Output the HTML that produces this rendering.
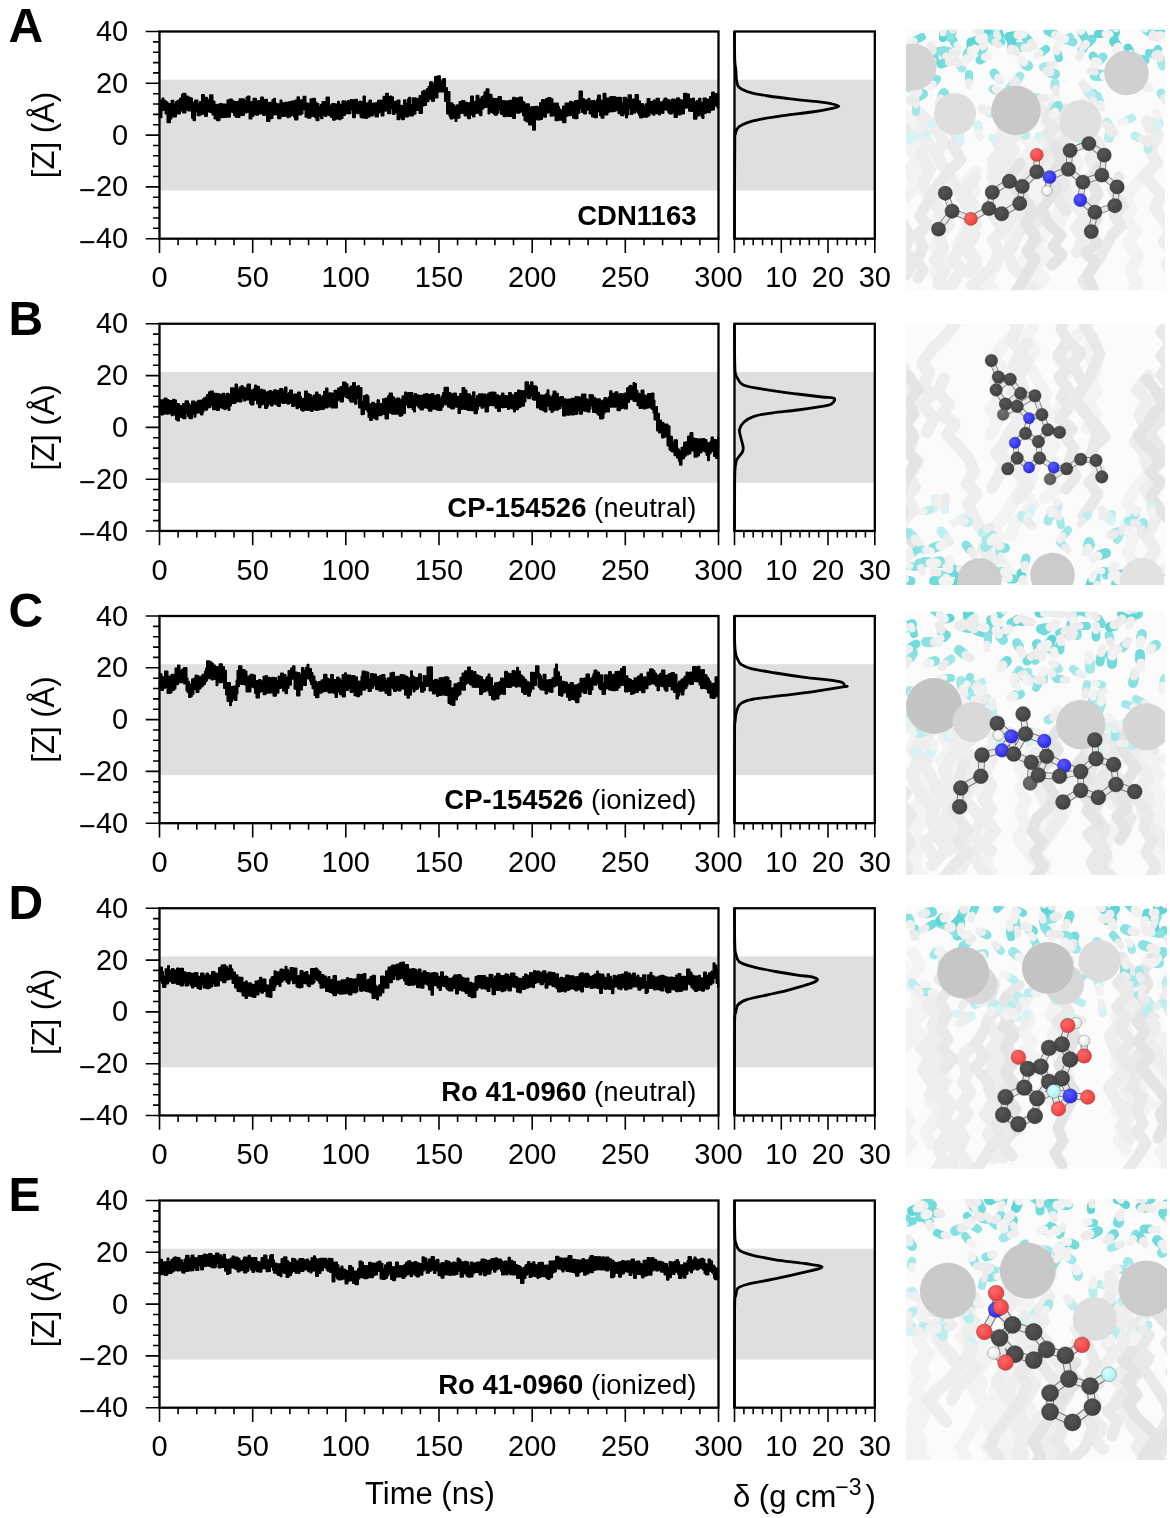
<!DOCTYPE html>
<html><head><meta charset="utf-8"><style>
html,body{margin:0;padding:0;background:#fff;}
body{width:1170px;height:1518px;position:relative;overflow:hidden;font-family:"Liberation Sans", sans-serif;}
</style></head><body>
<svg width="1170" height="1518" viewBox="0 0 1170 1518" style="position:absolute;left:0;top:0;will-change:transform"><rect width="1170" height="1518" fill="#fff"/><rect x="159.5" y="79.7" width="559.0" height="110.9" fill="#dfdfdf"/><rect x="734.5" y="79.7" width="140.3" height="110.9" fill="#dfdfdf"/><path d="M159.8,100.5 L161.5,100.5 L161.5,100.5 L162.5,100.5 L162.5,98.5 L163.5,98.5 L163.5,100.8 L165.5,100.8 L165.5,102.2 L167.5,102.2 L167.5,104.1 L170.0,104.1 L170.0,108.0 L171.5,108.0 L171.5,100.8 L173.5,100.8 L173.5,104.6 L176.0,104.6 L176.0,101.9 L177.5,101.9 L177.5,100.8 L180.0,100.8 L180.0,98.6 L182.0,98.6 L182.0,94.8 L183.0,94.8 L183.0,93.8 L185.5,93.8 L185.5,96.5 L188.0,96.5 L188.0,99.3 L189.5,99.3 L189.5,97.7 L190.5,97.7 L190.5,98.6 L192.0,98.6 L192.0,102.6 L193.5,102.6 L193.5,104.6 L195.0,104.6 L195.0,100.5 L197.5,100.5 L197.5,103.9 L200.0,103.9 L200.0,102.0 L202.0,102.0 L202.0,95.1 L204.0,95.1 L204.0,103.4 L205.0,103.4 L205.0,97.7 L207.0,97.7 L207.0,101.5 L209.0,101.5 L209.0,99.6 L210.0,99.6 L210.0,95.2 L212.5,95.2 L212.5,101.6 L214.5,101.6 L214.5,104.7 L217.0,104.7 L217.0,105.2 L219.5,105.2 L219.5,104.0 L222.0,104.0 L222.0,106.2 L223.5,106.2 L223.5,104.6 L226.0,104.6 L226.0,105.0 L227.5,105.0 L227.5,100.2 L230.0,100.2 L230.0,99.4 L232.0,99.4 L232.0,101.2 L234.0,101.2 L234.0,102.0 L235.5,102.0 L235.5,101.9 L237.0,101.9 L237.0,101.9 L239.5,101.9 L239.5,99.3 L241.5,99.3 L241.5,99.2 L244.0,99.2 L244.0,101.1 L246.5,101.1 L246.5,97.6 L248.0,97.6 L248.0,96.4 L249.5,96.4 L249.5,103.5 L251.5,103.5 L251.5,101.9 L253.5,101.9 L253.5,98.8 L256.0,98.8 L256.0,101.8 L258.0,101.8 L258.0,101.0 L259.5,101.0 L259.5,101.5 L261.0,101.5 L261.0,97.5 L263.0,97.5 L263.0,101.1 L265.0,101.1 L265.0,99.8 L267.0,99.8 L267.0,103.1 L269.5,103.1 L269.5,102.8 L271.5,102.8 L271.5,105.5 L272.5,105.5 L272.5,99.9 L274.0,99.9 L274.0,98.8 L275.0,98.8 L275.0,103.6 L276.5,103.6 L276.5,106.4 L278.0,106.4 L278.0,104.3 L280.5,104.3 L280.5,100.4 L281.5,100.4 L281.5,103.5 L282.5,103.5 L282.5,103.3 L285.0,103.3 L285.0,102.8 L287.5,102.8 L287.5,104.3 L288.5,104.3 L288.5,102.3 L290.5,102.3 L290.5,104.7 L291.5,104.7 L291.5,101.6 L294.0,101.6 L294.0,104.8 L295.0,104.8 L295.0,100.6 L297.5,100.6 L297.5,97.3 L299.0,97.3 L299.0,100.8 L301.0,100.8 L301.0,100.2 L302.5,100.2 L302.5,99.9 L303.5,99.9 L303.5,96.7 L305.5,96.7 L305.5,103.2 L307.0,103.2 L307.0,105.2 L308.0,105.2 L308.0,103.7 L310.5,103.7 L310.5,99.2 L313.0,99.2 L313.0,98.8 L315.0,98.8 L315.0,102.4 L316.5,102.4 L316.5,104.1 L318.5,104.1 L318.5,107.0 L321.0,107.0 L321.0,104.7 L322.5,104.7 L322.5,102.1 L325.0,102.1 L325.0,102.2 L326.5,102.2 L326.5,97.4 L329.0,97.4 L329.0,105.5 L331.0,105.5 L331.0,106.0 L332.0,106.0 L332.0,103.9 L333.0,103.9 L333.0,104.1 L335.0,104.1 L335.0,106.4 L337.0,106.4 L337.0,104.3 L338.0,104.3 L338.0,101.7 L339.0,101.7 L339.0,107.2 L340.5,107.2 L340.5,104.6 L342.5,104.6 L342.5,101.2 L345.0,101.2 L345.0,102.6 L346.0,102.6 L346.0,103.2 L347.5,103.2 L347.5,100.9 L348.5,100.9 L348.5,104.4 L350.5,104.4 L350.5,100.1 L351.5,100.1 L351.5,100.1 L353.0,100.1 L353.0,104.8 L355.0,104.8 L355.0,99.8 L357.0,99.8 L357.0,102.8 L359.5,102.8 L359.5,101.6 L360.5,101.6 L360.5,107.7 L361.5,107.7 L361.5,101.9 L363.5,101.9 L363.5,96.6 L365.0,96.6 L365.0,103.6 L367.0,103.6 L367.0,107.3 L368.5,107.3 L368.5,102.3 L369.5,102.3 L369.5,100.5 L371.0,100.5 L371.0,103.7 L373.0,103.7 L373.0,103.4 L375.5,103.4 L375.5,103.2 L378.0,103.2 L378.0,100.7 L379.5,100.7 L379.5,100.6 L381.5,100.6 L381.5,102.1 L383.5,102.1 L383.5,96.7 L386.0,96.7 L386.0,93.8 L388.0,93.8 L388.0,97.2 L390.5,97.2 L390.5,96.5 L391.5,96.5 L391.5,97.3 L393.0,97.3 L393.0,102.8 L394.5,102.8 L394.5,101.7 L396.5,101.7 L396.5,102.2 L397.5,102.2 L397.5,100.5 L399.5,100.5 L399.5,105.8 L402.0,105.8 L402.0,108.0 L404.0,108.0 L404.0,100.2 L405.5,100.2 L405.5,104.0 L408.0,104.0 L408.0,99.3 L409.0,99.3 L409.0,97.8 L410.5,97.8 L410.5,105.1 L413.0,105.1 L413.0,98.3 L415.5,98.3 L415.5,98.8 L417.5,98.8 L417.5,99.8 L419.5,99.8 L419.5,95.9 L422.0,95.9 L422.0,92.0 L423.5,92.0 L423.5,90.8 L426.0,90.8 L426.0,90.7 L427.0,90.7 L427.0,88.9 L428.5,88.9 L428.5,86.8 L430.0,86.8 L430.0,82.3 L432.0,82.3 L432.0,83.5 L434.0,83.5 L434.0,88.8 L435.0,88.8 L435.0,77.1 L437.5,77.1 L437.5,76.3 L440.0,76.3 L440.0,81.4 L442.5,81.4 L442.5,79.4 L443.5,79.4 L443.5,79.0 L445.0,79.0 L445.0,88.1 L447.0,88.1 L447.0,92.0 L449.5,92.0 L449.5,106.2 L450.5,106.2 L450.5,103.2 L452.5,103.2 L452.5,105.1 L454.0,105.1 L454.0,107.0 L455.5,107.0 L455.5,110.3 L456.5,110.3 L456.5,105.2 L457.5,105.2 L457.5,106.4 L459.5,106.4 L459.5,101.9 L462.0,101.9 L462.0,101.0 L464.5,101.0 L464.5,102.8 L467.0,102.8 L467.0,103.1 L468.0,103.1 L468.0,103.3 L470.0,103.3 L470.0,103.4 L471.0,103.4 L471.0,96.6 L473.0,96.6 L473.0,106.6 L474.5,106.6 L474.5,101.9 L475.5,101.9 L475.5,101.6 L476.5,101.6 L476.5,95.8 L478.5,95.8 L478.5,103.5 L480.0,103.5 L480.0,99.3 L481.5,99.3 L481.5,97.1 L483.5,97.1 L483.5,95.7 L484.5,95.7 L484.5,92.2 L486.5,92.2 L486.5,89.3 L488.5,89.3 L488.5,99.5 L489.5,99.5 L489.5,94.8 L491.5,94.8 L491.5,98.4 L493.0,98.4 L493.0,99.7 L494.5,99.7 L494.5,99.0 L497.0,99.0 L497.0,101.4 L498.5,101.4 L498.5,97.0 L501.0,97.0 L501.0,101.1 L503.5,101.1 L503.5,101.3 L506.0,101.3 L506.0,102.0 L508.0,102.0 L508.0,101.3 L509.5,101.3 L509.5,100.8 L512.0,100.8 L512.0,102.9 L513.0,102.9 L513.0,97.8 L515.0,97.8 L515.0,99.4 L517.0,99.4 L517.0,98.2 L519.5,98.2 L519.5,97.6 L522.0,97.6 L522.0,101.6 L523.0,101.6 L523.0,102.5 L524.5,102.5 L524.5,105.1 L526.5,105.1 L526.5,104.2 L529.0,104.2 L529.0,107.9 L531.5,107.9 L531.5,107.0 L533.0,107.0 L533.0,110.5 L535.0,110.5 L535.0,106.8 L537.5,106.8 L537.5,107.2 L540.0,107.2 L540.0,102.9 L542.0,102.9 L542.0,100.1 L544.0,100.1 L544.0,102.8 L546.0,102.8 L546.0,99.1 L548.0,99.1 L548.0,98.0 L550.5,98.0 L550.5,99.3 L552.5,99.3 L552.5,103.7 L554.5,103.7 L554.5,104.5 L555.5,104.5 L555.5,103.5 L558.0,103.5 L558.0,106.7 L559.0,106.7 L559.0,109.5 L560.5,109.5 L560.5,111.4 L562.0,111.4 L562.0,110.3 L563.0,110.3 L563.0,106.5 L565.5,106.5 L565.5,103.4 L567.5,103.4 L567.5,103.4 L570.0,103.4 L570.0,101.8 L571.0,101.8 L571.0,105.9 L572.0,105.9 L572.0,102.3 L573.0,102.3 L573.0,105.8 L575.0,105.8 L575.0,100.9 L577.5,100.9 L577.5,100.7 L579.5,100.7 L579.5,91.5 L582.0,91.5 L582.0,99.1 L584.0,99.1 L584.0,101.6 L586.0,101.6 L586.0,100.2 L587.0,100.2 L587.0,100.1 L588.5,100.1 L588.5,98.8 L589.5,98.8 L589.5,101.2 L592.0,101.2 L592.0,101.0 L594.5,101.0 L594.5,101.7 L597.0,101.7 L597.0,99.5 L598.0,99.5 L598.0,95.6 L600.0,95.6 L600.0,100.6 L601.5,100.6 L601.5,103.5 L603.5,103.5 L603.5,93.7 L605.5,93.7 L605.5,98.4 L607.5,98.4 L607.5,99.3 L609.5,99.3 L609.5,97.5 L611.0,97.5 L611.0,97.1 L613.5,97.1 L613.5,96.9 L615.0,96.9 L615.0,97.7 L616.5,97.7 L616.5,98.1 L618.5,98.1 L618.5,97.7 L621.0,97.7 L621.0,103.6 L623.5,103.6 L623.5,97.7 L626.0,97.7 L626.0,100.6 L627.0,100.6 L627.0,99.7 L628.5,99.7 L628.5,95.2 L631.0,95.2 L631.0,103.2 L632.5,103.2 L632.5,99.6 L634.0,99.6 L634.0,101.6 L635.5,101.6 L635.5,95.0 L638.0,95.0 L638.0,102.8 L639.0,102.8 L639.0,101.3 L640.0,101.3 L640.0,105.3 L642.0,105.3 L642.0,104.0 L643.0,104.0 L643.0,106.6 L645.5,106.6 L645.5,104.2 L647.5,104.2 L647.5,99.1 L649.5,99.1 L649.5,101.9 L650.5,101.9 L650.5,102.1 L652.5,102.1 L652.5,103.6 L653.5,103.6 L653.5,100.4 L654.5,100.4 L654.5,101.5 L655.5,101.5 L655.5,100.8 L656.5,100.8 L656.5,98.8 L659.0,98.8 L659.0,104.0 L660.0,104.0 L660.0,102.2 L662.0,102.2 L662.0,102.6 L663.5,102.6 L663.5,100.6 L664.5,100.6 L664.5,98.4 L666.5,98.4 L666.5,100.3 L667.5,100.3 L667.5,102.0 L668.5,102.0 L668.5,100.1 L669.5,100.1 L669.5,101.2 L672.0,101.2 L672.0,99.4 L674.5,99.4 L674.5,100.2 L677.0,100.2 L677.0,98.3 L679.0,98.3 L679.0,100.4 L680.5,100.4 L680.5,99.9 L681.5,99.9 L681.5,101.1 L684.0,101.1 L684.0,93.7 L686.5,93.7 L686.5,94.4 L689.0,94.4 L689.0,98.9 L690.0,98.9 L690.0,99.0 L691.0,99.0 L691.0,99.9 L693.0,99.9 L693.0,98.6 L694.0,98.6 L694.0,102.4 L696.5,102.4 L696.5,100.9 L699.0,100.9 L699.0,98.7 L700.5,98.7 L700.5,102.6 L701.5,102.6 L701.5,106.6 L702.5,106.6 L702.5,103.9 L703.5,103.9 L703.5,98.4 L706.0,98.4 L706.0,100.4 L708.0,100.4 L708.0,99.5 L710.0,99.5 L710.0,97.0 L712.0,97.0 L712.0,92.6 L714.0,92.6 L714.0,96.8 L715.0,96.8 L715.0,96.0 L716.0,96.0 L716.0,93.9 L717.5,93.9 L717.5,94.6 L718.2,94.6 L718.2,107.7 L717.5,107.7 L717.5,105.7 L716.0,105.7 L716.0,104.1 L715.0,104.1 L715.0,105.3 L714.0,105.3 L714.0,109.5 L712.0,109.5 L712.0,110.0 L710.0,110.0 L710.0,112.2 L708.0,112.2 L708.0,110.9 L706.0,110.9 L706.0,113.0 L703.5,113.0 L703.5,118.1 L702.5,118.1 L702.5,116.6 L701.5,116.6 L701.5,114.0 L700.5,114.0 L700.5,113.0 L699.0,113.0 L699.0,115.6 L696.5,115.6 L696.5,118.7 L694.0,118.7 L694.0,106.9 L693.0,106.9 L693.0,110.9 L691.0,110.9 L691.0,110.9 L690.0,110.9 L690.0,110.7 L689.0,110.7 L689.0,107.5 L686.5,107.5 L686.5,107.7 L684.0,107.7 L684.0,113.5 L681.5,113.5 L681.5,110.4 L680.5,110.4 L680.5,114.6 L679.0,114.6 L679.0,112.2 L677.0,112.2 L677.0,117.1 L674.5,117.1 L674.5,111.9 L672.0,111.9 L672.0,113.6 L669.5,113.6 L669.5,112.4 L668.5,112.4 L668.5,110.5 L667.5,110.5 L667.5,109.2 L666.5,109.2 L666.5,109.6 L664.5,109.6 L664.5,109.0 L663.5,109.0 L663.5,112.9 L662.0,112.9 L662.0,112.3 L660.0,112.3 L660.0,114.4 L659.0,114.4 L659.0,113.3 L656.5,113.3 L656.5,111.5 L655.5,111.5 L655.5,110.3 L654.5,110.3 L654.5,114.8 L653.5,114.8 L653.5,114.3 L652.5,114.3 L652.5,112.8 L650.5,112.8 L650.5,113.0 L649.5,113.0 L649.5,115.5 L647.5,115.5 L647.5,116.8 L645.5,116.8 L645.5,116.7 L643.0,116.7 L643.0,114.5 L642.0,114.5 L642.0,117.4 L640.0,117.4 L640.0,115.1 L639.0,115.1 L639.0,113.1 L638.0,113.1 L638.0,110.6 L635.5,110.6 L635.5,112.6 L634.0,112.6 L634.0,110.0 L632.5,110.0 L632.5,114.0 L631.0,114.0 L631.0,108.6 L628.5,108.6 L628.5,114.6 L627.0,114.6 L627.0,117.5 L626.0,117.5 L626.0,113.2 L623.5,113.2 L623.5,115.3 L621.0,115.3 L621.0,113.3 L618.5,113.3 L618.5,110.2 L616.5,110.2 L616.5,109.0 L615.0,109.0 L615.0,110.9 L613.5,110.9 L613.5,111.2 L611.0,111.2 L611.0,110.2 L609.5,110.2 L609.5,111.7 L607.5,111.7 L607.5,114.5 L605.5,114.5 L605.5,110.1 L603.5,110.1 L603.5,117.7 L601.5,117.7 L601.5,115.2 L600.0,115.2 L600.0,109.3 L598.0,109.3 L598.0,111.7 L597.0,111.7 L597.0,117.3 L594.5,117.3 L594.5,116.6 L592.0,116.6 L592.0,113.5 L589.5,113.5 L589.5,108.2 L588.5,108.2 L588.5,109.6 L587.0,109.6 L587.0,109.9 L586.0,109.9 L586.0,113.6 L584.0,113.6 L584.0,112.1 L582.0,112.1 L582.0,108.5 L579.5,108.5 L579.5,112.8 L577.5,112.8 L577.5,118.2 L575.0,118.2 L575.0,117.7 L573.0,117.7 L573.0,112.4 L572.0,112.4 L572.0,115.0 L571.0,115.0 L571.0,112.6 L570.0,112.6 L570.0,115.2 L567.5,115.2 L567.5,115.8 L565.5,115.8 L565.5,122.3 L563.0,122.3 L563.0,119.1 L562.0,119.1 L562.0,119.7 L560.5,119.7 L560.5,119.7 L559.0,119.7 L559.0,119.3 L558.0,119.3 L558.0,120.3 L555.5,120.3 L555.5,115.3 L554.5,115.3 L554.5,115.3 L552.5,115.3 L552.5,115.8 L550.5,115.8 L550.5,112.0 L548.0,112.0 L548.0,112.8 L546.0,112.8 L546.0,116.8 L544.0,116.8 L544.0,113.4 L542.0,113.4 L542.0,118.9 L540.0,118.9 L540.0,119.5 L537.5,119.5 L537.5,119.2 L535.0,119.2 L535.0,129.8 L533.0,129.8 L533.0,123.3 L531.5,123.3 L531.5,124.5 L529.0,124.5 L529.0,121.5 L526.5,121.5 L526.5,120.3 L524.5,120.3 L524.5,115.2 L523.0,115.2 L523.0,108.8 L522.0,108.8 L522.0,111.8 L519.5,111.8 L519.5,112.7 L517.0,112.7 L517.0,108.4 L515.0,108.4 L515.0,118.0 L513.0,118.0 L513.0,114.5 L512.0,114.5 L512.0,115.9 L509.5,115.9 L509.5,116.1 L508.0,116.1 L508.0,112.2 L506.0,112.2 L506.0,116.3 L503.5,116.3 L503.5,113.9 L501.0,113.9 L501.0,109.4 L498.5,109.4 L498.5,112.8 L497.0,112.8 L497.0,114.7 L494.5,114.7 L494.5,112.9 L493.0,112.9 L493.0,111.9 L491.5,111.9 L491.5,109.9 L489.5,109.9 L489.5,113.6 L488.5,113.6 L488.5,105.3 L486.5,105.3 L486.5,107.0 L484.5,107.0 L484.5,106.1 L483.5,106.1 L483.5,108.4 L481.5,108.4 L481.5,115.3 L480.0,115.3 L480.0,113.2 L478.5,113.2 L478.5,111.6 L476.5,111.6 L476.5,113.1 L475.5,113.1 L475.5,112.8 L474.5,112.8 L474.5,116.5 L473.0,116.5 L473.0,114.5 L471.0,114.5 L471.0,112.8 L470.0,112.8 L470.0,118.3 L468.0,118.3 L468.0,112.8 L467.0,112.8 L467.0,115.6 L464.5,115.6 L464.5,112.8 L462.0,112.8 L462.0,113.0 L459.5,113.0 L459.5,117.8 L457.5,117.8 L457.5,115.8 L456.5,115.8 L456.5,121.1 L455.5,121.1 L455.5,115.7 L454.0,115.7 L454.0,117.6 L452.5,117.6 L452.5,118.4 L450.5,118.4 L450.5,115.9 L449.5,115.9 L449.5,113.5 L447.0,113.5 L447.0,101.0 L445.0,101.0 L445.0,91.8 L443.5,91.8 L443.5,88.6 L442.5,88.6 L442.5,91.5 L440.0,91.5 L440.0,91.4 L437.5,91.4 L437.5,97.6 L435.0,97.6 L435.0,97.7 L434.0,97.7 L434.0,101.1 L432.0,101.1 L432.0,98.8 L430.0,98.8 L430.0,95.4 L428.5,95.4 L428.5,101.3 L427.0,101.3 L427.0,99.4 L426.0,99.4 L426.0,105.0 L423.5,105.0 L423.5,105.5 L422.0,105.5 L422.0,112.9 L419.5,112.9 L419.5,109.9 L417.5,109.9 L417.5,109.5 L415.5,109.5 L415.5,113.8 L413.0,113.8 L413.0,115.5 L410.5,115.5 L410.5,115.5 L409.0,115.5 L409.0,113.0 L408.0,113.0 L408.0,116.4 L405.5,116.4 L405.5,116.6 L404.0,116.6 L404.0,119.3 L402.0,119.3 L402.0,116.9 L399.5,116.9 L399.5,119.3 L397.5,119.3 L397.5,111.8 L396.5,111.8 L396.5,112.4 L394.5,112.4 L394.5,113.9 L393.0,113.9 L393.0,108.2 L391.5,108.2 L391.5,105.8 L390.5,105.8 L390.5,113.2 L388.0,113.2 L388.0,103.9 L386.0,103.9 L386.0,110.7 L383.5,110.7 L383.5,115.5 L381.5,115.5 L381.5,111.5 L379.5,111.5 L379.5,112.4 L378.0,112.4 L378.0,116.4 L375.5,116.4 L375.5,113.8 L373.0,113.8 L373.0,115.6 L371.0,115.6 L371.0,111.0 L369.5,111.0 L369.5,116.7 L368.5,116.7 L368.5,116.4 L367.0,116.4 L367.0,118.1 L365.0,118.1 L365.0,111.5 L363.5,111.5 L363.5,117.5 L361.5,117.5 L361.5,116.7 L360.5,116.7 L360.5,113.4 L359.5,113.4 L359.5,113.3 L357.0,113.3 L357.0,110.8 L355.0,110.8 L355.0,117.2 L353.0,117.2 L353.0,109.6 L351.5,109.6 L351.5,107.8 L350.5,107.8 L350.5,113.2 L348.5,113.2 L348.5,109.1 L347.5,109.1 L347.5,113.2 L346.0,113.2 L346.0,110.3 L345.0,110.3 L345.0,115.0 L342.5,115.0 L342.5,118.1 L340.5,118.1 L340.5,119.2 L339.0,119.2 L339.0,113.7 L338.0,113.7 L338.0,114.7 L337.0,114.7 L337.0,118.8 L335.0,118.8 L335.0,119.8 L333.0,119.8 L333.0,113.8 L332.0,113.8 L332.0,116.9 L331.0,116.9 L331.0,115.2 L329.0,115.2 L329.0,113.9 L326.5,113.9 L326.5,116.1 L325.0,116.1 L325.0,114.8 L322.5,114.8 L322.5,118.2 L321.0,118.2 L321.0,115.4 L318.5,115.4 L318.5,120.2 L316.5,120.2 L316.5,117.2 L315.0,117.2 L315.0,115.9 L313.0,115.9 L313.0,115.7 L310.5,115.7 L310.5,117.8 L308.0,117.8 L308.0,115.4 L307.0,115.4 L307.0,116.7 L305.5,116.7 L305.5,109.3 L303.5,109.3 L303.5,108.9 L302.5,108.9 L302.5,113.6 L301.0,113.6 L301.0,114.6 L299.0,114.6 L299.0,112.0 L297.5,112.0 L297.5,119.6 L295.0,119.6 L295.0,116.8 L294.0,116.8 L294.0,114.9 L291.5,114.9 L291.5,112.9 L290.5,112.9 L290.5,116.5 L288.5,116.5 L288.5,117.2 L287.5,117.2 L287.5,115.4 L285.0,115.4 L285.0,116.0 L282.5,116.0 L282.5,115.8 L281.5,115.8 L281.5,110.2 L280.5,110.2 L280.5,118.2 L278.0,118.2 L278.0,114.3 L276.5,114.3 L276.5,113.1 L275.0,113.1 L275.0,114.5 L274.0,114.5 L274.0,111.4 L272.5,111.4 L272.5,118.0 L271.5,118.0 L271.5,118.2 L269.5,118.2 L269.5,121.0 L267.0,121.0 L267.0,114.3 L265.0,114.3 L265.0,115.1 L263.0,115.1 L263.0,108.7 L261.0,108.7 L261.0,113.4 L259.5,113.4 L259.5,112.4 L258.0,112.4 L258.0,114.7 L256.0,114.7 L256.0,114.0 L253.5,114.0 L253.5,116.1 L251.5,116.1 L251.5,118.4 L249.5,118.4 L249.5,111.8 L248.0,111.8 L248.0,111.4 L246.5,111.4 L246.5,112.4 L244.0,112.4 L244.0,115.0 L241.5,115.0 L241.5,111.8 L239.5,111.8 L239.5,116.9 L237.0,116.9 L237.0,116.8 L235.5,116.8 L235.5,115.0 L234.0,115.0 L234.0,111.9 L232.0,111.9 L232.0,109.9 L230.0,109.9 L230.0,116.7 L227.5,116.7 L227.5,115.7 L226.0,115.7 L226.0,116.9 L223.5,116.9 L223.5,114.8 L222.0,114.8 L222.0,117.3 L219.5,117.3 L219.5,120.2 L217.0,120.2 L217.0,118.6 L214.5,118.6 L214.5,114.4 L212.5,114.4 L212.5,112.0 L210.0,112.0 L210.0,111.3 L209.0,111.3 L209.0,111.6 L207.0,111.6 L207.0,116.0 L205.0,116.0 L205.0,114.0 L204.0,114.0 L204.0,110.8 L202.0,110.8 L202.0,114.3 L200.0,114.3 L200.0,115.2 L197.5,115.2 L197.5,111.5 L195.0,111.5 L195.0,120.3 L193.5,120.3 L193.5,118.0 L192.0,118.0 L192.0,110.2 L190.5,110.2 L190.5,110.6 L189.5,110.6 L189.5,110.6 L188.0,110.6 L188.0,109.0 L185.5,109.0 L185.5,112.5 L183.0,112.5 L183.0,110.7 L182.0,110.7 L182.0,110.0 L180.0,110.0 L180.0,113.5 L177.5,113.5 L177.5,112.1 L176.0,112.1 L176.0,116.4 L173.5,116.4 L173.5,113.5 L171.5,113.5 L171.5,118.4 L170.0,118.4 L170.0,122.3 L167.5,122.3 L167.5,113.6 L165.5,113.6 L165.5,109.6 L163.5,109.6 L163.5,109.9 L162.5,109.9 L162.5,107.0 L161.5,107.0 L161.5,117.3 L159.8,117.3Z" fill="#000" stroke="#000" stroke-width="2.0" stroke-linejoin="round"/><path d="M734.5,31.5 C734.5,36.2 734.6,53.6 734.8,60.0 C735.0,66.4 735.6,66.7 735.9,70.0 C736.2,73.3 736.1,77.3 736.5,80.0 C736.9,82.7 737.0,84.3 738.0,85.9 C739.0,87.5 740.0,88.3 742.4,89.5 C744.8,90.7 748.1,92.0 752.5,93.1 C756.9,94.2 762.2,95.0 768.5,96.0 C774.8,97.0 781.8,97.9 790.2,98.9 C798.7,99.9 812.2,101.0 819.2,101.8 C826.2,102.6 828.9,103.3 832.2,104.0 C835.5,104.7 838.8,105.5 838.8,106.2 C838.8,106.9 836.7,107.3 832.2,108.3 C827.7,109.3 820.2,110.8 812.0,112.0 C803.8,113.2 791.5,114.4 783.0,115.6 C774.5,116.8 767.2,118.0 761.2,119.2 C755.2,120.4 750.3,121.6 746.7,122.8 C743.1,124.0 741.2,125.2 739.5,126.4 C737.8,127.6 737.2,128.7 736.5,130.0 C735.8,131.3 735.8,132.3 735.5,134.0 C735.2,135.7 735.0,122.5 734.8,140.0 C734.6,157.4 734.5,222.2 734.5,238.7" fill="none" stroke="#000" stroke-width="2.8" stroke-linejoin="round"/><rect x="159.5" y="31.5" width="559.0" height="207.2" fill="none" stroke="#000" stroke-width="2.3"/><rect x="734.5" y="31.5" width="140.3" height="207.2" fill="none" stroke="#000" stroke-width="2.3"/><path d="M145.7,238.7H159.5 M153.0,228.3H159.5 M153.0,218.0H159.5 M153.0,207.6H159.5 M153.0,197.3H159.5 M145.7,186.9H159.5 M153.0,176.5H159.5 M153.0,166.2H159.5 M153.0,155.8H159.5 M153.0,145.5H159.5 M145.7,135.1H159.5 M153.0,124.7H159.5 M153.0,114.4H159.5 M153.0,104.0H159.5 M153.0,93.7H159.5 M145.7,83.3H159.5 M153.0,72.9H159.5 M153.0,62.6H159.5 M153.0,52.2H159.5 M153.0,41.9H159.5 M145.7,31.5H159.5 M159.5,238.7V252.9 M178.1,238.7V245.2 M196.8,238.7V245.2 M215.4,238.7V245.2 M234.0,238.7V245.2 M252.7,238.7V252.9 M271.3,238.7V245.2 M289.9,238.7V245.2 M308.6,238.7V245.2 M327.2,238.7V245.2 M345.8,238.7V252.9 M364.5,238.7V245.2 M383.1,238.7V245.2 M401.7,238.7V245.2 M420.4,238.7V245.2 M439.0,238.7V252.9 M457.6,238.7V245.2 M476.3,238.7V245.2 M494.9,238.7V245.2 M513.5,238.7V245.2 M532.2,238.7V252.9 M550.8,238.7V245.2 M569.4,238.7V245.2 M588.1,238.7V245.2 M606.7,238.7V245.2 M625.3,238.7V252.9 M644.0,238.7V245.2 M662.6,238.7V245.2 M681.2,238.7V245.2 M699.9,238.7V245.2 M718.5,238.7V252.9 M734.5,238.7V252.9 M743.9,238.7V245.2 M753.2,238.7V245.2 M762.6,238.7V245.2 M771.9,238.7V245.2 M781.3,238.7V252.9 M790.6,238.7V245.2 M800.0,238.7V245.2 M809.3,238.7V245.2 M818.7,238.7V245.2 M828.0,238.7V252.9 M837.4,238.7V245.2 M846.7,238.7V245.2 M856.1,238.7V245.2 M865.4,238.7V245.2 M874.8,238.7V252.9" stroke="#000" stroke-width="1.6" fill="none"/><text x="128.2" y="41.0" text-anchor="end" font-family='"Liberation Sans", sans-serif' font-size="29">40</text><text x="128.2" y="92.8" text-anchor="end" font-family='"Liberation Sans", sans-serif' font-size="29">20</text><text x="128.2" y="144.6" text-anchor="end" font-family='"Liberation Sans", sans-serif' font-size="29">0</text><text x="128.2" y="196.4" text-anchor="end" font-family='"Liberation Sans", sans-serif' font-size="29"><tspan dy="3.5">−</tspan><tspan dy="-3.5">20</tspan></text><text x="128.2" y="248.2" text-anchor="end" font-family='"Liberation Sans", sans-serif' font-size="29"><tspan dy="3.5">−</tspan><tspan dy="-3.5">40</tspan></text><text x="159.5" y="287.3" text-anchor="middle" font-family='"Liberation Sans", sans-serif' font-size="29">0</text><text x="252.7" y="287.3" text-anchor="middle" font-family='"Liberation Sans", sans-serif' font-size="29">50</text><text x="345.8" y="287.3" text-anchor="middle" font-family='"Liberation Sans", sans-serif' font-size="29">100</text><text x="439.0" y="287.3" text-anchor="middle" font-family='"Liberation Sans", sans-serif' font-size="29">150</text><text x="532.2" y="287.3" text-anchor="middle" font-family='"Liberation Sans", sans-serif' font-size="29">200</text><text x="625.3" y="287.3" text-anchor="middle" font-family='"Liberation Sans", sans-serif' font-size="29">250</text><text x="718.5" y="287.3" text-anchor="middle" font-family='"Liberation Sans", sans-serif' font-size="29">300</text><text x="781.3" y="287.3" text-anchor="middle" font-family='"Liberation Sans", sans-serif' font-size="29">10</text><text x="828.0" y="287.3" text-anchor="middle" font-family='"Liberation Sans", sans-serif' font-size="29">20</text><text x="874.8" y="287.3" text-anchor="middle" font-family='"Liberation Sans", sans-serif' font-size="29">30</text><text transform="translate(54.2,135.1) rotate(-90)" text-anchor="middle" font-family='"Liberation Sans", sans-serif' font-size="31">[Z] (Å)</text><text x="8.6" y="42.4" font-family='"Liberation Sans", sans-serif' font-weight="bold" font-size="48">A</text><text x="696.5" y="224.5" text-anchor="end" font-family='"Liberation Sans", sans-serif' font-size="27.5"><tspan font-weight="bold">CDN1163</tspan></text><rect x="159.5" y="371.9" width="559.0" height="110.9" fill="#dfdfdf"/><rect x="734.5" y="371.9" width="140.3" height="110.9" fill="#dfdfdf"/><path d="M159.8,401.5 L161.0,401.5 L161.0,400.2 L163.0,400.2 L163.0,404.7 L164.5,404.7 L164.5,398.6 L166.5,398.6 L166.5,399.9 L168.5,399.9 L168.5,401.2 L170.0,401.2 L170.0,400.9 L171.5,400.9 L171.5,401.1 L173.0,401.1 L173.0,399.7 L174.5,399.7 L174.5,400.4 L176.0,400.4 L176.0,408.5 L177.5,408.5 L177.5,403.9 L179.0,403.9 L179.0,406.1 L181.0,406.1 L181.0,406.0 L183.0,406.0 L183.0,404.1 L185.5,404.1 L185.5,401.3 L188.0,401.3 L188.0,403.9 L189.5,403.9 L189.5,406.1 L192.0,406.1 L192.0,401.6 L194.5,401.6 L194.5,407.7 L195.5,407.7 L195.5,402.4 L196.5,402.4 L196.5,402.9 L198.0,402.9 L198.0,400.7 L200.0,400.7 L200.0,401.2 L201.0,401.2 L201.0,400.4 L202.5,400.4 L202.5,401.1 L203.5,401.1 L203.5,398.5 L205.5,398.5 L205.5,397.4 L207.0,397.4 L207.0,395.1 L209.0,395.1 L209.0,392.3 L210.5,392.3 L210.5,391.6 L213.0,391.6 L213.0,399.5 L214.5,399.5 L214.5,393.7 L216.5,393.7 L216.5,394.0 L219.0,394.0 L219.0,396.1 L220.5,396.1 L220.5,394.7 L222.5,394.7 L222.5,393.7 L224.5,393.7 L224.5,398.0 L225.5,398.0 L225.5,396.3 L227.0,396.3 L227.0,393.8 L228.5,393.8 L228.5,398.0 L229.5,398.0 L229.5,394.8 L231.0,394.8 L231.0,388.3 L233.5,388.3 L233.5,389.5 L235.5,389.5 L235.5,384.5 L237.0,384.5 L237.0,389.7 L239.5,389.7 L239.5,387.6 L241.5,387.6 L241.5,386.1 L242.5,386.1 L242.5,387.6 L244.0,387.6 L244.0,390.4 L245.5,390.4 L245.5,388.7 L246.5,388.7 L246.5,387.4 L247.5,387.4 L247.5,384.4 L250.0,384.4 L250.0,392.4 L251.0,392.4 L251.0,390.4 L253.5,390.4 L253.5,389.3 L255.0,389.3 L255.0,385.4 L256.0,385.4 L256.0,387.0 L257.0,387.0 L257.0,386.7 L259.0,386.7 L259.0,391.2 L260.5,391.2 L260.5,389.8 L262.5,389.8 L262.5,391.1 L264.0,391.1 L264.0,390.5 L265.0,390.5 L265.0,392.6 L267.0,392.6 L267.0,395.5 L268.0,395.5 L268.0,392.0 L269.5,392.0 L269.5,391.0 L271.0,391.0 L271.0,394.0 L272.5,394.0 L272.5,392.1 L274.0,392.1 L274.0,390.3 L276.0,390.3 L276.0,393.7 L278.0,393.7 L278.0,390.7 L280.0,390.7 L280.0,389.0 L282.5,389.0 L282.5,391.2 L285.0,391.2 L285.0,387.6 L286.5,387.6 L286.5,393.7 L287.5,393.7 L287.5,394.0 L289.0,394.0 L289.0,392.7 L290.0,392.7 L290.0,390.6 L292.0,390.6 L292.0,395.0 L294.0,395.0 L294.0,394.4 L296.5,394.4 L296.5,395.7 L298.0,395.7 L298.0,392.5 L300.0,392.5 L300.0,396.7 L301.0,396.7 L301.0,399.0 L302.5,399.0 L302.5,399.4 L303.5,399.4 L303.5,398.8 L305.0,398.8 L305.0,391.4 L307.0,391.4 L307.0,394.0 L309.0,394.0 L309.0,394.9 L311.0,394.9 L311.0,402.1 L312.5,402.1 L312.5,397.6 L313.5,397.6 L313.5,395.4 L316.0,395.4 L316.0,392.6 L317.5,392.6 L317.5,395.1 L320.0,395.1 L320.0,397.2 L322.5,397.2 L322.5,396.0 L324.0,396.0 L324.0,391.8 L325.0,391.8 L325.0,398.0 L326.0,398.0 L326.0,388.6 L327.5,388.6 L327.5,393.6 L329.5,393.6 L329.5,393.3 L331.5,393.3 L331.5,393.8 L333.5,393.8 L333.5,395.2 L334.5,395.2 L334.5,390.8 L337.0,390.8 L337.0,392.4 L338.0,392.4 L338.0,388.5 L339.5,388.5 L339.5,390.3 L340.5,390.3 L340.5,387.0 L343.0,387.0 L343.0,382.5 L345.5,382.5 L345.5,384.6 L346.5,384.6 L346.5,384.3 L347.5,384.3 L347.5,388.2 L349.5,388.2 L349.5,390.0 L350.5,390.0 L350.5,386.6 L353.0,386.6 L353.0,382.9 L355.0,382.9 L355.0,386.9 L356.5,386.9 L356.5,388.1 L358.0,388.1 L358.0,386.1 L359.0,386.1 L359.0,388.1 L361.5,388.1 L361.5,401.7 L363.0,401.7 L363.0,403.9 L364.0,403.9 L364.0,395.9 L366.0,395.9 L366.0,395.2 L367.5,395.2 L367.5,396.5 L368.5,396.5 L368.5,404.2 L370.0,404.2 L370.0,406.8 L372.0,406.8 L372.0,402.8 L374.0,402.8 L374.0,405.8 L375.0,405.8 L375.0,408.2 L376.0,408.2 L376.0,404.0 L377.5,404.0 L377.5,400.2 L379.0,400.2 L379.0,404.1 L381.5,404.1 L381.5,404.2 L383.0,404.2 L383.0,399.3 L385.5,399.3 L385.5,398.4 L388.0,398.4 L388.0,396.3 L389.5,396.3 L389.5,393.5 L392.0,393.5 L392.0,397.2 L394.0,397.2 L394.0,399.0 L395.0,399.0 L395.0,399.8 L397.0,399.8 L397.0,398.6 L399.5,398.6 L399.5,400.2 L401.5,400.2 L401.5,401.2 L402.5,401.2 L402.5,396.2 L405.0,396.2 L405.0,392.6 L406.0,392.6 L406.0,393.6 L408.0,393.6 L408.0,392.9 L410.0,392.9 L410.0,395.2 L411.0,395.2 L411.0,393.0 L412.5,393.0 L412.5,395.9 L414.0,395.9 L414.0,400.3 L415.0,400.3 L415.0,394.0 L416.0,394.0 L416.0,396.7 L417.0,396.7 L417.0,395.2 L418.5,395.2 L418.5,396.2 L419.5,396.2 L419.5,397.1 L420.5,397.1 L420.5,395.8 L423.0,395.8 L423.0,399.1 L424.0,399.1 L424.0,394.5 L426.5,394.5 L426.5,394.1 L427.5,394.1 L427.5,395.3 L429.0,395.3 L429.0,395.1 L431.5,395.1 L431.5,393.9 L433.5,393.9 L433.5,396.0 L436.0,396.0 L436.0,397.1 L437.0,397.1 L437.0,395.1 L439.0,395.1 L439.0,398.8 L441.5,398.8 L441.5,396.3 L443.0,396.3 L443.0,393.0 L444.5,393.0 L444.5,387.8 L446.0,387.8 L446.0,387.8 L448.0,387.8 L448.0,393.1 L450.5,393.1 L450.5,395.3 L451.5,395.3 L451.5,394.2 L454.0,394.2 L454.0,393.4 L456.0,393.4 L456.0,396.7 L458.5,396.7 L458.5,397.7 L460.0,397.7 L460.0,394.1 L462.5,394.1 L462.5,387.9 L464.5,387.9 L464.5,390.4 L466.5,390.4 L466.5,395.7 L467.5,395.7 L467.5,394.2 L470.0,394.2 L470.0,398.7 L471.0,398.7 L471.0,396.2 L473.0,396.2 L473.0,392.3 L474.5,392.3 L474.5,399.3 L477.0,399.3 L477.0,396.0 L478.0,396.0 L478.0,395.8 L479.0,395.8 L479.0,394.3 L481.5,394.3 L481.5,394.3 L483.0,394.3 L483.0,394.6 L485.5,394.6 L485.5,395.4 L488.0,395.4 L488.0,393.8 L489.5,393.8 L489.5,392.8 L492.0,392.8 L492.0,392.5 L494.0,392.5 L494.0,392.8 L495.5,392.8 L495.5,395.3 L498.0,395.3 L498.0,398.1 L500.0,398.1 L500.0,396.0 L502.0,396.0 L502.0,393.6 L503.5,393.6 L503.5,398.9 L504.5,398.9 L504.5,395.9 L506.5,395.9 L506.5,396.3 L508.0,396.3 L508.0,399.8 L509.0,399.8 L509.0,393.1 L511.0,393.1 L511.0,395.0 L512.5,395.0 L512.5,395.4 L514.0,395.4 L514.0,397.1 L515.0,397.1 L515.0,393.0 L516.5,393.0 L516.5,396.0 L518.0,396.0 L518.0,390.5 L519.5,390.5 L519.5,393.3 L520.5,393.3 L520.5,391.1 L522.0,391.1 L522.0,392.0 L524.0,392.0 L524.0,390.9 L525.5,390.9 L525.5,382.3 L528.0,382.3 L528.0,387.3 L530.0,387.3 L530.0,385.2 L531.0,385.2 L531.0,382.3 L532.5,382.3 L532.5,387.8 L533.5,387.8 L533.5,386.3 L536.0,386.3 L536.0,387.3 L537.0,387.3 L537.0,392.7 L539.0,392.7 L539.0,395.0 L540.0,395.0 L540.0,395.4 L542.5,395.4 L542.5,395.7 L544.5,395.7 L544.5,395.2 L546.5,395.2 L546.5,393.4 L547.5,393.4 L547.5,390.3 L548.5,390.3 L548.5,395.6 L549.5,395.6 L549.5,397.5 L551.5,397.5 L551.5,399.6 L552.5,399.6 L552.5,395.3 L553.5,395.3 L553.5,391.5 L555.5,391.5 L555.5,393.8 L558.0,393.8 L558.0,398.7 L559.0,398.7 L559.0,397.7 L560.5,397.7 L560.5,397.1 L563.0,397.1 L563.0,399.2 L565.5,399.2 L565.5,400.6 L566.5,400.6 L566.5,403.2 L567.5,403.2 L567.5,399.6 L569.5,399.6 L569.5,400.5 L570.5,400.5 L570.5,399.5 L571.5,399.5 L571.5,398.8 L574.0,398.8 L574.0,400.0 L575.5,400.0 L575.5,396.9 L577.0,396.9 L577.0,397.3 L579.5,397.3 L579.5,397.5 L582.0,397.5 L582.0,394.4 L583.0,394.4 L583.0,394.4 L584.0,394.4 L584.0,394.6 L585.5,394.6 L585.5,399.2 L587.0,399.2 L587.0,400.4 L588.5,400.4 L588.5,400.3 L589.5,400.3 L589.5,395.0 L590.5,395.0 L590.5,395.2 L593.0,395.2 L593.0,397.8 L595.0,397.8 L595.0,400.1 L596.5,400.1 L596.5,399.2 L598.0,399.2 L598.0,399.3 L600.0,399.3 L600.0,401.2 L602.5,401.2 L602.5,403.9 L603.5,403.9 L603.5,400.0 L604.5,400.0 L604.5,398.0 L606.5,398.0 L606.5,398.9 L609.0,398.9 L609.0,397.3 L610.0,397.3 L610.0,391.3 L611.5,391.3 L611.5,395.9 L613.0,395.9 L613.0,393.7 L615.5,393.7 L615.5,392.3 L617.5,392.3 L617.5,395.0 L620.0,395.0 L620.0,393.9 L622.0,393.9 L622.0,394.5 L624.5,394.5 L624.5,393.4 L627.0,393.4 L627.0,388.3 L629.0,388.3 L629.0,386.8 L630.0,386.8 L630.0,385.8 L631.0,385.8 L631.0,386.6 L633.5,386.6 L633.5,382.9 L634.5,382.9 L634.5,383.9 L636.0,383.9 L636.0,390.7 L637.5,390.7 L637.5,393.8 L639.5,393.8 L639.5,395.2 L641.5,395.2 L641.5,390.5 L643.5,390.5 L643.5,395.6 L645.5,395.6 L645.5,396.2 L648.0,396.2 L648.0,393.9 L650.5,393.9 L650.5,394.9 L652.0,394.9 L652.0,393.6 L653.5,393.6 L653.5,400.4 L654.5,400.4 L654.5,407.0 L657.0,407.0 L657.0,413.8 L659.0,413.8 L659.0,420.6 L661.0,420.6 L661.0,423.2 L662.0,423.2 L662.0,422.7 L663.5,422.7 L663.5,427.6 L665.0,427.6 L665.0,424.5 L667.5,424.5 L667.5,426.3 L669.5,426.3 L669.5,441.3 L670.5,441.3 L670.5,436.8 L672.0,436.8 L672.0,442.5 L674.5,442.5 L674.5,440.3 L677.0,440.3 L677.0,448.5 L678.0,448.5 L678.0,449.6 L679.0,449.6 L679.0,452.2 L680.0,452.2 L680.0,451.3 L681.5,451.3 L681.5,447.8 L683.0,447.8 L683.0,450.2 L684.0,450.2 L684.0,442.8 L685.5,442.8 L685.5,442.2 L686.5,442.2 L686.5,442.4 L688.0,442.4 L688.0,436.5 L690.5,436.5 L690.5,433.1 L692.5,433.1 L692.5,438.2 L693.5,438.2 L693.5,438.5 L694.5,438.5 L694.5,438.9 L697.0,438.9 L697.0,443.6 L699.0,443.6 L699.0,439.3 L701.5,439.3 L701.5,439.5 L703.0,439.5 L703.0,439.0 L704.5,439.0 L704.5,440.0 L706.5,440.0 L706.5,443.1 L708.0,443.1 L708.0,443.8 L709.0,443.8 L709.0,443.2 L710.5,443.2 L710.5,441.4 L711.5,441.4 L711.5,437.6 L713.0,437.6 L713.0,440.8 L714.0,440.8 L714.0,440.1 L716.0,440.1 L716.0,441.1 L718.0,441.1 L718.0,437.3 L718.2,437.3 L718.2,447.8 L718.0,447.8 L718.0,458.1 L716.0,458.1 L716.0,456.0 L714.0,456.0 L714.0,448.9 L713.0,448.9 L713.0,451.0 L711.5,451.0 L711.5,451.8 L710.5,451.8 L710.5,453.4 L709.0,453.4 L709.0,460.2 L708.0,460.2 L708.0,455.0 L706.5,455.0 L706.5,451.6 L704.5,451.6 L704.5,447.8 L703.0,447.8 L703.0,450.6 L701.5,450.6 L701.5,452.6 L699.0,452.6 L699.0,455.4 L697.0,455.4 L697.0,456.7 L694.5,456.7 L694.5,449.0 L693.5,449.0 L693.5,450.5 L692.5,450.5 L692.5,448.1 L690.5,448.1 L690.5,453.5 L688.0,453.5 L688.0,454.5 L686.5,454.5 L686.5,453.4 L685.5,453.4 L685.5,456.2 L684.0,456.2 L684.0,458.6 L683.0,458.6 L683.0,456.6 L681.5,456.6 L681.5,464.7 L680.0,464.7 L680.0,461.1 L679.0,461.1 L679.0,457.2 L678.0,457.2 L678.0,457.7 L677.0,457.7 L677.0,455.3 L674.5,455.3 L674.5,451.6 L672.0,451.6 L672.0,450.4 L670.5,450.4 L670.5,449.5 L669.5,449.5 L669.5,445.6 L667.5,445.6 L667.5,436.3 L665.0,436.3 L665.0,437.1 L663.5,437.1 L663.5,437.6 L662.0,437.6 L662.0,431.8 L661.0,431.8 L661.0,432.6 L659.0,432.6 L659.0,430.6 L657.0,430.6 L657.0,419.6 L654.5,419.6 L654.5,412.7 L653.5,412.7 L653.5,408.9 L652.0,408.9 L652.0,407.8 L650.5,407.8 L650.5,407.1 L648.0,407.1 L648.0,407.7 L645.5,407.7 L645.5,408.5 L643.5,408.5 L643.5,403.3 L641.5,403.3 L641.5,408.1 L639.5,408.1 L639.5,405.3 L637.5,405.3 L637.5,400.7 L636.0,400.7 L636.0,401.0 L634.5,401.0 L634.5,400.9 L633.5,400.9 L633.5,399.3 L631.0,399.3 L631.0,395.8 L630.0,395.8 L630.0,395.3 L629.0,395.3 L629.0,401.9 L627.0,401.9 L627.0,408.4 L624.5,408.4 L624.5,407.6 L622.0,407.6 L622.0,408.3 L620.0,408.3 L620.0,410.3 L617.5,410.3 L617.5,404.4 L615.5,404.4 L615.5,406.7 L613.0,406.7 L613.0,403.8 L611.5,403.8 L611.5,406.8 L610.0,406.8 L610.0,406.0 L609.0,406.0 L609.0,411.5 L606.5,411.5 L606.5,408.3 L604.5,408.3 L604.5,413.3 L603.5,413.3 L603.5,417.8 L602.5,417.8 L602.5,418.6 L600.0,418.6 L600.0,414.7 L598.0,414.7 L598.0,413.1 L596.5,413.1 L596.5,409.6 L595.0,409.6 L595.0,412.0 L593.0,412.0 L593.0,405.6 L590.5,405.6 L590.5,408.8 L589.5,408.8 L589.5,411.7 L588.5,411.7 L588.5,411.3 L587.0,411.3 L587.0,409.2 L585.5,409.2 L585.5,410.7 L584.0,410.7 L584.0,405.6 L583.0,405.6 L583.0,406.9 L582.0,406.9 L582.0,413.8 L579.5,413.8 L579.5,410.3 L577.0,410.3 L577.0,414.0 L575.5,414.0 L575.5,408.9 L574.0,408.9 L574.0,414.5 L571.5,414.5 L571.5,411.0 L570.5,411.0 L570.5,414.3 L569.5,414.3 L569.5,414.7 L567.5,414.7 L567.5,412.9 L566.5,412.9 L566.5,412.6 L565.5,412.6 L565.5,415.4 L563.0,415.4 L563.0,405.7 L560.5,405.7 L560.5,408.3 L559.0,408.3 L559.0,408.8 L558.0,408.8 L558.0,409.8 L555.5,409.8 L555.5,408.0 L553.5,408.0 L553.5,410.9 L552.5,410.9 L552.5,412.1 L551.5,412.1 L551.5,409.6 L549.5,409.6 L549.5,404.2 L548.5,404.2 L548.5,402.3 L547.5,402.3 L547.5,405.9 L546.5,405.9 L546.5,411.5 L544.5,411.5 L544.5,410.0 L542.5,410.0 L542.5,409.3 L540.0,409.3 L540.0,406.4 L539.0,406.4 L539.0,407.4 L537.0,407.4 L537.0,397.7 L536.0,397.7 L536.0,399.7 L533.5,399.7 L533.5,399.1 L532.5,399.1 L532.5,395.4 L531.0,395.4 L531.0,393.1 L530.0,393.1 L530.0,398.2 L528.0,398.2 L528.0,396.2 L525.5,396.2 L525.5,401.6 L524.0,401.6 L524.0,405.7 L522.0,405.7 L522.0,404.0 L520.5,404.0 L520.5,407.0 L519.5,407.0 L519.5,407.2 L518.0,407.2 L518.0,409.3 L516.5,409.3 L516.5,404.2 L515.0,404.2 L515.0,411.6 L514.0,411.6 L514.0,408.5 L512.5,408.5 L512.5,408.2 L511.0,408.2 L511.0,406.0 L509.0,406.0 L509.0,409.0 L508.0,409.0 L508.0,406.6 L506.5,406.6 L506.5,407.1 L504.5,407.1 L504.5,405.6 L503.5,405.6 L503.5,407.2 L502.0,407.2 L502.0,406.4 L500.0,406.4 L500.0,411.1 L498.0,411.1 L498.0,407.8 L495.5,407.8 L495.5,403.6 L494.0,403.6 L494.0,405.2 L492.0,405.2 L492.0,404.7 L489.5,404.7 L489.5,405.5 L488.0,405.5 L488.0,411.4 L485.5,411.4 L485.5,406.5 L483.0,406.5 L483.0,407.8 L481.5,407.8 L481.5,405.7 L479.0,405.7 L479.0,404.3 L478.0,404.3 L478.0,409.1 L477.0,409.1 L477.0,413.3 L474.5,413.3 L474.5,410.1 L473.0,410.1 L473.0,410.3 L471.0,410.3 L471.0,404.4 L470.0,404.4 L470.0,410.0 L467.5,410.0 L467.5,408.9 L466.5,408.9 L466.5,409.0 L464.5,409.0 L464.5,403.9 L462.5,403.9 L462.5,409.0 L460.0,409.0 L460.0,413.0 L458.5,413.0 L458.5,406.8 L456.0,406.8 L456.0,406.2 L454.0,406.2 L454.0,408.5 L451.5,408.5 L451.5,407.8 L450.5,407.8 L450.5,406.7 L448.0,406.7 L448.0,404.4 L446.0,404.4 L446.0,399.9 L444.5,399.9 L444.5,404.2 L443.0,404.2 L443.0,406.8 L441.5,406.8 L441.5,410.1 L439.0,410.1 L439.0,409.8 L437.0,409.8 L437.0,408.9 L436.0,408.9 L436.0,408.8 L433.5,408.8 L433.5,406.1 L431.5,406.1 L431.5,410.8 L429.0,410.8 L429.0,408.6 L427.5,408.6 L427.5,403.3 L426.5,403.3 L426.5,407.6 L424.0,407.6 L424.0,407.7 L423.0,407.7 L423.0,409.4 L420.5,409.4 L420.5,406.2 L419.5,406.2 L419.5,407.4 L418.5,407.4 L418.5,405.6 L417.0,405.6 L417.0,405.1 L416.0,405.1 L416.0,404.1 L415.0,404.1 L415.0,411.4 L414.0,411.4 L414.0,409.2 L412.5,409.2 L412.5,406.1 L411.0,406.1 L411.0,406.9 L410.0,406.9 L410.0,407.3 L408.0,407.3 L408.0,404.2 L406.0,404.2 L406.0,405.0 L405.0,405.0 L405.0,412.9 L402.5,412.9 L402.5,415.0 L401.5,415.0 L401.5,415.8 L399.5,415.8 L399.5,413.7 L397.0,413.7 L397.0,413.8 L395.0,413.8 L395.0,408.2 L394.0,408.2 L394.0,413.7 L392.0,413.7 L392.0,412.7 L389.5,412.7 L389.5,406.5 L388.0,406.5 L388.0,418.5 L385.5,418.5 L385.5,414.0 L383.0,414.0 L383.0,413.8 L381.5,413.8 L381.5,415.3 L379.0,415.3 L379.0,412.1 L377.5,412.1 L377.5,419.3 L376.0,419.3 L376.0,418.6 L375.0,418.6 L375.0,418.0 L374.0,418.0 L374.0,415.6 L372.0,415.6 L372.0,419.9 L370.0,419.9 L370.0,417.1 L368.5,417.1 L368.5,411.5 L367.5,411.5 L367.5,409.6 L366.0,409.6 L366.0,409.2 L364.0,409.2 L364.0,414.0 L363.0,414.0 L363.0,414.2 L361.5,414.2 L361.5,407.6 L359.0,407.6 L359.0,396.5 L358.0,396.5 L358.0,398.2 L356.5,398.2 L356.5,403.8 L355.0,403.8 L355.0,396.2 L353.0,396.2 L353.0,401.7 L350.5,401.7 L350.5,400.0 L349.5,400.0 L349.5,398.1 L347.5,398.1 L347.5,393.0 L346.5,393.0 L346.5,397.1 L345.5,397.1 L345.5,395.2 L343.0,395.2 L343.0,401.4 L340.5,401.4 L340.5,399.5 L339.5,399.5 L339.5,399.1 L338.0,399.1 L338.0,400.4 L337.0,400.4 L337.0,407.6 L334.5,407.6 L334.5,402.4 L333.5,402.4 L333.5,407.5 L331.5,407.5 L331.5,404.6 L329.5,404.6 L329.5,406.5 L327.5,406.5 L327.5,407.4 L326.0,407.4 L326.0,407.6 L325.0,407.6 L325.0,403.2 L324.0,403.2 L324.0,409.0 L322.5,409.0 L322.5,408.9 L320.0,408.9 L320.0,409.5 L317.5,409.5 L317.5,410.0 L316.0,410.0 L316.0,409.6 L313.5,409.6 L313.5,409.4 L312.5,409.4 L312.5,411.1 L311.0,411.1 L311.0,406.6 L309.0,406.6 L309.0,409.9 L307.0,409.9 L307.0,408.9 L305.0,408.9 L305.0,410.0 L303.5,410.0 L303.5,410.8 L302.5,410.8 L302.5,409.8 L301.0,409.8 L301.0,407.2 L300.0,407.2 L300.0,404.7 L298.0,404.7 L298.0,408.2 L296.5,408.2 L296.5,405.2 L294.0,405.2 L294.0,406.1 L292.0,406.1 L292.0,402.7 L290.0,402.7 L290.0,402.9 L289.0,402.9 L289.0,403.7 L287.5,403.7 L287.5,402.4 L286.5,402.4 L286.5,400.8 L285.0,400.8 L285.0,403.1 L282.5,403.1 L282.5,401.9 L280.0,401.9 L280.0,405.9 L278.0,405.9 L278.0,404.6 L276.0,404.6 L276.0,400.2 L274.0,400.2 L274.0,403.8 L272.5,403.8 L272.5,405.4 L271.0,405.4 L271.0,401.6 L269.5,401.6 L269.5,404.0 L268.0,404.0 L268.0,406.3 L267.0,406.3 L267.0,407.9 L265.0,407.9 L265.0,403.4 L264.0,403.4 L264.0,401.5 L262.5,401.5 L262.5,404.4 L260.5,404.4 L260.5,407.2 L259.0,407.2 L259.0,403.6 L257.0,403.6 L257.0,394.8 L256.0,394.8 L256.0,397.6 L255.0,397.6 L255.0,400.1 L253.5,400.1 L253.5,404.6 L251.0,404.6 L251.0,403.2 L250.0,403.2 L250.0,399.6 L247.5,399.6 L247.5,395.6 L246.5,395.6 L246.5,399.6 L245.5,399.6 L245.5,400.5 L244.0,400.5 L244.0,398.0 L242.5,398.0 L242.5,396.8 L241.5,396.8 L241.5,401.4 L239.5,401.4 L239.5,401.3 L237.0,401.3 L237.0,400.8 L235.5,400.8 L235.5,403.0 L233.5,403.0 L233.5,403.1 L231.0,403.1 L231.0,405.4 L229.5,405.4 L229.5,409.9 L228.5,409.9 L228.5,408.0 L227.0,408.0 L227.0,407.6 L225.5,407.6 L225.5,409.3 L224.5,409.3 L224.5,408.2 L222.5,408.2 L222.5,404.0 L220.5,404.0 L220.5,407.4 L219.0,407.4 L219.0,409.9 L216.5,409.9 L216.5,407.4 L214.5,407.4 L214.5,409.2 L213.0,409.2 L213.0,405.1 L210.5,405.1 L210.5,407.0 L209.0,407.0 L209.0,407.4 L207.0,407.4 L207.0,409.7 L205.5,409.7 L205.5,408.8 L203.5,408.8 L203.5,411.6 L202.5,411.6 L202.5,414.5 L201.0,414.5 L201.0,412.7 L200.0,412.7 L200.0,412.5 L198.0,412.5 L198.0,411.3 L196.5,411.3 L196.5,413.2 L195.5,413.2 L195.5,416.7 L194.5,416.7 L194.5,413.8 L192.0,413.8 L192.0,418.3 L189.5,418.3 L189.5,416.2 L188.0,416.2 L188.0,413.6 L185.5,413.6 L185.5,418.2 L183.0,418.2 L183.0,417.0 L181.0,417.0 L181.0,416.2 L179.0,416.2 L179.0,420.5 L177.5,420.5 L177.5,419.3 L176.0,419.3 L176.0,412.1 L174.5,412.1 L174.5,414.4 L173.0,414.4 L173.0,415.2 L171.5,415.2 L171.5,412.9 L170.0,412.9 L170.0,410.9 L168.5,410.9 L168.5,413.7 L166.5,413.7 L166.5,413.2 L164.5,413.2 L164.5,413.7 L163.0,413.7 L163.0,414.5 L161.0,414.5 L161.0,413.8 L159.8,413.8Z" fill="#000" stroke="#000" stroke-width="2.0" stroke-linejoin="round"/><path d="M734.5,323.8 C734.5,330.6 734.6,356.6 734.8,365.0 C735.0,373.4 735.1,371.8 735.5,374.0 C735.9,376.2 735.9,376.1 737.3,378.0 C738.7,379.9 739.1,383.4 743.8,385.3 C748.5,387.2 756.6,388.2 765.6,389.6 C774.6,391.1 788.1,392.8 797.5,394.0 C806.9,395.2 815.9,396.3 822.0,397.0 C828.1,397.7 832.2,397.3 834.0,398.3 C835.8,399.3 833.8,401.8 832.5,403.0 C831.2,404.2 832.2,404.4 826.4,405.6 C820.6,406.8 806.4,408.8 797.5,410.0 C788.6,411.2 780.0,411.7 772.8,412.8 C765.5,413.9 758.8,414.8 754.0,416.4 C749.2,418.0 746.2,420.0 743.8,422.2 C741.4,424.4 740.0,426.8 739.5,429.5 C739.0,432.2 740.4,435.3 741.0,438.2 C741.6,441.1 742.9,444.6 743.1,446.9 C743.3,449.2 743.5,449.8 742.4,452.0 C741.3,454.2 737.8,457.2 736.6,460.0 C735.4,462.8 735.4,465.3 735.1,468.6 C734.8,471.9 734.8,469.6 734.7,480.0 C734.6,490.4 734.5,522.5 734.5,531.0" fill="none" stroke="#000" stroke-width="2.8" stroke-linejoin="round"/><rect x="159.5" y="323.75" width="559.0" height="207.2" fill="none" stroke="#000" stroke-width="2.3"/><rect x="734.5" y="323.75" width="140.3" height="207.2" fill="none" stroke="#000" stroke-width="2.3"/><path d="M145.7,531.0H159.5 M153.0,520.6H159.5 M153.0,510.2H159.5 M153.0,499.9H159.5 M153.0,489.5H159.5 M145.7,479.2H159.5 M153.0,468.8H159.5 M153.0,458.4H159.5 M153.0,448.1H159.5 M153.0,437.7H159.5 M145.7,427.4H159.5 M153.0,417.0H159.5 M153.0,406.6H159.5 M153.0,396.3H159.5 M153.0,385.9H159.5 M145.7,375.6H159.5 M153.0,365.2H159.5 M153.0,354.8H159.5 M153.0,344.5H159.5 M153.0,334.1H159.5 M145.7,323.8H159.5 M159.5,531.0V545.2 M178.1,531.0V537.5 M196.8,531.0V537.5 M215.4,531.0V537.5 M234.0,531.0V537.5 M252.7,531.0V545.2 M271.3,531.0V537.5 M289.9,531.0V537.5 M308.6,531.0V537.5 M327.2,531.0V537.5 M345.8,531.0V545.2 M364.5,531.0V537.5 M383.1,531.0V537.5 M401.7,531.0V537.5 M420.4,531.0V537.5 M439.0,531.0V545.2 M457.6,531.0V537.5 M476.3,531.0V537.5 M494.9,531.0V537.5 M513.5,531.0V537.5 M532.2,531.0V545.2 M550.8,531.0V537.5 M569.4,531.0V537.5 M588.1,531.0V537.5 M606.7,531.0V537.5 M625.3,531.0V545.2 M644.0,531.0V537.5 M662.6,531.0V537.5 M681.2,531.0V537.5 M699.9,531.0V537.5 M718.5,531.0V545.2 M734.5,531.0V545.2 M743.9,531.0V537.5 M753.2,531.0V537.5 M762.6,531.0V537.5 M771.9,531.0V537.5 M781.3,531.0V545.2 M790.6,531.0V537.5 M800.0,531.0V537.5 M809.3,531.0V537.5 M818.7,531.0V537.5 M828.0,531.0V545.2 M837.4,531.0V537.5 M846.7,531.0V537.5 M856.1,531.0V537.5 M865.4,531.0V537.5 M874.8,531.0V545.2" stroke="#000" stroke-width="1.6" fill="none"/><text x="128.2" y="333.2" text-anchor="end" font-family='"Liberation Sans", sans-serif' font-size="29">40</text><text x="128.2" y="385.1" text-anchor="end" font-family='"Liberation Sans", sans-serif' font-size="29">20</text><text x="128.2" y="436.9" text-anchor="end" font-family='"Liberation Sans", sans-serif' font-size="29">0</text><text x="128.2" y="488.7" text-anchor="end" font-family='"Liberation Sans", sans-serif' font-size="29"><tspan dy="3.5">−</tspan><tspan dy="-3.5">20</tspan></text><text x="128.2" y="540.5" text-anchor="end" font-family='"Liberation Sans", sans-serif' font-size="29"><tspan dy="3.5">−</tspan><tspan dy="-3.5">40</tspan></text><text x="159.5" y="579.5" text-anchor="middle" font-family='"Liberation Sans", sans-serif' font-size="29">0</text><text x="252.7" y="579.5" text-anchor="middle" font-family='"Liberation Sans", sans-serif' font-size="29">50</text><text x="345.8" y="579.5" text-anchor="middle" font-family='"Liberation Sans", sans-serif' font-size="29">100</text><text x="439.0" y="579.5" text-anchor="middle" font-family='"Liberation Sans", sans-serif' font-size="29">150</text><text x="532.2" y="579.5" text-anchor="middle" font-family='"Liberation Sans", sans-serif' font-size="29">200</text><text x="625.3" y="579.5" text-anchor="middle" font-family='"Liberation Sans", sans-serif' font-size="29">250</text><text x="718.5" y="579.5" text-anchor="middle" font-family='"Liberation Sans", sans-serif' font-size="29">300</text><text x="781.3" y="579.5" text-anchor="middle" font-family='"Liberation Sans", sans-serif' font-size="29">10</text><text x="828.0" y="579.5" text-anchor="middle" font-family='"Liberation Sans", sans-serif' font-size="29">20</text><text x="874.8" y="579.5" text-anchor="middle" font-family='"Liberation Sans", sans-serif' font-size="29">30</text><text transform="translate(54.2,427.4) rotate(-90)" text-anchor="middle" font-family='"Liberation Sans", sans-serif' font-size="31">[Z] (Å)</text><text x="8.6" y="334.6" font-family='"Liberation Sans", sans-serif' font-weight="bold" font-size="48">B</text><text x="696.5" y="516.8" text-anchor="end" font-family='"Liberation Sans", sans-serif' font-size="27.5"><tspan font-weight="bold">CP-154526</tspan> (neutral)</text><rect x="159.5" y="664.2" width="559.0" height="110.9" fill="#dfdfdf"/><rect x="734.5" y="664.2" width="140.3" height="110.9" fill="#dfdfdf"/><path d="M159.8,674.3 L161.5,674.3 L161.5,677.1 L163.0,677.1 L163.0,677.4 L165.0,677.4 L165.0,671.6 L167.5,671.6 L167.5,676.6 L170.0,676.6 L170.0,680.3 L171.5,680.3 L171.5,674.7 L174.0,674.7 L174.0,675.9 L175.5,675.9 L175.5,668.4 L178.0,668.4 L178.0,665.5 L179.5,665.5 L179.5,672.3 L181.5,672.3 L181.5,669.9 L182.5,669.9 L182.5,669.5 L184.0,669.5 L184.0,668.0 L186.5,668.0 L186.5,678.3 L187.5,678.3 L187.5,681.8 L189.0,681.8 L189.0,684.3 L190.5,684.3 L190.5,687.5 L192.0,687.5 L192.0,679.5 L193.5,679.5 L193.5,678.7 L194.5,678.7 L194.5,678.7 L195.5,678.7 L195.5,675.6 L196.5,675.6 L196.5,675.9 L198.5,675.9 L198.5,678.0 L200.5,678.0 L200.5,676.8 L202.5,676.8 L202.5,674.7 L203.5,674.7 L203.5,674.4 L205.0,674.4 L205.0,671.5 L206.0,671.5 L206.0,668.6 L207.0,668.6 L207.0,661.2 L209.5,661.2 L209.5,662.2 L211.5,662.2 L211.5,663.8 L213.0,663.8 L213.0,665.8 L214.0,665.8 L214.0,665.6 L215.0,665.6 L215.0,668.1 L216.5,668.1 L216.5,667.1 L217.5,667.1 L217.5,669.8 L219.5,669.8 L219.5,664.2 L222.0,664.2 L222.0,667.0 L224.0,667.0 L224.0,670.7 L226.0,670.7 L226.0,682.9 L227.5,682.9 L227.5,683.1 L230.0,683.1 L230.0,692.8 L231.0,692.8 L231.0,692.3 L232.0,692.3 L232.0,686.8 L234.5,686.8 L234.5,686.4 L236.5,686.4 L236.5,680.6 L237.5,680.6 L237.5,670.8 L239.0,670.8 L239.0,666.2 L241.5,666.2 L241.5,671.4 L243.5,671.4 L243.5,670.1 L244.5,670.1 L244.5,671.5 L246.5,671.5 L246.5,676.6 L249.0,676.6 L249.0,676.7 L250.5,676.7 L250.5,674.7 L253.0,674.7 L253.0,675.4 L254.0,675.4 L254.0,675.5 L255.0,675.5 L255.0,681.9 L256.5,681.9 L256.5,681.0 L259.0,681.0 L259.0,680.1 L260.5,680.1 L260.5,681.2 L262.0,681.2 L262.0,681.7 L263.5,681.7 L263.5,676.8 L265.5,676.8 L265.5,676.0 L267.0,676.0 L267.0,677.7 L269.5,677.7 L269.5,678.2 L270.5,678.2 L270.5,682.6 L272.0,682.6 L272.0,677.7 L273.5,677.7 L273.5,678.1 L276.0,678.1 L276.0,681.8 L277.0,681.8 L277.0,680.7 L278.5,680.7 L278.5,676.4 L281.0,676.4 L281.0,673.6 L283.0,673.6 L283.0,674.9 L285.5,674.9 L285.5,680.2 L287.0,680.2 L287.0,677.6 L288.5,677.6 L288.5,670.9 L291.0,670.9 L291.0,668.6 L293.0,668.6 L293.0,666.2 L294.5,666.2 L294.5,672.6 L297.0,672.6 L297.0,673.1 L299.5,673.1 L299.5,674.7 L302.0,674.7 L302.0,667.9 L303.5,667.9 L303.5,671.1 L306.0,671.1 L306.0,667.8 L307.5,667.8 L307.5,664.7 L308.5,664.7 L308.5,668.8 L310.0,668.8 L310.0,668.9 L311.0,668.9 L311.0,673.0 L312.5,673.0 L312.5,676.5 L314.5,676.5 L314.5,681.4 L316.0,681.4 L316.0,683.5 L318.5,683.5 L318.5,681.9 L320.0,681.9 L320.0,684.2 L321.5,684.2 L321.5,680.2 L324.0,680.2 L324.0,674.8 L326.5,674.8 L326.5,678.8 L328.5,678.8 L328.5,679.9 L331.0,679.9 L331.0,675.0 L333.0,675.0 L333.0,680.1 L335.5,680.1 L335.5,684.7 L337.0,684.7 L337.0,677.6 L338.5,677.6 L338.5,678.9 L340.0,678.9 L340.0,680.9 L342.5,680.9 L342.5,674.9 L345.0,674.9 L345.0,673.3 L346.0,673.3 L346.0,675.4 L348.0,675.4 L348.0,675.6 L350.5,675.6 L350.5,678.9 L352.5,678.9 L352.5,675.9 L354.5,675.9 L354.5,677.2 L357.0,677.2 L357.0,682.8 L359.0,682.8 L359.0,681.4 L361.5,681.4 L361.5,676.6 L362.5,676.6 L362.5,671.5 L365.0,671.5 L365.0,672.3 L367.5,672.3 L367.5,672.8 L368.5,672.8 L368.5,679.2 L371.0,679.2 L371.0,674.1 L373.0,674.1 L373.0,674.6 L374.5,674.6 L374.5,674.6 L376.0,674.6 L376.0,677.0 L378.0,677.0 L378.0,677.6 L379.5,677.6 L379.5,675.9 L382.0,675.9 L382.0,675.1 L384.5,675.1 L384.5,678.6 L385.5,678.6 L385.5,680.8 L387.0,680.8 L387.0,684.4 L388.0,684.4 L388.0,678.2 L390.5,678.2 L390.5,673.2 L393.0,673.2 L393.0,672.7 L394.0,672.7 L394.0,679.3 L396.0,679.3 L396.0,676.7 L398.5,676.7 L398.5,677.2 L400.5,677.2 L400.5,675.0 L403.0,675.0 L403.0,675.5 L405.0,675.5 L405.0,676.7 L407.5,676.7 L407.5,681.4 L409.0,681.4 L409.0,678.3 L411.0,678.3 L411.0,671.2 L412.0,671.2 L412.0,676.4 L413.5,676.4 L413.5,677.2 L414.5,677.2 L414.5,678.5 L416.0,678.5 L416.0,678.0 L418.0,678.0 L418.0,677.7 L419.0,677.7 L419.0,674.3 L421.0,674.3 L421.0,683.0 L423.5,683.0 L423.5,676.0 L425.0,676.0 L425.0,676.3 L427.5,676.3 L427.5,667.5 L429.5,667.5 L429.5,667.3 L432.0,667.3 L432.0,680.4 L433.0,680.4 L433.0,680.9 L435.0,680.9 L435.0,679.8 L437.0,679.8 L437.0,681.0 L438.0,681.0 L438.0,681.4 L439.5,681.4 L439.5,678.2 L441.5,678.2 L441.5,678.1 L443.0,678.1 L443.0,679.9 L445.0,679.9 L445.0,677.2 L447.5,677.2 L447.5,677.8 L448.5,677.8 L448.5,681.0 L450.5,681.0 L450.5,693.2 L452.5,693.2 L452.5,688.2 L454.5,688.2 L454.5,684.2 L457.0,684.2 L457.0,685.8 L458.0,685.8 L458.0,682.9 L459.5,682.9 L459.5,684.4 L460.5,684.4 L460.5,677.8 L462.5,677.8 L462.5,673.5 L465.0,673.5 L465.0,671.2 L466.5,671.2 L466.5,672.2 L468.0,672.2 L468.0,667.5 L470.0,667.5 L470.0,670.9 L472.5,670.9 L472.5,673.2 L474.5,673.2 L474.5,672.0 L475.5,672.0 L475.5,675.6 L477.0,675.6 L477.0,675.3 L478.0,675.3 L478.0,676.2 L480.0,676.2 L480.0,677.0 L482.0,677.0 L482.0,680.1 L483.5,680.1 L483.5,681.0 L485.5,681.0 L485.5,680.1 L486.5,680.1 L486.5,677.2 L488.5,677.2 L488.5,674.5 L489.5,674.5 L489.5,677.9 L492.0,677.9 L492.0,686.1 L493.0,686.1 L493.0,686.5 L495.0,686.5 L495.0,683.2 L496.5,683.2 L496.5,683.0 L498.5,683.0 L498.5,685.0 L499.5,685.0 L499.5,682.1 L501.0,682.1 L501.0,678.4 L503.0,678.4 L503.0,682.6 L505.0,682.6 L505.0,671.8 L507.0,671.8 L507.0,673.5 L509.0,673.5 L509.0,676.9 L511.0,676.9 L511.0,674.1 L512.5,674.1 L512.5,671.0 L514.5,671.0 L514.5,673.8 L516.0,673.8 L516.0,672.1 L517.0,672.1 L517.0,667.7 L518.0,667.7 L518.0,671.5 L520.0,671.5 L520.0,675.6 L522.0,675.6 L522.0,677.3 L524.0,677.3 L524.0,679.7 L526.0,679.7 L526.0,681.7 L528.0,681.7 L528.0,683.2 L530.0,683.2 L530.0,682.7 L531.0,682.7 L531.0,672.7 L533.5,672.7 L533.5,675.1 L535.0,675.1 L535.0,672.8 L536.0,672.8 L536.0,666.3 L538.5,666.3 L538.5,674.2 L540.0,674.2 L540.0,676.1 L541.0,676.1 L541.0,679.8 L543.5,679.8 L543.5,674.7 L545.5,674.7 L545.5,680.2 L547.0,680.2 L547.0,681.3 L549.0,681.3 L549.0,679.9 L551.0,679.9 L551.0,682.1 L552.5,682.1 L552.5,678.1 L554.5,678.1 L554.5,668.9 L556.0,668.9 L556.0,664.4 L557.0,664.4 L557.0,672.2 L559.0,672.2 L559.0,676.8 L561.0,676.8 L561.0,682.3 L562.5,682.3 L562.5,681.7 L564.0,681.7 L564.0,682.2 L565.0,682.2 L565.0,682.4 L567.0,682.4 L567.0,684.8 L569.0,684.8 L569.0,688.3 L570.5,688.3 L570.5,683.1 L573.0,683.1 L573.0,685.6 L574.5,685.6 L574.5,688.5 L576.0,688.5 L576.0,685.3 L578.5,685.3 L578.5,684.1 L579.5,684.1 L579.5,684.7 L580.5,684.7 L580.5,678.7 L582.0,678.7 L582.0,679.5 L584.0,679.5 L584.0,678.6 L586.5,678.6 L586.5,674.6 L589.0,674.6 L589.0,682.2 L591.0,682.2 L591.0,678.6 L592.5,678.6 L592.5,676.6 L593.5,676.6 L593.5,673.8 L594.5,673.8 L594.5,670.5 L596.5,670.5 L596.5,672.6 L599.0,672.6 L599.0,677.7 L600.0,677.7 L600.0,675.3 L602.5,675.3 L602.5,683.2 L605.0,683.2 L605.0,675.3 L607.0,675.3 L607.0,675.7 L609.0,675.7 L609.0,671.9 L611.0,671.9 L611.0,677.5 L613.0,677.5 L613.0,674.8 L615.5,674.8 L615.5,672.0 L617.5,672.0 L617.5,671.8 L619.5,671.8 L619.5,674.0 L621.0,674.0 L621.0,669.0 L623.0,669.0 L623.0,667.0 L625.0,667.0 L625.0,676.2 L627.5,676.2 L627.5,679.1 L629.5,679.1 L629.5,679.7 L631.0,679.7 L631.0,682.1 L632.0,682.1 L632.0,680.9 L633.5,680.9 L633.5,680.8 L634.5,680.8 L634.5,678.2 L636.5,678.2 L636.5,679.2 L638.0,679.2 L638.0,676.4 L640.5,676.4 L640.5,674.3 L642.0,674.3 L642.0,677.6 L644.5,677.6 L644.5,677.2 L645.5,677.2 L645.5,677.9 L647.5,677.9 L647.5,672.6 L648.5,672.6 L648.5,673.2 L650.0,673.2 L650.0,669.3 L651.5,669.3 L651.5,669.4 L653.0,669.4 L653.0,670.9 L654.5,670.9 L654.5,673.4 L656.0,673.4 L656.0,676.0 L657.5,676.0 L657.5,675.6 L659.0,675.6 L659.0,676.5 L660.0,676.5 L660.0,673.7 L662.0,673.7 L662.0,670.4 L664.5,670.4 L664.5,677.6 L665.5,677.6 L665.5,675.7 L667.5,675.7 L667.5,678.5 L668.5,678.5 L668.5,674.6 L669.5,674.6 L669.5,674.1 L671.5,674.1 L671.5,673.1 L674.0,673.1 L674.0,674.7 L676.5,674.7 L676.5,683.8 L678.0,683.8 L678.0,686.2 L679.0,686.2 L679.0,681.4 L680.5,681.4 L680.5,682.5 L681.5,682.5 L681.5,679.6 L683.5,679.6 L683.5,678.7 L684.5,678.7 L684.5,676.7 L686.5,676.7 L686.5,672.5 L687.5,672.5 L687.5,672.9 L690.0,672.9 L690.0,672.5 L691.0,672.5 L691.0,673.0 L692.0,673.0 L692.0,672.8 L693.0,672.8 L693.0,667.0 L695.5,667.0 L695.5,671.2 L697.5,671.2 L697.5,666.8 L699.5,666.8 L699.5,670.2 L701.0,670.2 L701.0,672.0 L702.5,672.0 L702.5,670.0 L704.0,670.0 L704.0,675.1 L706.5,675.1 L706.5,677.4 L708.0,677.4 L708.0,678.9 L709.0,678.9 L709.0,681.5 L710.5,681.5 L710.5,686.7 L711.5,686.7 L711.5,684.6 L712.5,684.6 L712.5,683.7 L714.5,683.7 L714.5,686.1 L715.5,686.1 L715.5,677.2 L717.5,677.2 L717.5,680.3 L718.2,680.3 L718.2,691.3 L717.5,691.3 L717.5,695.7 L715.5,695.7 L715.5,696.9 L714.5,696.9 L714.5,698.0 L712.5,698.0 L712.5,696.4 L711.5,696.4 L711.5,697.6 L710.5,697.6 L710.5,692.7 L709.0,692.7 L709.0,692.4 L708.0,692.4 L708.0,689.1 L706.5,689.1 L706.5,688.0 L704.0,688.0 L704.0,682.5 L702.5,682.5 L702.5,688.2 L701.0,688.2 L701.0,684.4 L699.5,684.4 L699.5,681.4 L697.5,681.4 L697.5,681.3 L695.5,681.3 L695.5,681.1 L693.0,681.1 L693.0,684.1 L692.0,684.1 L692.0,681.1 L691.0,681.1 L691.0,683.9 L690.0,683.9 L690.0,682.7 L687.5,682.7 L687.5,685.7 L686.5,685.7 L686.5,688.1 L684.5,688.1 L684.5,689.4 L683.5,689.4 L683.5,694.4 L681.5,694.4 L681.5,690.7 L680.5,690.7 L680.5,691.6 L679.0,691.6 L679.0,695.7 L678.0,695.7 L678.0,698.6 L676.5,698.6 L676.5,691.9 L674.0,691.9 L674.0,689.5 L671.5,689.5 L671.5,686.0 L669.5,686.0 L669.5,683.1 L668.5,683.1 L668.5,686.1 L667.5,686.1 L667.5,690.7 L665.5,690.7 L665.5,688.9 L664.5,688.9 L664.5,686.2 L662.0,686.2 L662.0,684.8 L660.0,684.8 L660.0,686.1 L659.0,686.1 L659.0,690.3 L657.5,690.3 L657.5,685.8 L656.0,685.8 L656.0,684.2 L654.5,684.2 L654.5,683.3 L653.0,683.3 L653.0,677.4 L651.5,677.4 L651.5,683.8 L650.0,683.8 L650.0,684.4 L648.5,684.4 L648.5,682.2 L647.5,682.2 L647.5,688.2 L645.5,688.2 L645.5,687.7 L644.5,687.7 L644.5,692.2 L642.0,692.2 L642.0,686.5 L640.5,686.5 L640.5,690.0 L638.0,690.0 L638.0,692.0 L636.5,692.0 L636.5,688.9 L634.5,688.9 L634.5,693.2 L633.5,693.2 L633.5,692.6 L632.0,692.6 L632.0,694.1 L631.0,694.1 L631.0,691.1 L629.5,691.1 L629.5,691.0 L627.5,691.0 L627.5,691.4 L625.0,691.4 L625.0,681.1 L623.0,681.1 L623.0,685.0 L621.0,685.0 L621.0,685.2 L619.5,685.2 L619.5,687.4 L617.5,687.4 L617.5,690.0 L615.5,690.0 L615.5,690.3 L613.0,690.3 L613.0,690.0 L611.0,690.0 L611.0,689.4 L609.0,689.4 L609.0,687.3 L607.0,687.3 L607.0,688.4 L605.0,688.4 L605.0,694.1 L602.5,694.1 L602.5,689.3 L600.0,689.3 L600.0,687.8 L599.0,687.8 L599.0,682.8 L596.5,682.8 L596.5,684.7 L594.5,684.7 L594.5,684.3 L593.5,684.3 L593.5,683.1 L592.5,683.1 L592.5,689.5 L591.0,689.5 L591.0,693.9 L589.0,693.9 L589.0,689.1 L586.5,689.1 L586.5,693.1 L584.0,693.1 L584.0,691.6 L582.0,691.6 L582.0,691.7 L580.5,691.7 L580.5,696.4 L579.5,696.4 L579.5,694.4 L578.5,694.4 L578.5,702.3 L576.0,702.3 L576.0,699.8 L574.5,699.8 L574.5,698.4 L573.0,698.4 L573.0,699.0 L570.5,699.0 L570.5,699.9 L569.0,699.9 L569.0,696.7 L567.0,696.7 L567.0,692.5 L565.0,692.5 L565.0,691.4 L564.0,691.4 L564.0,692.4 L562.5,692.4 L562.5,695.7 L561.0,695.7 L561.0,694.9 L559.0,694.9 L559.0,685.2 L557.0,685.2 L557.0,679.6 L556.0,679.6 L556.0,685.7 L554.5,685.7 L554.5,686.4 L552.5,686.4 L552.5,692.0 L551.0,692.0 L551.0,691.5 L549.0,691.5 L549.0,690.6 L547.0,690.6 L547.0,693.5 L545.5,693.5 L545.5,689.8 L543.5,689.8 L543.5,689.6 L541.0,689.6 L541.0,688.7 L540.0,688.7 L540.0,686.8 L538.5,686.8 L538.5,677.6 L536.0,677.6 L536.0,685.1 L535.0,685.1 L535.0,684.2 L533.5,684.2 L533.5,688.7 L531.0,688.7 L531.0,691.7 L530.0,691.7 L530.0,695.7 L528.0,695.7 L528.0,693.0 L526.0,693.0 L526.0,694.1 L524.0,694.1 L524.0,692.0 L522.0,692.0 L522.0,686.4 L520.0,686.4 L520.0,685.8 L518.0,685.8 L518.0,680.3 L517.0,680.3 L517.0,686.7 L516.0,686.7 L516.0,685.8 L514.5,685.8 L514.5,684.2 L512.5,684.2 L512.5,685.7 L511.0,685.7 L511.0,686.9 L509.0,686.9 L509.0,687.0 L507.0,687.0 L507.0,684.3 L505.0,684.3 L505.0,693.9 L503.0,693.9 L503.0,693.4 L501.0,693.4 L501.0,691.9 L499.5,691.9 L499.5,694.7 L498.5,694.7 L498.5,698.6 L496.5,698.6 L496.5,696.7 L495.0,696.7 L495.0,699.5 L493.0,699.5 L493.0,698.8 L492.0,698.8 L492.0,694.9 L489.5,694.9 L489.5,691.7 L488.5,691.7 L488.5,689.2 L486.5,689.2 L486.5,690.3 L485.5,690.3 L485.5,691.2 L483.5,691.2 L483.5,692.0 L482.0,692.0 L482.0,694.0 L480.0,694.0 L480.0,686.9 L478.0,686.9 L478.0,685.3 L477.0,685.3 L477.0,686.7 L475.5,686.7 L475.5,686.9 L474.5,686.9 L474.5,686.8 L472.5,686.8 L472.5,684.6 L470.0,684.6 L470.0,677.9 L468.0,677.9 L468.0,682.9 L466.5,682.9 L466.5,683.8 L465.0,683.8 L465.0,689.8 L462.5,689.8 L462.5,689.1 L460.5,689.1 L460.5,694.2 L459.5,694.2 L459.5,694.8 L458.0,694.8 L458.0,696.0 L457.0,696.0 L457.0,699.5 L454.5,699.5 L454.5,704.9 L452.5,704.9 L452.5,704.3 L450.5,704.3 L450.5,703.1 L448.5,703.1 L448.5,688.3 L447.5,688.3 L447.5,694.9 L445.0,694.9 L445.0,694.5 L443.0,694.5 L443.0,691.3 L441.5,691.3 L441.5,694.9 L439.5,694.9 L439.5,694.0 L438.0,694.0 L438.0,695.9 L437.0,695.9 L437.0,693.2 L435.0,693.2 L435.0,693.5 L433.0,693.5 L433.0,689.8 L432.0,689.8 L432.0,690.6 L429.5,690.6 L429.5,684.0 L427.5,684.0 L427.5,685.9 L425.0,685.9 L425.0,690.0 L423.5,690.0 L423.5,691.7 L421.0,691.7 L421.0,686.4 L419.0,686.4 L419.0,686.5 L418.0,686.5 L418.0,688.8 L416.0,688.8 L416.0,689.5 L414.5,689.5 L414.5,691.4 L413.5,691.4 L413.5,687.8 L412.0,687.8 L412.0,688.4 L411.0,688.4 L411.0,694.8 L409.0,694.8 L409.0,697.7 L407.5,697.7 L407.5,694.8 L405.0,694.8 L405.0,688.7 L403.0,688.7 L403.0,688.2 L400.5,688.2 L400.5,690.4 L398.5,690.4 L398.5,689.7 L396.0,689.7 L396.0,690.9 L394.0,690.9 L394.0,688.5 L393.0,688.5 L393.0,687.4 L390.5,687.4 L390.5,695.0 L388.0,695.0 L388.0,692.9 L387.0,692.9 L387.0,692.9 L385.5,692.9 L385.5,690.7 L384.5,690.7 L384.5,690.3 L382.0,690.3 L382.0,690.7 L379.5,690.7 L379.5,689.1 L378.0,689.1 L378.0,689.2 L376.0,689.2 L376.0,685.4 L374.5,685.4 L374.5,685.6 L373.0,685.6 L373.0,687.9 L371.0,687.9 L371.0,690.9 L368.5,690.9 L368.5,688.0 L367.5,688.0 L367.5,688.1 L365.0,688.1 L365.0,689.7 L362.5,689.7 L362.5,688.3 L361.5,688.3 L361.5,694.6 L359.0,694.6 L359.0,696.3 L357.0,696.3 L357.0,695.2 L354.5,695.2 L354.5,686.8 L352.5,686.8 L352.5,692.0 L350.5,692.0 L350.5,687.9 L348.0,687.9 L348.0,690.0 L346.0,690.0 L346.0,686.1 L345.0,686.1 L345.0,696.4 L342.5,696.4 L342.5,694.2 L340.0,694.2 L340.0,691.3 L338.5,691.3 L338.5,691.8 L337.0,691.8 L337.0,696.9 L335.5,696.9 L335.5,692.8 L333.0,692.8 L333.0,688.4 L331.0,688.4 L331.0,692.6 L328.5,692.6 L328.5,689.2 L326.5,689.2 L326.5,691.0 L324.0,691.0 L324.0,691.4 L321.5,691.4 L321.5,692.8 L320.0,692.8 L320.0,691.6 L318.5,691.6 L318.5,697.3 L316.0,697.3 L316.0,695.0 L314.5,695.0 L314.5,688.3 L312.5,688.3 L312.5,684.3 L311.0,684.3 L311.0,681.0 L310.0,681.0 L310.0,678.7 L308.5,678.7 L308.5,674.9 L307.5,674.9 L307.5,678.1 L306.0,678.1 L306.0,685.1 L303.5,685.1 L303.5,679.9 L302.0,679.9 L302.0,689.4 L299.5,689.4 L299.5,695.5 L297.0,695.5 L297.0,688.7 L294.5,688.7 L294.5,678.5 L293.0,678.5 L293.0,678.8 L291.0,678.8 L291.0,684.8 L288.5,684.8 L288.5,688.1 L287.0,688.1 L287.0,693.3 L285.5,693.3 L285.5,690.7 L283.0,690.7 L283.0,687.1 L281.0,687.1 L281.0,688.1 L278.5,688.1 L278.5,692.8 L277.0,692.8 L277.0,692.4 L276.0,692.4 L276.0,695.8 L273.5,695.8 L273.5,687.6 L272.0,687.6 L272.0,692.4 L270.5,692.4 L270.5,690.0 L269.5,690.0 L269.5,692.8 L267.0,692.8 L267.0,686.4 L265.5,686.4 L265.5,694.2 L263.5,694.2 L263.5,691.0 L262.0,691.0 L262.0,690.6 L260.5,690.6 L260.5,691.9 L259.0,691.9 L259.0,697.4 L256.5,697.4 L256.5,692.9 L255.0,692.9 L255.0,687.4 L254.0,687.4 L254.0,684.1 L253.0,684.1 L253.0,686.8 L250.5,686.8 L250.5,691.4 L249.0,691.4 L249.0,691.5 L246.5,691.5 L246.5,684.4 L244.5,684.4 L244.5,681.0 L243.5,681.0 L243.5,683.9 L241.5,683.9 L241.5,683.7 L239.0,683.7 L239.0,686.2 L237.5,686.2 L237.5,693.4 L236.5,693.4 L236.5,700.1 L234.5,700.1 L234.5,698.5 L232.0,698.5 L232.0,701.4 L231.0,701.4 L231.0,705.2 L230.0,705.2 L230.0,700.9 L227.5,700.9 L227.5,694.4 L226.0,694.4 L226.0,688.1 L224.0,688.1 L224.0,679.1 L222.0,679.1 L222.0,682.3 L219.5,682.3 L219.5,681.4 L217.5,681.4 L217.5,685.3 L216.5,685.3 L216.5,679.0 L215.0,679.0 L215.0,678.7 L214.0,678.7 L214.0,677.7 L213.0,677.7 L213.0,679.5 L211.5,679.5 L211.5,677.6 L209.5,677.6 L209.5,678.2 L207.0,678.2 L207.0,680.5 L206.0,680.5 L206.0,681.4 L205.0,681.4 L205.0,683.9 L203.5,683.9 L203.5,685.1 L202.5,685.1 L202.5,686.5 L200.5,686.5 L200.5,688.6 L198.5,688.6 L198.5,692.1 L196.5,692.1 L196.5,684.9 L195.5,684.9 L195.5,688.9 L194.5,688.9 L194.5,688.3 L193.5,688.3 L193.5,694.1 L192.0,694.1 L192.0,695.9 L190.5,695.9 L190.5,696.9 L189.0,696.9 L189.0,692.0 L187.5,692.0 L187.5,690.6 L186.5,690.6 L186.5,683.5 L184.0,683.5 L184.0,681.5 L182.5,681.5 L182.5,682.3 L181.5,682.3 L181.5,682.2 L179.5,682.2 L179.5,679.1 L178.0,679.1 L178.0,684.3 L175.5,684.3 L175.5,688.4 L174.0,688.4 L174.0,690.1 L171.5,690.1 L171.5,692.6 L170.0,692.6 L170.0,693.0 L167.5,693.0 L167.5,687.1 L165.0,687.1 L165.0,687.9 L163.0,687.9 L163.0,690.1 L161.5,690.1 L161.5,690.1 L159.8,690.1Z" fill="#000" stroke="#000" stroke-width="2.0" stroke-linejoin="round"/><path d="M734.5,616.0 C734.5,620.8 734.5,638.5 734.8,645.0 C735.0,651.5 735.4,652.3 736.0,655.0 C736.6,657.7 737.7,659.5 738.5,661.0 C739.3,662.5 738.9,662.9 741.0,664.2 C743.1,665.5 745.3,667.1 751.1,668.6 C756.9,670.1 766.8,671.5 775.7,673.0 C784.6,674.5 794.1,675.9 804.7,677.3 C815.3,678.7 832.9,680.1 839.5,681.6 C846.1,683.1 843.8,685.4 844.6,686.2 C845.5,687.1 850.0,685.8 844.6,686.7 C839.2,687.6 822.3,690.3 812.0,691.8 C801.7,693.2 792.7,694.2 783.0,695.4 C773.3,696.6 761.0,697.7 754.0,699.0 C747.0,700.3 743.9,701.4 741.0,703.4 C738.1,705.4 737.6,708.3 736.6,711.3 C735.6,714.3 735.4,717.5 735.1,721.5 C734.8,725.5 734.7,718.0 734.6,735.0 C734.5,752.0 734.5,808.5 734.5,823.2" fill="none" stroke="#000" stroke-width="2.8" stroke-linejoin="round"/><rect x="159.5" y="616.0" width="559.0" height="207.2" fill="none" stroke="#000" stroke-width="2.3"/><rect x="734.5" y="616.0" width="140.3" height="207.2" fill="none" stroke="#000" stroke-width="2.3"/><path d="M145.7,823.2H159.5 M153.0,812.8H159.5 M153.0,802.5H159.5 M153.0,792.1H159.5 M153.0,781.8H159.5 M145.7,771.4H159.5 M153.0,761.0H159.5 M153.0,750.7H159.5 M153.0,740.3H159.5 M153.0,730.0H159.5 M145.7,719.6H159.5 M153.0,709.2H159.5 M153.0,698.9H159.5 M153.0,688.5H159.5 M153.0,678.2H159.5 M145.7,667.8H159.5 M153.0,657.4H159.5 M153.0,647.1H159.5 M153.0,636.7H159.5 M153.0,626.4H159.5 M145.7,616.0H159.5 M159.5,823.2V837.4 M178.1,823.2V829.7 M196.8,823.2V829.7 M215.4,823.2V829.7 M234.0,823.2V829.7 M252.7,823.2V837.4 M271.3,823.2V829.7 M289.9,823.2V829.7 M308.6,823.2V829.7 M327.2,823.2V829.7 M345.8,823.2V837.4 M364.5,823.2V829.7 M383.1,823.2V829.7 M401.7,823.2V829.7 M420.4,823.2V829.7 M439.0,823.2V837.4 M457.6,823.2V829.7 M476.3,823.2V829.7 M494.9,823.2V829.7 M513.5,823.2V829.7 M532.2,823.2V837.4 M550.8,823.2V829.7 M569.4,823.2V829.7 M588.1,823.2V829.7 M606.7,823.2V829.7 M625.3,823.2V837.4 M644.0,823.2V829.7 M662.6,823.2V829.7 M681.2,823.2V829.7 M699.9,823.2V829.7 M718.5,823.2V837.4 M734.5,823.2V837.4 M743.9,823.2V829.7 M753.2,823.2V829.7 M762.6,823.2V829.7 M771.9,823.2V829.7 M781.3,823.2V837.4 M790.6,823.2V829.7 M800.0,823.2V829.7 M809.3,823.2V829.7 M818.7,823.2V829.7 M828.0,823.2V837.4 M837.4,823.2V829.7 M846.7,823.2V829.7 M856.1,823.2V829.7 M865.4,823.2V829.7 M874.8,823.2V837.4" stroke="#000" stroke-width="1.6" fill="none"/><text x="128.2" y="625.5" text-anchor="end" font-family='"Liberation Sans", sans-serif' font-size="29">40</text><text x="128.2" y="677.3" text-anchor="end" font-family='"Liberation Sans", sans-serif' font-size="29">20</text><text x="128.2" y="729.1" text-anchor="end" font-family='"Liberation Sans", sans-serif' font-size="29">0</text><text x="128.2" y="780.9" text-anchor="end" font-family='"Liberation Sans", sans-serif' font-size="29"><tspan dy="3.5">−</tspan><tspan dy="-3.5">20</tspan></text><text x="128.2" y="832.7" text-anchor="end" font-family='"Liberation Sans", sans-serif' font-size="29"><tspan dy="3.5">−</tspan><tspan dy="-3.5">40</tspan></text><text x="159.5" y="871.8" text-anchor="middle" font-family='"Liberation Sans", sans-serif' font-size="29">0</text><text x="252.7" y="871.8" text-anchor="middle" font-family='"Liberation Sans", sans-serif' font-size="29">50</text><text x="345.8" y="871.8" text-anchor="middle" font-family='"Liberation Sans", sans-serif' font-size="29">100</text><text x="439.0" y="871.8" text-anchor="middle" font-family='"Liberation Sans", sans-serif' font-size="29">150</text><text x="532.2" y="871.8" text-anchor="middle" font-family='"Liberation Sans", sans-serif' font-size="29">200</text><text x="625.3" y="871.8" text-anchor="middle" font-family='"Liberation Sans", sans-serif' font-size="29">250</text><text x="718.5" y="871.8" text-anchor="middle" font-family='"Liberation Sans", sans-serif' font-size="29">300</text><text x="781.3" y="871.8" text-anchor="middle" font-family='"Liberation Sans", sans-serif' font-size="29">10</text><text x="828.0" y="871.8" text-anchor="middle" font-family='"Liberation Sans", sans-serif' font-size="29">20</text><text x="874.8" y="871.8" text-anchor="middle" font-family='"Liberation Sans", sans-serif' font-size="29">30</text><text transform="translate(54.2,719.6) rotate(-90)" text-anchor="middle" font-family='"Liberation Sans", sans-serif' font-size="31">[Z] (Å)</text><text x="8.6" y="626.9" font-family='"Liberation Sans", sans-serif' font-weight="bold" font-size="48">C</text><text x="696.5" y="809.0" text-anchor="end" font-family='"Liberation Sans", sans-serif' font-size="27.5"><tspan font-weight="bold">CP-154526</tspan> (ionized)</text><rect x="159.5" y="956.4" width="559.0" height="110.9" fill="#dfdfdf"/><rect x="734.5" y="956.4" width="140.3" height="110.9" fill="#dfdfdf"/><path d="M159.8,967.5 L162.0,967.5 L162.0,971.7 L163.0,971.7 L163.0,976.4 L165.5,976.4 L165.5,969.2 L168.0,969.2 L168.0,966.1 L169.0,966.1 L169.0,972.8 L170.0,972.8 L170.0,970.6 L172.0,970.6 L172.0,969.1 L173.5,969.1 L173.5,970.2 L175.0,970.2 L175.0,972.9 L177.0,972.9 L177.0,968.6 L179.0,968.6 L179.0,971.8 L180.5,971.8 L180.5,968.7 L183.0,968.7 L183.0,972.3 L185.5,972.3 L185.5,973.4 L187.0,973.4 L187.0,973.8 L188.0,973.8 L188.0,973.1 L190.5,973.1 L190.5,975.0 L192.0,975.0 L192.0,974.0 L193.5,974.0 L193.5,973.6 L195.0,973.6 L195.0,973.1 L197.5,973.1 L197.5,976.7 L199.5,976.7 L199.5,977.1 L201.0,977.1 L201.0,973.4 L202.0,973.4 L202.0,973.4 L203.5,973.4 L203.5,976.2 L205.0,976.2 L205.0,975.7 L206.5,975.7 L206.5,973.5 L208.0,973.5 L208.0,979.6 L209.0,979.6 L209.0,975.4 L210.5,975.4 L210.5,976.4 L212.0,976.4 L212.0,972.1 L214.5,972.1 L214.5,973.4 L216.5,973.4 L216.5,973.9 L219.0,973.9 L219.0,968.1 L221.5,968.1 L221.5,965.5 L223.0,965.5 L223.0,965.3 L225.5,965.3 L225.5,967.0 L227.0,967.0 L227.0,969.3 L228.5,969.3 L228.5,968.8 L229.5,968.8 L229.5,965.5 L231.0,965.5 L231.0,969.3 L232.5,969.3 L232.5,972.4 L235.0,972.4 L235.0,975.3 L237.5,975.3 L237.5,977.4 L240.0,977.4 L240.0,977.8 L242.5,977.8 L242.5,983.1 L244.0,983.1 L244.0,985.3 L245.5,985.3 L245.5,981.4 L247.0,981.4 L247.0,986.3 L248.0,986.3 L248.0,985.9 L249.0,985.9 L249.0,983.3 L251.0,983.3 L251.0,985.1 L252.0,985.1 L252.0,984.7 L253.5,984.7 L253.5,986.5 L255.5,986.5 L255.5,981.5 L257.5,981.5 L257.5,982.2 L258.5,982.2 L258.5,980.8 L260.0,980.8 L260.0,977.8 L261.5,977.8 L261.5,979.8 L263.0,979.8 L263.0,979.5 L265.5,979.5 L265.5,985.0 L266.5,985.0 L266.5,985.6 L269.0,985.6 L269.0,989.5 L270.0,989.5 L270.0,979.8 L271.5,979.8 L271.5,977.3 L272.5,977.3 L272.5,976.9 L274.5,976.9 L274.5,971.3 L275.5,971.3 L275.5,973.3 L277.0,973.3 L277.0,972.3 L279.5,972.3 L279.5,977.3 L280.5,977.3 L280.5,969.5 L282.5,969.5 L282.5,970.7 L283.5,970.7 L283.5,970.0 L285.5,970.0 L285.5,966.8 L286.5,966.8 L286.5,969.7 L288.0,969.7 L288.0,973.0 L289.5,973.0 L289.5,971.8 L290.5,971.8 L290.5,968.0 L293.0,968.0 L293.0,968.8 L294.5,968.8 L294.5,968.5 L296.5,968.5 L296.5,976.3 L298.0,976.3 L298.0,979.2 L299.5,979.2 L299.5,975.5 L300.5,975.5 L300.5,970.9 L302.5,970.9 L302.5,972.8 L304.5,972.8 L304.5,974.3 L306.0,974.3 L306.0,972.1 L307.5,972.1 L307.5,975.9 L308.5,975.9 L308.5,975.8 L310.0,975.8 L310.0,975.2 L311.0,975.2 L311.0,968.9 L313.0,968.9 L313.0,968.9 L314.5,968.9 L314.5,969.5 L315.5,969.5 L315.5,968.5 L317.0,968.5 L317.0,970.2 L318.5,970.2 L318.5,972.0 L319.5,972.0 L319.5,971.9 L320.5,971.9 L320.5,976.0 L322.5,976.0 L322.5,975.0 L323.5,975.0 L323.5,976.6 L326.0,976.6 L326.0,978.7 L328.5,978.7 L328.5,976.9 L329.5,976.9 L329.5,980.0 L332.0,980.0 L332.0,982.0 L333.5,982.0 L333.5,976.1 L336.0,976.1 L336.0,981.8 L338.0,981.8 L338.0,981.6 L339.5,981.6 L339.5,982.2 L341.5,982.2 L341.5,980.2 L344.0,980.2 L344.0,982.2 L345.5,982.2 L345.5,980.1 L347.0,980.1 L347.0,977.9 L348.0,977.9 L348.0,980.7 L349.0,980.7 L349.0,978.9 L351.5,978.9 L351.5,983.0 L353.0,983.0 L353.0,979.5 L354.5,979.5 L354.5,980.9 L356.0,980.9 L356.0,979.0 L357.5,979.0 L357.5,974.8 L360.0,974.8 L360.0,976.7 L361.0,976.7 L361.0,978.9 L362.0,978.9 L362.0,974.8 L364.0,974.8 L364.0,974.1 L365.5,974.1 L365.5,981.1 L368.0,981.1 L368.0,979.8 L369.5,979.8 L369.5,979.2 L370.5,979.2 L370.5,977.1 L372.5,977.1 L372.5,975.7 L375.0,975.7 L375.0,985.4 L376.0,985.4 L376.0,986.8 L377.0,986.8 L377.0,989.7 L378.0,989.7 L378.0,987.2 L379.0,987.2 L379.0,985.3 L381.0,985.3 L381.0,976.4 L383.5,976.4 L383.5,977.1 L386.0,977.1 L386.0,971.3 L388.5,971.3 L388.5,967.5 L390.0,967.5 L390.0,966.9 L392.0,966.9 L392.0,965.6 L394.5,965.6 L394.5,965.4 L397.0,965.4 L397.0,964.5 L398.5,964.5 L398.5,964.6 L400.0,964.6 L400.0,962.9 L402.0,962.9 L402.0,962.4 L404.0,962.4 L404.0,970.1 L405.5,970.1 L405.5,965.1 L408.0,965.1 L408.0,969.5 L410.0,969.5 L410.0,969.4 L412.0,969.4 L412.0,969.1 L414.5,969.1 L414.5,969.7 L416.0,969.7 L416.0,971.7 L417.0,971.7 L417.0,973.4 L418.5,973.4 L418.5,969.5 L420.5,969.5 L420.5,973.3 L422.0,973.3 L422.0,974.6 L423.5,974.6 L423.5,971.2 L425.5,971.2 L425.5,975.2 L426.5,975.2 L426.5,972.9 L428.0,972.9 L428.0,973.0 L429.0,973.0 L429.0,974.3 L431.5,974.3 L431.5,973.3 L433.0,973.3 L433.0,975.5 L434.0,975.5 L434.0,972.9 L435.5,972.9 L435.5,975.9 L436.5,975.9 L436.5,973.5 L437.5,973.5 L437.5,976.7 L439.5,976.7 L439.5,977.9 L441.0,977.9 L441.0,972.3 L443.0,972.3 L443.0,976.9 L445.5,976.9 L445.5,976.5 L446.5,976.5 L446.5,977.0 L447.5,977.0 L447.5,981.0 L449.0,981.0 L449.0,978.7 L451.0,978.7 L451.0,980.5 L452.5,980.5 L452.5,977.9 L453.5,977.9 L453.5,976.4 L454.5,976.4 L454.5,975.2 L456.0,975.2 L456.0,977.9 L458.0,977.9 L458.0,974.9 L460.5,974.9 L460.5,976.2 L461.5,976.2 L461.5,978.1 L464.0,978.1 L464.0,979.1 L465.5,979.1 L465.5,980.7 L466.5,980.7 L466.5,978.4 L468.5,978.4 L468.5,983.2 L470.5,983.2 L470.5,982.7 L471.5,982.7 L471.5,986.6 L473.5,986.6 L473.5,983.6 L475.5,983.6 L475.5,976.9 L476.5,976.9 L476.5,979.6 L477.5,979.6 L477.5,976.0 L479.0,976.0 L479.0,976.0 L481.5,976.0 L481.5,977.1 L482.5,977.1 L482.5,976.1 L485.0,976.1 L485.0,977.7 L487.5,977.7 L487.5,978.8 L489.5,978.8 L489.5,974.8 L491.0,974.8 L491.0,975.1 L492.5,975.1 L492.5,978.8 L495.0,978.8 L495.0,976.4 L497.0,976.4 L497.0,973.8 L499.5,973.8 L499.5,978.8 L500.5,978.8 L500.5,976.1 L501.5,976.1 L501.5,978.2 L503.0,978.2 L503.0,975.9 L505.5,975.9 L505.5,974.2 L507.0,974.2 L507.0,975.1 L508.5,975.1 L508.5,977.1 L511.0,977.1 L511.0,973.5 L512.5,973.5 L512.5,973.6 L514.5,973.6 L514.5,976.4 L515.5,976.4 L515.5,976.9 L517.0,976.9 L517.0,978.4 L519.0,978.4 L519.0,981.0 L520.0,981.0 L520.0,978.8 L521.0,978.8 L521.0,980.0 L522.0,980.0 L522.0,979.6 L523.0,979.6 L523.0,976.9 L525.0,976.9 L525.0,974.4 L526.5,974.4 L526.5,975.8 L528.0,975.8 L528.0,978.9 L530.0,978.9 L530.0,972.9 L531.5,972.9 L531.5,975.7 L533.0,975.7 L533.0,972.7 L534.0,972.7 L534.0,971.0 L535.0,971.0 L535.0,972.2 L537.0,972.2 L537.0,971.4 L539.0,971.4 L539.0,972.4 L540.5,972.4 L540.5,972.9 L543.0,972.9 L543.0,971.2 L545.5,971.2 L545.5,974.6 L547.5,974.6 L547.5,976.1 L548.5,976.1 L548.5,972.4 L551.0,972.4 L551.0,973.3 L552.5,973.3 L552.5,973.0 L554.5,973.0 L554.5,975.8 L556.5,975.8 L556.5,974.2 L558.0,974.2 L558.0,979.1 L560.5,979.1 L560.5,977.7 L562.5,977.7 L562.5,982.4 L563.5,982.4 L563.5,978.7 L564.5,978.7 L564.5,978.2 L566.0,978.2 L566.0,975.6 L568.5,975.6 L568.5,978.0 L569.5,978.0 L569.5,976.2 L571.5,976.2 L571.5,976.3 L573.5,976.3 L573.5,977.3 L575.5,977.3 L575.5,978.7 L577.0,978.7 L577.0,977.0 L579.5,977.0 L579.5,974.3 L581.0,974.3 L581.0,973.2 L583.0,973.2 L583.0,974.4 L585.5,974.4 L585.5,973.7 L588.0,973.7 L588.0,975.3 L589.0,975.3 L589.0,976.8 L590.5,976.8 L590.5,978.3 L592.5,978.3 L592.5,975.9 L594.5,975.9 L594.5,974.6 L597.0,974.6 L597.0,971.4 L598.0,971.4 L598.0,974.1 L600.0,974.1 L600.0,975.6 L602.0,975.6 L602.0,974.5 L603.5,974.5 L603.5,977.6 L605.0,977.6 L605.0,978.0 L606.0,978.0 L606.0,978.1 L607.5,978.1 L607.5,974.3 L609.0,974.3 L609.0,976.8 L611.0,976.8 L611.0,979.8 L612.0,979.8 L612.0,982.7 L613.5,982.7 L613.5,975.8 L615.0,975.8 L615.0,977.4 L617.0,977.4 L617.0,976.2 L618.0,976.2 L618.0,975.3 L620.5,975.3 L620.5,979.1 L621.5,979.1 L621.5,974.5 L624.0,974.5 L624.0,975.4 L625.0,975.4 L625.0,972.2 L627.0,972.2 L627.0,975.7 L628.0,975.7 L628.0,973.6 L630.0,973.6 L630.0,976.9 L631.5,976.9 L631.5,975.2 L633.0,975.2 L633.0,973.6 L635.0,973.6 L635.0,978.1 L636.0,978.1 L636.0,977.3 L637.5,977.3 L637.5,975.6 L638.5,975.6 L638.5,978.0 L640.5,978.0 L640.5,978.2 L643.0,978.2 L643.0,975.2 L645.5,975.2 L645.5,981.9 L647.0,981.9 L647.0,982.5 L648.0,982.5 L648.0,975.2 L650.5,975.2 L650.5,972.8 L651.5,972.8 L651.5,976.2 L654.0,976.2 L654.0,977.5 L655.5,977.5 L655.5,978.2 L656.5,978.2 L656.5,977.4 L658.5,977.4 L658.5,976.5 L659.5,976.5 L659.5,979.9 L661.0,979.9 L661.0,975.8 L663.5,975.8 L663.5,976.4 L665.0,976.4 L665.0,977.1 L666.0,977.1 L666.0,978.6 L667.0,978.6 L667.0,977.6 L668.5,977.6 L668.5,979.9 L670.5,979.9 L670.5,977.4 L672.5,977.4 L672.5,978.2 L674.0,978.2 L674.0,978.0 L676.0,978.0 L676.0,975.5 L678.5,975.5 L678.5,974.1 L680.5,974.1 L680.5,979.7 L682.5,979.7 L682.5,976.8 L684.5,976.8 L684.5,976.9 L687.0,976.9 L687.0,969.6 L689.5,969.6 L689.5,972.4 L691.5,972.4 L691.5,975.6 L693.5,975.6 L693.5,978.9 L695.0,978.9 L695.0,976.6 L697.0,976.6 L697.0,977.5 L698.5,977.5 L698.5,975.8 L700.0,975.8 L700.0,978.5 L702.0,978.5 L702.0,978.3 L704.0,978.3 L704.0,972.5 L706.0,972.5 L706.0,975.6 L708.0,975.6 L708.0,978.9 L709.0,978.9 L709.0,973.3 L711.5,973.3 L711.5,971.4 L713.5,971.4 L713.5,963.3 L714.5,963.3 L714.5,965.4 L716.5,965.4 L716.5,969.4 L718.0,969.4 L718.0,979.9 L718.2,979.9 L718.2,987.0 L718.0,987.0 L718.0,983.0 L716.5,983.0 L716.5,977.9 L714.5,977.9 L714.5,975.8 L713.5,975.8 L713.5,982.7 L711.5,982.7 L711.5,984.5 L709.0,984.5 L709.0,988.3 L708.0,988.3 L708.0,988.7 L706.0,988.7 L706.0,987.0 L704.0,987.0 L704.0,990.7 L702.0,990.7 L702.0,989.2 L700.0,989.2 L700.0,990.1 L698.5,990.1 L698.5,987.4 L697.0,987.4 L697.0,990.9 L695.0,990.9 L695.0,989.3 L693.5,989.3 L693.5,987.6 L691.5,987.6 L691.5,984.6 L689.5,984.6 L689.5,983.5 L687.0,983.5 L687.0,989.4 L684.5,989.4 L684.5,986.1 L682.5,986.1 L682.5,990.8 L680.5,990.8 L680.5,990.9 L678.5,990.9 L678.5,991.2 L676.0,991.2 L676.0,989.6 L674.0,989.6 L674.0,989.3 L672.5,989.3 L672.5,989.1 L670.5,989.1 L670.5,992.0 L668.5,992.0 L668.5,992.5 L667.0,992.5 L667.0,991.2 L666.0,991.2 L666.0,984.2 L665.0,984.2 L665.0,986.7 L663.5,986.7 L663.5,990.4 L661.0,990.4 L661.0,988.8 L659.5,988.8 L659.5,989.6 L658.5,989.6 L658.5,988.7 L656.5,988.7 L656.5,989.2 L655.5,989.2 L655.5,989.6 L654.0,989.6 L654.0,988.1 L651.5,988.1 L651.5,982.2 L650.5,982.2 L650.5,988.1 L648.0,988.1 L648.0,992.0 L647.0,992.0 L647.0,992.9 L645.5,992.9 L645.5,987.2 L643.0,987.2 L643.0,988.0 L640.5,988.0 L640.5,989.7 L638.5,989.7 L638.5,987.3 L637.5,987.3 L637.5,985.3 L636.0,985.3 L636.0,985.8 L635.0,985.8 L635.0,986.4 L633.0,986.4 L633.0,985.5 L631.5,985.5 L631.5,988.2 L630.0,988.2 L630.0,988.4 L628.0,988.4 L628.0,984.6 L627.0,984.6 L627.0,989.4 L625.0,989.4 L625.0,987.6 L624.0,987.6 L624.0,987.3 L621.5,987.3 L621.5,989.3 L620.5,989.3 L620.5,988.4 L618.0,988.4 L618.0,983.6 L617.0,983.6 L617.0,986.6 L615.0,986.6 L615.0,985.3 L613.5,985.3 L613.5,993.3 L612.0,993.3 L612.0,987.2 L611.0,987.2 L611.0,989.0 L609.0,989.0 L609.0,987.8 L607.5,987.8 L607.5,988.5 L606.0,988.5 L606.0,989.1 L605.0,989.1 L605.0,987.7 L603.5,987.7 L603.5,986.2 L602.0,986.2 L602.0,993.1 L600.0,993.1 L600.0,988.2 L598.0,988.2 L598.0,983.7 L597.0,983.7 L597.0,987.4 L594.5,987.4 L594.5,987.4 L592.5,987.4 L592.5,988.1 L590.5,988.1 L590.5,986.1 L589.0,986.1 L589.0,982.2 L588.0,982.2 L588.0,987.1 L585.5,987.1 L585.5,985.9 L583.0,985.9 L583.0,991.5 L581.0,991.5 L581.0,983.2 L579.5,983.2 L579.5,989.6 L577.0,989.6 L577.0,990.4 L575.5,990.4 L575.5,989.0 L573.5,989.0 L573.5,987.3 L571.5,987.3 L571.5,988.6 L569.5,988.6 L569.5,989.4 L568.5,989.4 L568.5,989.9 L566.0,989.9 L566.0,991.6 L564.5,991.6 L564.5,987.6 L563.5,987.6 L563.5,989.9 L562.5,989.9 L562.5,991.1 L560.5,991.1 L560.5,991.4 L558.0,991.4 L558.0,988.2 L556.5,988.2 L556.5,986.6 L554.5,986.6 L554.5,986.0 L552.5,986.0 L552.5,983.6 L551.0,983.6 L551.0,984.5 L548.5,984.5 L548.5,984.2 L547.5,984.2 L547.5,987.8 L545.5,987.8 L545.5,981.7 L543.0,981.7 L543.0,984.3 L540.5,984.3 L540.5,982.2 L539.0,982.2 L539.0,980.6 L537.0,980.6 L537.0,982.4 L535.0,982.4 L535.0,983.3 L534.0,983.3 L534.0,987.3 L533.0,987.3 L533.0,986.6 L531.5,986.6 L531.5,985.8 L530.0,985.8 L530.0,986.7 L528.0,986.7 L528.0,987.7 L526.5,987.7 L526.5,983.8 L525.0,983.8 L525.0,989.0 L523.0,989.0 L523.0,988.0 L522.0,988.0 L522.0,988.7 L521.0,988.7 L521.0,992.4 L520.0,992.4 L520.0,990.5 L519.0,990.5 L519.0,991.7 L517.0,991.7 L517.0,986.1 L515.5,986.1 L515.5,987.3 L514.5,987.3 L514.5,983.0 L512.5,983.0 L512.5,986.4 L511.0,986.4 L511.0,990.5 L508.5,990.5 L508.5,988.6 L507.0,988.6 L507.0,985.0 L505.5,985.0 L505.5,990.6 L503.0,990.6 L503.0,991.2 L501.5,991.2 L501.5,985.7 L500.5,985.7 L500.5,988.9 L499.5,988.9 L499.5,990.1 L497.0,990.1 L497.0,988.2 L495.0,988.2 L495.0,994.2 L492.5,994.2 L492.5,986.3 L491.0,986.3 L491.0,987.0 L489.5,987.0 L489.5,990.9 L487.5,990.9 L487.5,988.7 L485.0,988.7 L485.0,987.8 L482.5,987.8 L482.5,988.6 L481.5,988.6 L481.5,987.2 L479.0,987.2 L479.0,985.5 L477.5,985.5 L477.5,989.8 L476.5,989.8 L476.5,988.6 L475.5,988.6 L475.5,997.0 L473.5,997.0 L473.5,997.2 L471.5,997.2 L471.5,993.4 L470.5,993.4 L470.5,995.8 L468.5,995.8 L468.5,992.7 L466.5,992.7 L466.5,992.9 L465.5,992.9 L465.5,991.1 L464.0,991.1 L464.0,990.5 L461.5,990.5 L461.5,988.6 L460.5,988.6 L460.5,989.8 L458.0,989.8 L458.0,993.6 L456.0,993.6 L456.0,984.5 L454.5,984.5 L454.5,987.9 L453.5,987.9 L453.5,987.4 L452.5,987.4 L452.5,990.5 L451.0,990.5 L451.0,990.6 L449.0,990.6 L449.0,989.6 L447.5,989.6 L447.5,988.4 L446.5,988.4 L446.5,986.8 L445.5,986.8 L445.5,985.9 L443.0,985.9 L443.0,984.4 L441.0,984.4 L441.0,990.0 L439.5,990.0 L439.5,987.5 L437.5,987.5 L437.5,982.7 L436.5,982.7 L436.5,984.7 L435.5,984.7 L435.5,985.3 L434.0,985.3 L434.0,984.3 L433.0,984.3 L433.0,994.8 L431.5,994.8 L431.5,989.6 L429.0,989.6 L429.0,985.6 L428.0,985.6 L428.0,984.2 L426.5,984.2 L426.5,983.1 L425.5,983.1 L425.5,983.4 L423.5,983.4 L423.5,987.7 L422.0,987.7 L422.0,987.5 L420.5,987.5 L420.5,983.3 L418.5,983.3 L418.5,987.2 L417.0,987.2 L417.0,983.7 L416.0,983.7 L416.0,982.2 L414.5,982.2 L414.5,984.7 L412.0,984.7 L412.0,984.7 L410.0,984.7 L410.0,984.9 L408.0,984.9 L408.0,983.9 L405.5,983.9 L405.5,980.6 L404.0,980.6 L404.0,978.0 L402.0,978.0 L402.0,976.3 L400.0,976.3 L400.0,978.8 L398.5,978.8 L398.5,979.5 L397.0,979.5 L397.0,975.3 L394.5,975.3 L394.5,979.0 L392.0,979.0 L392.0,982.2 L390.0,982.2 L390.0,978.2 L388.5,978.2 L388.5,987.8 L386.0,987.8 L386.0,987.8 L383.5,987.8 L383.5,992.5 L381.0,992.5 L381.0,995.6 L379.0,995.6 L379.0,993.0 L378.0,993.0 L378.0,999.4 L377.0,999.4 L377.0,996.0 L376.0,996.0 L376.0,997.6 L375.0,997.6 L375.0,998.1 L372.5,998.1 L372.5,992.5 L370.5,992.5 L370.5,987.8 L369.5,987.8 L369.5,991.5 L368.0,991.5 L368.0,991.1 L365.5,991.1 L365.5,985.4 L364.0,985.4 L364.0,990.2 L362.0,990.2 L362.0,991.1 L361.0,991.1 L361.0,990.4 L360.0,990.4 L360.0,985.4 L357.5,985.4 L357.5,991.4 L356.0,991.4 L356.0,992.5 L354.5,992.5 L354.5,991.7 L353.0,991.7 L353.0,991.9 L351.5,991.9 L351.5,994.5 L349.0,994.5 L349.0,989.7 L348.0,989.7 L348.0,987.9 L347.0,987.9 L347.0,993.2 L345.5,993.2 L345.5,992.8 L344.0,992.8 L344.0,993.6 L341.5,993.6 L341.5,993.7 L339.5,993.7 L339.5,993.1 L338.0,993.1 L338.0,992.0 L336.0,992.0 L336.0,995.3 L333.5,995.3 L333.5,992.9 L332.0,992.9 L332.0,991.9 L329.5,991.9 L329.5,986.5 L328.5,986.5 L328.5,990.9 L326.0,990.9 L326.0,987.3 L323.5,987.3 L323.5,985.1 L322.5,985.1 L322.5,987.7 L320.5,987.7 L320.5,983.2 L319.5,983.2 L319.5,981.6 L318.5,981.6 L318.5,979.9 L317.0,979.9 L317.0,978.9 L315.5,978.9 L315.5,978.9 L314.5,978.9 L314.5,982.6 L313.0,982.6 L313.0,983.8 L311.0,983.8 L311.0,983.9 L310.0,983.9 L310.0,986.2 L308.5,986.2 L308.5,985.2 L307.5,985.2 L307.5,981.9 L306.0,981.9 L306.0,983.3 L304.5,983.3 L304.5,982.7 L302.5,982.7 L302.5,987.1 L300.5,987.1 L300.5,987.5 L299.5,987.5 L299.5,987.3 L298.0,987.3 L298.0,986.5 L296.5,986.5 L296.5,981.1 L294.5,981.1 L294.5,983.2 L293.0,983.2 L293.0,979.4 L290.5,979.4 L290.5,980.4 L289.5,980.4 L289.5,983.6 L288.0,983.6 L288.0,982.0 L286.5,982.0 L286.5,978.1 L285.5,978.1 L285.5,979.7 L283.5,979.7 L283.5,979.2 L282.5,979.2 L282.5,981.4 L280.5,981.4 L280.5,985.9 L279.5,985.9 L279.5,983.9 L277.0,983.9 L277.0,984.2 L275.5,984.2 L275.5,986.8 L274.5,986.8 L274.5,990.0 L272.5,990.0 L272.5,987.5 L271.5,987.5 L271.5,997.0 L270.0,997.0 L270.0,996.6 L269.0,996.6 L269.0,996.2 L266.5,996.2 L266.5,991.3 L265.5,991.3 L265.5,991.0 L263.0,991.0 L263.0,992.7 L261.5,992.7 L261.5,991.5 L260.0,991.5 L260.0,990.0 L258.5,990.0 L258.5,994.4 L257.5,994.4 L257.5,991.5 L255.5,991.5 L255.5,996.9 L253.5,996.9 L253.5,996.6 L252.0,996.6 L252.0,994.9 L251.0,994.9 L251.0,995.7 L249.0,995.7 L249.0,994.0 L248.0,994.0 L248.0,995.2 L247.0,995.2 L247.0,998.1 L245.5,998.1 L245.5,994.7 L244.0,994.7 L244.0,995.5 L242.5,995.5 L242.5,991.4 L240.0,991.4 L240.0,991.0 L237.5,991.0 L237.5,987.6 L235.0,987.6 L235.0,982.9 L232.5,982.9 L232.5,977.8 L231.0,977.8 L231.0,978.4 L229.5,978.4 L229.5,979.3 L228.5,979.3 L228.5,978.4 L227.0,978.4 L227.0,979.8 L225.5,979.8 L225.5,982.2 L223.0,982.2 L223.0,979.6 L221.5,979.6 L221.5,980.3 L219.0,980.3 L219.0,985.6 L216.5,985.6 L216.5,985.7 L214.5,985.7 L214.5,983.2 L212.0,983.2 L212.0,986.4 L210.5,986.4 L210.5,987.4 L209.0,987.4 L209.0,988.2 L208.0,988.2 L208.0,988.3 L206.5,988.3 L206.5,987.2 L205.0,987.2 L205.0,987.4 L203.5,987.4 L203.5,984.1 L202.0,984.1 L202.0,983.0 L201.0,983.0 L201.0,989.1 L199.5,989.1 L199.5,988.0 L197.5,988.0 L197.5,985.9 L195.0,985.9 L195.0,986.0 L193.5,986.0 L193.5,987.6 L192.0,987.6 L192.0,985.2 L190.5,985.2 L190.5,983.2 L188.0,983.2 L188.0,985.4 L187.0,985.4 L187.0,985.4 L185.5,985.4 L185.5,982.5 L183.0,982.5 L183.0,985.5 L180.5,985.5 L180.5,981.6 L179.0,981.6 L179.0,984.0 L177.0,984.0 L177.0,982.7 L175.0,982.7 L175.0,979.5 L173.5,979.5 L173.5,982.9 L172.0,982.9 L172.0,981.1 L170.0,981.1 L170.0,980.3 L169.0,980.3 L169.0,981.7 L168.0,981.7 L168.0,983.6 L165.5,983.6 L165.5,986.9 L163.0,986.9 L163.0,983.0 L162.0,983.0 L162.0,980.6 L159.8,980.6Z" fill="#000" stroke="#000" stroke-width="2.0" stroke-linejoin="round"/><path d="M734.5,908.2 C734.5,914.4 734.6,937.4 734.8,945.0 C735.0,952.6 735.1,951.3 735.9,954.1 C736.7,956.9 736.5,959.8 739.5,962.0 C742.5,964.2 748.0,965.5 754.0,967.1 C760.0,968.7 768.5,970.2 775.7,971.5 C783.0,972.8 791.2,974.1 797.5,975.1 C803.8,976.1 810.4,976.2 813.4,977.3 C816.4,978.4 819.5,979.5 815.6,981.5 C811.7,983.5 798.1,987.4 790.2,989.6 C782.4,991.8 775.8,993.0 768.5,994.7 C761.2,996.4 751.8,998.0 746.7,999.7 C741.6,1001.4 739.8,1002.8 738.0,1004.8 C736.2,1006.8 736.5,1008.6 735.9,1012.0 C735.3,1015.4 734.8,1007.8 734.6,1025.0 C734.4,1042.2 734.5,1100.4 734.5,1115.5" fill="none" stroke="#000" stroke-width="2.8" stroke-linejoin="round"/><rect x="159.5" y="908.25" width="559.0" height="207.2" fill="none" stroke="#000" stroke-width="2.3"/><rect x="734.5" y="908.25" width="140.3" height="207.2" fill="none" stroke="#000" stroke-width="2.3"/><path d="M145.7,1115.5H159.5 M153.0,1105.1H159.5 M153.0,1094.7H159.5 M153.0,1084.4H159.5 M153.0,1074.0H159.5 M145.7,1063.7H159.5 M153.0,1053.3H159.5 M153.0,1042.9H159.5 M153.0,1032.6H159.5 M153.0,1022.2H159.5 M145.7,1011.9H159.5 M153.0,1001.5H159.5 M153.0,991.1H159.5 M153.0,980.8H159.5 M153.0,970.4H159.5 M145.7,960.1H159.5 M153.0,949.7H159.5 M153.0,939.3H159.5 M153.0,929.0H159.5 M153.0,918.6H159.5 M145.7,908.2H159.5 M159.5,1115.5V1129.7 M178.1,1115.5V1122.0 M196.8,1115.5V1122.0 M215.4,1115.5V1122.0 M234.0,1115.5V1122.0 M252.7,1115.5V1129.7 M271.3,1115.5V1122.0 M289.9,1115.5V1122.0 M308.6,1115.5V1122.0 M327.2,1115.5V1122.0 M345.8,1115.5V1129.7 M364.5,1115.5V1122.0 M383.1,1115.5V1122.0 M401.7,1115.5V1122.0 M420.4,1115.5V1122.0 M439.0,1115.5V1129.7 M457.6,1115.5V1122.0 M476.3,1115.5V1122.0 M494.9,1115.5V1122.0 M513.5,1115.5V1122.0 M532.2,1115.5V1129.7 M550.8,1115.5V1122.0 M569.4,1115.5V1122.0 M588.1,1115.5V1122.0 M606.7,1115.5V1122.0 M625.3,1115.5V1129.7 M644.0,1115.5V1122.0 M662.6,1115.5V1122.0 M681.2,1115.5V1122.0 M699.9,1115.5V1122.0 M718.5,1115.5V1129.7 M734.5,1115.5V1129.7 M743.9,1115.5V1122.0 M753.2,1115.5V1122.0 M762.6,1115.5V1122.0 M771.9,1115.5V1122.0 M781.3,1115.5V1129.7 M790.6,1115.5V1122.0 M800.0,1115.5V1122.0 M809.3,1115.5V1122.0 M818.7,1115.5V1122.0 M828.0,1115.5V1129.7 M837.4,1115.5V1122.0 M846.7,1115.5V1122.0 M856.1,1115.5V1122.0 M865.4,1115.5V1122.0 M874.8,1115.5V1129.7" stroke="#000" stroke-width="1.6" fill="none"/><text x="128.2" y="917.8" text-anchor="end" font-family='"Liberation Sans", sans-serif' font-size="29">40</text><text x="128.2" y="969.6" text-anchor="end" font-family='"Liberation Sans", sans-serif' font-size="29">20</text><text x="128.2" y="1021.4" text-anchor="end" font-family='"Liberation Sans", sans-serif' font-size="29">0</text><text x="128.2" y="1073.2" text-anchor="end" font-family='"Liberation Sans", sans-serif' font-size="29"><tspan dy="3.5">−</tspan><tspan dy="-3.5">20</tspan></text><text x="128.2" y="1125.0" text-anchor="end" font-family='"Liberation Sans", sans-serif' font-size="29"><tspan dy="3.5">−</tspan><tspan dy="-3.5">40</tspan></text><text x="159.5" y="1164.0" text-anchor="middle" font-family='"Liberation Sans", sans-serif' font-size="29">0</text><text x="252.7" y="1164.0" text-anchor="middle" font-family='"Liberation Sans", sans-serif' font-size="29">50</text><text x="345.8" y="1164.0" text-anchor="middle" font-family='"Liberation Sans", sans-serif' font-size="29">100</text><text x="439.0" y="1164.0" text-anchor="middle" font-family='"Liberation Sans", sans-serif' font-size="29">150</text><text x="532.2" y="1164.0" text-anchor="middle" font-family='"Liberation Sans", sans-serif' font-size="29">200</text><text x="625.3" y="1164.0" text-anchor="middle" font-family='"Liberation Sans", sans-serif' font-size="29">250</text><text x="718.5" y="1164.0" text-anchor="middle" font-family='"Liberation Sans", sans-serif' font-size="29">300</text><text x="781.3" y="1164.0" text-anchor="middle" font-family='"Liberation Sans", sans-serif' font-size="29">10</text><text x="828.0" y="1164.0" text-anchor="middle" font-family='"Liberation Sans", sans-serif' font-size="29">20</text><text x="874.8" y="1164.0" text-anchor="middle" font-family='"Liberation Sans", sans-serif' font-size="29">30</text><text transform="translate(54.2,1011.9) rotate(-90)" text-anchor="middle" font-family='"Liberation Sans", sans-serif' font-size="31">[Z] (Å)</text><text x="8.6" y="919.1" font-family='"Liberation Sans", sans-serif' font-weight="bold" font-size="48">D</text><text x="696.5" y="1101.2" text-anchor="end" font-family='"Liberation Sans", sans-serif' font-size="27.5"><tspan font-weight="bold">Ro 41-0960</tspan> (neutral)</text><rect x="159.5" y="1248.7" width="559.0" height="110.9" fill="#dfdfdf"/><rect x="734.5" y="1248.7" width="140.3" height="110.9" fill="#dfdfdf"/><path d="M159.8,1259.8 L162.0,1259.8 L162.0,1262.3 L164.5,1262.3 L164.5,1262.3 L166.0,1262.3 L166.0,1263.5 L167.5,1263.5 L167.5,1258.6 L168.5,1258.6 L168.5,1264.3 L169.5,1264.3 L169.5,1262.1 L171.5,1262.1 L171.5,1259.7 L173.5,1259.7 L173.5,1258.1 L175.0,1258.1 L175.0,1257.3 L176.0,1257.3 L176.0,1260.3 L177.0,1260.3 L177.0,1257.9 L179.5,1257.9 L179.5,1260.2 L182.0,1260.2 L182.0,1265.3 L183.0,1265.3 L183.0,1263.1 L184.5,1263.1 L184.5,1259.5 L186.0,1259.5 L186.0,1255.8 L188.5,1255.8 L188.5,1258.4 L190.5,1258.4 L190.5,1263.8 L191.5,1263.8 L191.5,1255.6 L193.5,1255.6 L193.5,1258.1 L196.0,1258.1 L196.0,1258.5 L198.5,1258.5 L198.5,1256.0 L201.0,1256.0 L201.0,1256.0 L203.0,1256.0 L203.0,1255.6 L204.0,1255.6 L204.0,1254.5 L205.5,1254.5 L205.5,1256.7 L206.5,1256.7 L206.5,1254.9 L207.5,1254.9 L207.5,1256.2 L209.0,1256.2 L209.0,1254.1 L211.5,1254.1 L211.5,1255.8 L214.0,1255.8 L214.0,1260.1 L215.0,1260.1 L215.0,1256.6 L216.0,1256.6 L216.0,1253.5 L218.5,1253.5 L218.5,1255.2 L221.0,1255.2 L221.0,1257.5 L223.5,1257.5 L223.5,1254.7 L225.0,1254.7 L225.0,1259.1 L226.0,1259.1 L226.0,1259.9 L227.0,1259.9 L227.0,1259.9 L228.5,1259.9 L228.5,1259.8 L230.5,1259.8 L230.5,1258.8 L232.5,1258.8 L232.5,1256.6 L234.0,1256.6 L234.0,1259.6 L235.5,1259.6 L235.5,1257.6 L237.5,1257.6 L237.5,1258.7 L239.5,1258.7 L239.5,1261.2 L242.0,1261.2 L242.0,1263.0 L243.0,1263.0 L243.0,1259.9 L244.0,1259.9 L244.0,1257.5 L246.5,1257.5 L246.5,1260.8 L248.5,1260.8 L248.5,1255.8 L250.0,1255.8 L250.0,1258.3 L251.0,1258.3 L251.0,1257.9 L252.5,1257.9 L252.5,1262.5 L254.0,1262.5 L254.0,1257.9 L256.5,1257.9 L256.5,1261.9 L259.0,1261.9 L259.0,1263.5 L260.5,1263.5 L260.5,1262.2 L261.5,1262.2 L261.5,1258.1 L264.0,1258.1 L264.0,1255.5 L266.5,1255.5 L266.5,1260.3 L268.5,1260.3 L268.5,1259.9 L270.0,1259.9 L270.0,1255.7 L271.0,1255.7 L271.0,1255.1 L273.0,1255.1 L273.0,1260.3 L274.0,1260.3 L274.0,1263.4 L276.5,1263.4 L276.5,1264.5 L278.0,1264.5 L278.0,1264.3 L280.5,1264.3 L280.5,1266.6 L281.5,1266.6 L281.5,1259.0 L284.0,1259.0 L284.0,1257.3 L286.5,1257.3 L286.5,1261.2 L288.5,1261.2 L288.5,1263.1 L291.0,1263.1 L291.0,1263.2 L292.0,1263.2 L292.0,1258.7 L293.5,1258.7 L293.5,1259.3 L295.5,1259.3 L295.5,1265.4 L297.0,1265.4 L297.0,1261.6 L298.5,1261.6 L298.5,1260.3 L299.5,1260.3 L299.5,1259.0 L300.5,1259.0 L300.5,1260.6 L301.5,1260.6 L301.5,1258.9 L303.5,1258.9 L303.5,1260.3 L306.0,1260.3 L306.0,1260.6 L307.0,1260.6 L307.0,1259.4 L308.0,1259.4 L308.0,1261.5 L310.5,1261.5 L310.5,1263.7 L311.5,1263.7 L311.5,1258.1 L314.0,1258.1 L314.0,1256.3 L315.0,1256.3 L315.0,1258.5 L316.0,1258.5 L316.0,1264.0 L318.0,1264.0 L318.0,1259.2 L320.5,1259.2 L320.5,1258.7 L323.0,1258.7 L323.0,1258.7 L324.5,1258.7 L324.5,1258.8 L326.5,1258.8 L326.5,1261.0 L327.5,1261.0 L327.5,1260.6 L329.0,1260.6 L329.0,1258.7 L330.0,1258.7 L330.0,1259.1 L332.5,1259.1 L332.5,1263.3 L334.5,1263.3 L334.5,1262.4 L337.0,1262.4 L337.0,1265.3 L338.5,1265.3 L338.5,1268.9 L340.5,1268.9 L340.5,1268.3 L341.5,1268.3 L341.5,1266.5 L342.5,1266.5 L342.5,1269.2 L344.0,1269.2 L344.0,1269.7 L345.5,1269.7 L345.5,1271.1 L347.5,1271.1 L347.5,1271.7 L349.0,1271.7 L349.0,1266.1 L351.0,1266.1 L351.0,1267.7 L353.0,1267.7 L353.0,1271.5 L355.5,1271.5 L355.5,1271.4 L358.0,1271.4 L358.0,1269.1 L359.5,1269.1 L359.5,1261.6 L361.5,1261.6 L361.5,1262.7 L363.0,1262.7 L363.0,1268.2 L364.5,1268.2 L364.5,1266.1 L367.0,1266.1 L367.0,1266.8 L369.0,1266.8 L369.0,1262.7 L371.0,1262.7 L371.0,1267.6 L373.0,1267.6 L373.0,1263.4 L375.0,1263.4 L375.0,1264.2 L377.0,1264.2 L377.0,1262.5 L379.0,1262.5 L379.0,1261.4 L380.5,1261.4 L380.5,1263.7 L382.5,1263.7 L382.5,1269.0 L385.0,1269.0 L385.0,1265.2 L387.0,1265.2 L387.0,1263.0 L388.5,1263.0 L388.5,1262.5 L391.0,1262.5 L391.0,1266.9 L393.0,1266.9 L393.0,1270.0 L395.0,1270.0 L395.0,1266.8 L396.0,1266.8 L396.0,1262.5 L398.0,1262.5 L398.0,1266.0 L400.5,1266.0 L400.5,1266.8 L402.5,1266.8 L402.5,1266.1 L404.5,1266.1 L404.5,1264.8 L406.0,1264.8 L406.0,1262.7 L408.0,1262.7 L408.0,1261.3 L410.5,1261.3 L410.5,1266.4 L412.0,1266.4 L412.0,1263.0 L414.5,1263.0 L414.5,1261.9 L416.5,1261.9 L416.5,1263.3 L419.0,1263.3 L419.0,1265.6 L420.0,1265.6 L420.0,1264.0 L422.5,1264.0 L422.5,1257.2 L424.0,1257.2 L424.0,1258.6 L426.5,1258.6 L426.5,1262.3 L429.0,1262.3 L429.0,1259.6 L430.5,1259.6 L430.5,1259.2 L431.5,1259.2 L431.5,1257.0 L434.0,1257.0 L434.0,1262.1 L435.5,1262.1 L435.5,1260.7 L437.0,1260.7 L437.0,1259.8 L438.5,1259.8 L438.5,1264.7 L440.0,1264.7 L440.0,1264.3 L441.5,1264.3 L441.5,1263.0 L443.5,1263.0 L443.5,1264.8 L445.5,1264.8 L445.5,1261.0 L447.0,1261.0 L447.0,1261.7 L449.5,1261.7 L449.5,1263.3 L451.0,1263.3 L451.0,1264.8 L453.0,1264.8 L453.0,1262.4 L455.0,1262.4 L455.0,1263.4 L457.5,1263.4 L457.5,1258.6 L459.0,1258.6 L459.0,1260.1 L460.5,1260.1 L460.5,1262.3 L463.0,1262.3 L463.0,1263.3 L464.5,1263.3 L464.5,1261.8 L466.5,1261.8 L466.5,1262.3 L468.0,1262.3 L468.0,1265.9 L470.5,1265.9 L470.5,1262.5 L472.5,1262.5 L472.5,1263.9 L473.5,1263.9 L473.5,1265.4 L474.5,1265.4 L474.5,1263.2 L477.0,1263.2 L477.0,1262.6 L479.5,1262.6 L479.5,1262.3 L481.5,1262.3 L481.5,1259.6 L484.0,1259.6 L484.0,1260.1 L486.0,1260.1 L486.0,1262.4 L488.0,1262.4 L488.0,1260.7 L489.5,1260.7 L489.5,1262.2 L490.5,1262.2 L490.5,1260.3 L491.5,1260.3 L491.5,1259.0 L494.0,1259.0 L494.0,1261.7 L495.5,1261.7 L495.5,1258.2 L497.0,1258.2 L497.0,1260.0 L498.5,1260.0 L498.5,1259.6 L501.0,1259.6 L501.0,1261.1 L502.0,1261.1 L502.0,1262.5 L504.5,1262.5 L504.5,1261.5 L506.5,1261.5 L506.5,1262.7 L507.5,1262.7 L507.5,1262.9 L508.5,1262.9 L508.5,1257.8 L510.0,1257.8 L510.0,1260.8 L512.5,1260.8 L512.5,1262.0 L515.0,1262.0 L515.0,1265.0 L517.0,1265.0 L517.0,1265.9 L519.5,1265.9 L519.5,1266.9 L521.0,1266.9 L521.0,1269.1 L523.5,1269.1 L523.5,1267.7 L525.5,1267.7 L525.5,1265.2 L527.0,1265.2 L527.0,1264.4 L528.0,1264.4 L528.0,1262.1 L529.5,1262.1 L529.5,1264.1 L531.5,1264.1 L531.5,1263.7 L533.0,1263.7 L533.0,1262.2 L534.5,1262.2 L534.5,1268.1 L535.5,1268.1 L535.5,1265.2 L537.5,1265.2 L537.5,1268.3 L538.5,1268.3 L538.5,1263.1 L540.5,1263.1 L540.5,1262.8 L543.0,1262.8 L543.0,1265.7 L545.5,1265.7 L545.5,1265.4 L546.5,1265.4 L546.5,1269.3 L548.0,1269.3 L548.0,1265.6 L549.5,1265.6 L549.5,1261.4 L552.0,1261.4 L552.0,1262.3 L553.5,1262.3 L553.5,1261.3 L556.0,1261.3 L556.0,1256.7 L558.5,1256.7 L558.5,1258.2 L560.5,1258.2 L560.5,1261.6 L561.5,1261.6 L561.5,1258.6 L562.5,1258.6 L562.5,1264.1 L563.5,1264.1 L563.5,1262.0 L564.5,1262.0 L564.5,1258.6 L566.5,1258.6 L566.5,1258.4 L568.5,1258.4 L568.5,1256.1 L569.5,1256.1 L569.5,1255.9 L571.5,1255.9 L571.5,1261.9 L572.5,1261.9 L572.5,1259.8 L575.0,1259.8 L575.0,1263.1 L576.0,1263.1 L576.0,1260.3 L578.5,1260.3 L578.5,1261.2 L580.0,1261.2 L580.0,1260.6 L582.5,1260.6 L582.5,1259.0 L584.0,1259.0 L584.0,1260.8 L586.0,1260.8 L586.0,1260.3 L588.5,1260.3 L588.5,1261.3 L589.5,1261.3 L589.5,1258.0 L590.5,1258.0 L590.5,1255.9 L593.0,1255.9 L593.0,1261.2 L595.0,1261.2 L595.0,1257.1 L597.0,1257.1 L597.0,1257.7 L599.0,1257.7 L599.0,1257.1 L600.0,1257.1 L600.0,1259.9 L601.0,1259.9 L601.0,1257.8 L602.5,1257.8 L602.5,1257.2 L604.0,1257.2 L604.0,1259.4 L606.0,1259.4 L606.0,1257.6 L608.5,1257.6 L608.5,1259.2 L611.0,1259.2 L611.0,1260.8 L613.5,1260.8 L613.5,1266.7 L614.5,1266.7 L614.5,1262.7 L616.5,1262.7 L616.5,1262.9 L617.5,1262.9 L617.5,1263.2 L619.0,1263.2 L619.0,1262.2 L621.0,1262.2 L621.0,1266.2 L622.0,1266.2 L622.0,1261.0 L624.0,1261.0 L624.0,1261.7 L626.0,1261.7 L626.0,1264.3 L627.0,1264.3 L627.0,1261.3 L629.5,1261.3 L629.5,1265.3 L631.5,1265.3 L631.5,1259.4 L634.0,1259.4 L634.0,1261.9 L636.0,1261.9 L636.0,1263.4 L637.0,1263.4 L637.0,1261.6 L639.5,1261.6 L639.5,1263.8 L641.0,1263.8 L641.0,1264.5 L642.0,1264.5 L642.0,1267.7 L643.5,1267.7 L643.5,1260.7 L646.0,1260.7 L646.0,1262.3 L647.5,1262.3 L647.5,1258.1 L649.5,1258.1 L649.5,1263.5 L651.5,1263.5 L651.5,1258.1 L653.5,1258.1 L653.5,1259.8 L656.0,1259.8 L656.0,1261.5 L658.5,1261.5 L658.5,1261.7 L661.0,1261.7 L661.0,1262.4 L663.5,1262.4 L663.5,1264.5 L664.5,1264.5 L664.5,1264.1 L667.0,1264.1 L667.0,1267.5 L668.5,1267.5 L668.5,1267.4 L669.5,1267.4 L669.5,1262.1 L671.0,1262.1 L671.0,1262.6 L673.0,1262.6 L673.0,1262.7 L674.5,1262.7 L674.5,1261.7 L676.5,1261.7 L676.5,1259.9 L678.0,1259.9 L678.0,1262.1 L679.0,1262.1 L679.0,1265.2 L681.5,1265.2 L681.5,1265.3 L684.0,1265.3 L684.0,1263.2 L685.5,1263.2 L685.5,1264.3 L687.5,1264.3 L687.5,1261.0 L688.5,1261.0 L688.5,1256.9 L691.0,1256.9 L691.0,1262.4 L692.0,1262.4 L692.0,1262.6 L693.0,1262.6 L693.0,1259.9 L694.5,1259.9 L694.5,1257.4 L695.5,1257.4 L695.5,1258.8 L696.5,1258.8 L696.5,1260.3 L698.5,1260.3 L698.5,1260.8 L699.5,1260.8 L699.5,1259.4 L701.5,1259.4 L701.5,1258.7 L703.0,1258.7 L703.0,1259.7 L704.5,1259.7 L704.5,1264.1 L706.0,1264.1 L706.0,1264.4 L708.5,1264.4 L708.5,1259.4 L710.0,1259.4 L710.0,1261.3 L712.0,1261.3 L712.0,1265.3 L713.0,1265.3 L713.0,1265.4 L714.0,1265.4 L714.0,1266.8 L715.0,1266.8 L715.0,1271.1 L716.5,1271.1 L716.5,1268.4 L718.2,1268.4 L718.2,1279.2 L716.5,1279.2 L716.5,1279.3 L715.0,1279.3 L715.0,1277.8 L714.0,1277.8 L714.0,1273.4 L713.0,1273.4 L713.0,1272.4 L712.0,1272.4 L712.0,1269.4 L710.0,1269.4 L710.0,1271.0 L708.5,1271.0 L708.5,1274.5 L706.0,1274.5 L706.0,1273.3 L704.5,1273.3 L704.5,1269.7 L703.0,1269.7 L703.0,1268.1 L701.5,1268.1 L701.5,1268.1 L699.5,1268.1 L699.5,1268.6 L698.5,1268.6 L698.5,1269.6 L696.5,1269.6 L696.5,1267.4 L695.5,1267.4 L695.5,1266.7 L694.5,1266.7 L694.5,1268.7 L693.0,1268.7 L693.0,1270.1 L692.0,1270.1 L692.0,1272.4 L691.0,1272.4 L691.0,1270.4 L688.5,1270.4 L688.5,1270.3 L687.5,1270.3 L687.5,1273.9 L685.5,1273.9 L685.5,1277.8 L684.0,1277.8 L684.0,1275.4 L681.5,1275.4 L681.5,1278.0 L679.0,1278.0 L679.0,1274.0 L678.0,1274.0 L678.0,1269.9 L676.5,1269.9 L676.5,1271.8 L674.5,1271.8 L674.5,1274.1 L673.0,1274.1 L673.0,1273.2 L671.0,1273.2 L671.0,1277.2 L669.5,1277.2 L669.5,1277.3 L668.5,1277.3 L668.5,1279.7 L667.0,1279.7 L667.0,1274.6 L664.5,1274.6 L664.5,1269.6 L663.5,1269.6 L663.5,1271.8 L661.0,1271.8 L661.0,1270.1 L658.5,1270.1 L658.5,1270.6 L656.0,1270.6 L656.0,1269.2 L653.5,1269.2 L653.5,1270.4 L651.5,1270.4 L651.5,1274.8 L649.5,1274.8 L649.5,1272.4 L647.5,1272.4 L647.5,1275.2 L646.0,1275.2 L646.0,1275.7 L643.5,1275.7 L643.5,1277.6 L642.0,1277.6 L642.0,1274.8 L641.0,1274.8 L641.0,1272.5 L639.5,1272.5 L639.5,1274.0 L637.0,1274.0 L637.0,1270.3 L636.0,1270.3 L636.0,1278.1 L634.0,1278.1 L634.0,1272.2 L631.5,1272.2 L631.5,1275.1 L629.5,1275.1 L629.5,1271.7 L627.0,1271.7 L627.0,1271.5 L626.0,1271.5 L626.0,1270.9 L624.0,1270.9 L624.0,1273.4 L622.0,1273.4 L622.0,1274.0 L621.0,1274.0 L621.0,1276.7 L619.0,1276.7 L619.0,1272.9 L617.5,1272.9 L617.5,1271.2 L616.5,1271.2 L616.5,1272.7 L614.5,1272.7 L614.5,1276.2 L613.5,1276.2 L613.5,1277.3 L611.0,1277.3 L611.0,1269.2 L608.5,1269.2 L608.5,1270.4 L606.0,1270.4 L606.0,1269.4 L604.0,1269.4 L604.0,1269.5 L602.5,1269.5 L602.5,1268.0 L601.0,1268.0 L601.0,1269.5 L600.0,1269.5 L600.0,1266.3 L599.0,1266.3 L599.0,1269.2 L597.0,1269.2 L597.0,1269.4 L595.0,1269.4 L595.0,1270.0 L593.0,1270.0 L593.0,1272.3 L590.5,1272.3 L590.5,1268.6 L589.5,1268.6 L589.5,1269.0 L588.5,1269.0 L588.5,1273.5 L586.0,1273.5 L586.0,1274.7 L584.0,1274.7 L584.0,1270.0 L582.5,1270.0 L582.5,1271.2 L580.0,1271.2 L580.0,1272.3 L578.5,1272.3 L578.5,1275.7 L576.0,1275.7 L576.0,1272.8 L575.0,1272.8 L575.0,1271.9 L572.5,1271.9 L572.5,1271.5 L571.5,1271.5 L571.5,1271.5 L569.5,1271.5 L569.5,1263.7 L568.5,1263.7 L568.5,1271.0 L566.5,1271.0 L566.5,1269.6 L564.5,1269.6 L564.5,1269.2 L563.5,1269.2 L563.5,1271.4 L562.5,1271.4 L562.5,1269.7 L561.5,1269.7 L561.5,1268.4 L560.5,1268.4 L560.5,1268.8 L558.5,1268.8 L558.5,1268.2 L556.0,1268.2 L556.0,1271.5 L553.5,1271.5 L553.5,1272.7 L552.0,1272.7 L552.0,1277.2 L549.5,1277.2 L549.5,1279.1 L548.0,1279.1 L548.0,1278.1 L546.5,1278.1 L546.5,1275.6 L545.5,1275.6 L545.5,1276.3 L543.0,1276.3 L543.0,1276.0 L540.5,1276.0 L540.5,1276.9 L538.5,1276.9 L538.5,1278.1 L537.5,1278.1 L537.5,1276.3 L535.5,1276.3 L535.5,1276.1 L534.5,1276.1 L534.5,1272.7 L533.0,1272.7 L533.0,1275.8 L531.5,1275.8 L531.5,1277.0 L529.5,1277.0 L529.5,1273.0 L528.0,1273.0 L528.0,1273.5 L527.0,1273.5 L527.0,1274.8 L525.5,1274.8 L525.5,1278.1 L523.5,1278.1 L523.5,1282.9 L521.0,1282.9 L521.0,1276.1 L519.5,1276.1 L519.5,1277.9 L517.0,1277.9 L517.0,1274.2 L515.0,1274.2 L515.0,1274.5 L512.5,1274.5 L512.5,1274.2 L510.0,1274.2 L510.0,1272.4 L508.5,1272.4 L508.5,1270.0 L507.5,1270.0 L507.5,1274.5 L506.5,1274.5 L506.5,1274.0 L504.5,1274.0 L504.5,1274.6 L502.0,1274.6 L502.0,1270.8 L501.0,1270.8 L501.0,1268.1 L498.5,1268.1 L498.5,1268.9 L497.0,1268.9 L497.0,1269.4 L495.5,1269.4 L495.5,1271.8 L494.0,1271.8 L494.0,1268.9 L491.5,1268.9 L491.5,1269.8 L490.5,1269.8 L490.5,1273.6 L489.5,1273.6 L489.5,1273.8 L488.0,1273.8 L488.0,1273.7 L486.0,1273.7 L486.0,1275.3 L484.0,1275.3 L484.0,1271.6 L481.5,1271.6 L481.5,1274.5 L479.5,1274.5 L479.5,1271.9 L477.0,1271.9 L477.0,1272.1 L474.5,1272.1 L474.5,1272.7 L473.5,1272.7 L473.5,1273.5 L472.5,1273.5 L472.5,1276.6 L470.5,1276.6 L470.5,1276.7 L468.0,1276.7 L468.0,1275.7 L466.5,1275.7 L466.5,1271.4 L464.5,1271.4 L464.5,1273.4 L463.0,1273.4 L463.0,1276.7 L460.5,1276.7 L460.5,1270.7 L459.0,1270.7 L459.0,1267.3 L457.5,1267.3 L457.5,1274.0 L455.0,1274.0 L455.0,1274.8 L453.0,1274.8 L453.0,1273.6 L451.0,1273.6 L451.0,1275.1 L449.5,1275.1 L449.5,1274.5 L447.0,1274.5 L447.0,1271.7 L445.5,1271.7 L445.5,1274.5 L443.5,1274.5 L443.5,1277.8 L441.5,1277.8 L441.5,1272.9 L440.0,1272.9 L440.0,1275.2 L438.5,1275.2 L438.5,1270.4 L437.0,1270.4 L437.0,1269.8 L435.5,1269.8 L435.5,1273.0 L434.0,1273.0 L434.0,1269.8 L431.5,1269.8 L431.5,1270.4 L430.5,1270.4 L430.5,1270.9 L429.0,1270.9 L429.0,1272.8 L426.5,1272.8 L426.5,1269.1 L424.0,1269.1 L424.0,1270.5 L422.5,1270.5 L422.5,1274.8 L420.0,1274.8 L420.0,1272.4 L419.0,1272.4 L419.0,1276.5 L416.5,1276.5 L416.5,1274.7 L414.5,1274.7 L414.5,1273.5 L412.0,1273.5 L412.0,1276.3 L410.5,1276.3 L410.5,1273.7 L408.0,1273.7 L408.0,1274.4 L406.0,1274.4 L406.0,1276.0 L404.5,1276.0 L404.5,1277.9 L402.5,1277.9 L402.5,1276.6 L400.5,1276.6 L400.5,1276.5 L398.0,1276.5 L398.0,1276.4 L396.0,1276.4 L396.0,1277.6 L395.0,1277.6 L395.0,1280.2 L393.0,1280.2 L393.0,1279.1 L391.0,1279.1 L391.0,1272.9 L388.5,1272.9 L388.5,1275.4 L387.0,1275.4 L387.0,1278.1 L385.0,1278.1 L385.0,1279.1 L382.5,1279.1 L382.5,1278.5 L380.5,1278.5 L380.5,1271.1 L379.0,1271.1 L379.0,1271.0 L377.0,1271.0 L377.0,1274.6 L375.0,1274.6 L375.0,1275.1 L373.0,1275.1 L373.0,1277.3 L371.0,1277.3 L371.0,1273.4 L369.0,1273.4 L369.0,1277.6 L367.0,1277.6 L367.0,1278.3 L364.5,1278.3 L364.5,1277.8 L363.0,1277.8 L363.0,1275.8 L361.5,1275.8 L361.5,1277.0 L359.5,1277.0 L359.5,1278.6 L358.0,1278.6 L358.0,1284.2 L355.5,1284.2 L355.5,1283.0 L353.0,1283.0 L353.0,1280.4 L351.0,1280.4 L351.0,1278.8 L349.0,1278.8 L349.0,1281.1 L347.5,1281.1 L347.5,1283.5 L345.5,1283.5 L345.5,1278.6 L344.0,1278.6 L344.0,1276.9 L342.5,1276.9 L342.5,1279.3 L341.5,1279.3 L341.5,1279.1 L340.5,1279.1 L340.5,1279.4 L338.5,1279.4 L338.5,1278.4 L337.0,1278.4 L337.0,1276.3 L334.5,1276.3 L334.5,1281.5 L332.5,1281.5 L332.5,1272.1 L330.0,1272.1 L330.0,1267.8 L329.0,1267.8 L329.0,1270.7 L327.5,1270.7 L327.5,1268.9 L326.5,1268.9 L326.5,1267.3 L324.5,1267.3 L324.5,1267.3 L323.0,1267.3 L323.0,1270.3 L320.5,1270.3 L320.5,1273.1 L318.0,1273.1 L318.0,1275.9 L316.0,1275.9 L316.0,1267.9 L315.0,1267.9 L315.0,1265.2 L314.0,1265.2 L314.0,1270.8 L311.5,1270.8 L311.5,1272.5 L310.5,1272.5 L310.5,1271.2 L308.0,1271.2 L308.0,1266.3 L307.0,1266.3 L307.0,1269.1 L306.0,1269.1 L306.0,1269.6 L303.5,1269.6 L303.5,1271.0 L301.5,1271.0 L301.5,1270.2 L300.5,1270.2 L300.5,1270.5 L299.5,1270.5 L299.5,1273.1 L298.5,1273.1 L298.5,1270.8 L297.0,1270.8 L297.0,1272.7 L295.5,1272.7 L295.5,1271.0 L293.5,1271.0 L293.5,1267.9 L292.0,1267.9 L292.0,1272.8 L291.0,1272.8 L291.0,1275.3 L288.5,1275.3 L288.5,1277.0 L286.5,1277.0 L286.5,1273.0 L284.0,1273.0 L284.0,1271.7 L281.5,1271.7 L281.5,1276.2 L280.5,1276.2 L280.5,1275.1 L278.0,1275.1 L278.0,1273.4 L276.5,1273.4 L276.5,1272.8 L274.0,1272.8 L274.0,1269.9 L273.0,1269.9 L273.0,1265.5 L271.0,1265.5 L271.0,1267.0 L270.0,1267.0 L270.0,1270.9 L268.5,1270.9 L268.5,1271.3 L266.5,1271.3 L266.5,1268.2 L264.0,1268.2 L264.0,1268.2 L261.5,1268.2 L261.5,1271.8 L260.5,1271.8 L260.5,1271.7 L259.0,1271.7 L259.0,1271.2 L256.5,1271.2 L256.5,1269.5 L254.0,1269.5 L254.0,1272.1 L252.5,1272.1 L252.5,1269.6 L251.0,1269.6 L251.0,1266.8 L250.0,1266.8 L250.0,1264.8 L248.5,1264.8 L248.5,1270.8 L246.5,1270.8 L246.5,1272.6 L244.0,1272.6 L244.0,1266.5 L243.0,1266.5 L243.0,1270.0 L242.0,1270.0 L242.0,1270.2 L239.5,1270.2 L239.5,1271.5 L237.5,1271.5 L237.5,1268.9 L235.5,1268.9 L235.5,1268.0 L234.0,1268.0 L234.0,1265.7 L232.5,1265.7 L232.5,1267.4 L230.5,1267.4 L230.5,1273.1 L228.5,1273.1 L228.5,1273.9 L227.0,1273.9 L227.0,1270.6 L226.0,1270.6 L226.0,1270.8 L225.0,1270.8 L225.0,1263.2 L223.5,1263.2 L223.5,1267.1 L221.0,1267.1 L221.0,1267.6 L218.5,1267.6 L218.5,1263.6 L216.0,1263.6 L216.0,1266.7 L215.0,1266.7 L215.0,1267.4 L214.0,1267.4 L214.0,1267.3 L211.5,1267.3 L211.5,1266.1 L209.0,1266.1 L209.0,1264.7 L207.5,1264.7 L207.5,1265.4 L206.5,1265.4 L206.5,1266.0 L205.5,1266.0 L205.5,1263.4 L204.0,1263.4 L204.0,1266.5 L203.0,1266.5 L203.0,1269.5 L201.0,1269.5 L201.0,1265.3 L198.5,1265.3 L198.5,1269.9 L196.0,1269.9 L196.0,1267.2 L193.5,1267.2 L193.5,1270.3 L191.5,1270.3 L191.5,1270.4 L190.5,1270.4 L190.5,1270.0 L188.5,1270.0 L188.5,1270.9 L186.0,1270.9 L186.0,1270.4 L184.5,1270.4 L184.5,1272.8 L183.0,1272.8 L183.0,1271.9 L182.0,1271.9 L182.0,1270.0 L179.5,1270.0 L179.5,1270.4 L177.0,1270.4 L177.0,1267.8 L176.0,1267.8 L176.0,1267.1 L175.0,1267.1 L175.0,1270.6 L173.5,1270.6 L173.5,1271.5 L171.5,1271.5 L171.5,1273.1 L169.5,1273.1 L169.5,1271.5 L168.5,1271.5 L168.5,1270.5 L167.5,1270.5 L167.5,1274.7 L166.0,1274.7 L166.0,1275.0 L164.5,1275.0 L164.5,1273.6 L162.0,1273.6 L162.0,1274.2 L159.8,1274.2Z" fill="#000" stroke="#000" stroke-width="2.0" stroke-linejoin="round"/><path d="M734.5,1200.5 C734.5,1206.2 734.6,1227.9 734.8,1235.0 C735.0,1242.1 735.1,1240.6 735.9,1243.2 C736.7,1245.8 737.0,1248.5 739.5,1250.4 C742.0,1252.3 745.1,1253.2 751.1,1254.8 C757.1,1256.4 766.8,1258.3 775.7,1259.8 C784.6,1261.2 797.0,1262.3 804.7,1263.5 C812.4,1264.7 822.1,1265.6 822.1,1267.1 C822.1,1268.5 812.4,1270.3 804.7,1272.2 C797.0,1274.1 785.4,1276.7 775.7,1278.7 C766.0,1280.8 753.0,1282.9 746.7,1284.5 C740.4,1286.1 739.8,1286.3 738.0,1288.1 C736.2,1289.9 736.5,1291.6 735.9,1295.3 C735.3,1299.0 734.8,1291.3 734.6,1310.0 C734.4,1328.7 734.5,1391.4 734.5,1407.7" fill="none" stroke="#000" stroke-width="2.8" stroke-linejoin="round"/><rect x="159.5" y="1200.5" width="559.0" height="207.2" fill="none" stroke="#000" stroke-width="2.3"/><rect x="734.5" y="1200.5" width="140.3" height="207.2" fill="none" stroke="#000" stroke-width="2.3"/><path d="M145.7,1407.7H159.5 M153.0,1397.3H159.5 M153.0,1387.0H159.5 M153.0,1376.6H159.5 M153.0,1366.3H159.5 M145.7,1355.9H159.5 M153.0,1345.5H159.5 M153.0,1335.2H159.5 M153.0,1324.8H159.5 M153.0,1314.5H159.5 M145.7,1304.1H159.5 M153.0,1293.7H159.5 M153.0,1283.4H159.5 M153.0,1273.0H159.5 M153.0,1262.7H159.5 M145.7,1252.3H159.5 M153.0,1241.9H159.5 M153.0,1231.6H159.5 M153.0,1221.2H159.5 M153.0,1210.9H159.5 M145.7,1200.5H159.5 M159.5,1407.7V1421.9 M178.1,1407.7V1414.2 M196.8,1407.7V1414.2 M215.4,1407.7V1414.2 M234.0,1407.7V1414.2 M252.7,1407.7V1421.9 M271.3,1407.7V1414.2 M289.9,1407.7V1414.2 M308.6,1407.7V1414.2 M327.2,1407.7V1414.2 M345.8,1407.7V1421.9 M364.5,1407.7V1414.2 M383.1,1407.7V1414.2 M401.7,1407.7V1414.2 M420.4,1407.7V1414.2 M439.0,1407.7V1421.9 M457.6,1407.7V1414.2 M476.3,1407.7V1414.2 M494.9,1407.7V1414.2 M513.5,1407.7V1414.2 M532.2,1407.7V1421.9 M550.8,1407.7V1414.2 M569.4,1407.7V1414.2 M588.1,1407.7V1414.2 M606.7,1407.7V1414.2 M625.3,1407.7V1421.9 M644.0,1407.7V1414.2 M662.6,1407.7V1414.2 M681.2,1407.7V1414.2 M699.9,1407.7V1414.2 M718.5,1407.7V1421.9 M734.5,1407.7V1421.9 M743.9,1407.7V1414.2 M753.2,1407.7V1414.2 M762.6,1407.7V1414.2 M771.9,1407.7V1414.2 M781.3,1407.7V1421.9 M790.6,1407.7V1414.2 M800.0,1407.7V1414.2 M809.3,1407.7V1414.2 M818.7,1407.7V1414.2 M828.0,1407.7V1421.9 M837.4,1407.7V1414.2 M846.7,1407.7V1414.2 M856.1,1407.7V1414.2 M865.4,1407.7V1414.2 M874.8,1407.7V1421.9" stroke="#000" stroke-width="1.6" fill="none"/><text x="128.2" y="1210.0" text-anchor="end" font-family='"Liberation Sans", sans-serif' font-size="29">40</text><text x="128.2" y="1261.8" text-anchor="end" font-family='"Liberation Sans", sans-serif' font-size="29">20</text><text x="128.2" y="1313.6" text-anchor="end" font-family='"Liberation Sans", sans-serif' font-size="29">0</text><text x="128.2" y="1365.4" text-anchor="end" font-family='"Liberation Sans", sans-serif' font-size="29"><tspan dy="3.5">−</tspan><tspan dy="-3.5">20</tspan></text><text x="128.2" y="1417.2" text-anchor="end" font-family='"Liberation Sans", sans-serif' font-size="29"><tspan dy="3.5">−</tspan><tspan dy="-3.5">40</tspan></text><text x="159.5" y="1456.3" text-anchor="middle" font-family='"Liberation Sans", sans-serif' font-size="29">0</text><text x="252.7" y="1456.3" text-anchor="middle" font-family='"Liberation Sans", sans-serif' font-size="29">50</text><text x="345.8" y="1456.3" text-anchor="middle" font-family='"Liberation Sans", sans-serif' font-size="29">100</text><text x="439.0" y="1456.3" text-anchor="middle" font-family='"Liberation Sans", sans-serif' font-size="29">150</text><text x="532.2" y="1456.3" text-anchor="middle" font-family='"Liberation Sans", sans-serif' font-size="29">200</text><text x="625.3" y="1456.3" text-anchor="middle" font-family='"Liberation Sans", sans-serif' font-size="29">250</text><text x="718.5" y="1456.3" text-anchor="middle" font-family='"Liberation Sans", sans-serif' font-size="29">300</text><text x="781.3" y="1456.3" text-anchor="middle" font-family='"Liberation Sans", sans-serif' font-size="29">10</text><text x="828.0" y="1456.3" text-anchor="middle" font-family='"Liberation Sans", sans-serif' font-size="29">20</text><text x="874.8" y="1456.3" text-anchor="middle" font-family='"Liberation Sans", sans-serif' font-size="29">30</text><text transform="translate(54.2,1304.1) rotate(-90)" text-anchor="middle" font-family='"Liberation Sans", sans-serif' font-size="31">[Z] (Å)</text><text x="8.6" y="1211.4" font-family='"Liberation Sans", sans-serif' font-weight="bold" font-size="48">E</text><text x="696.5" y="1393.5" text-anchor="end" font-family='"Liberation Sans", sans-serif' font-size="27.5"><tspan font-weight="bold">Ro 41-0960</tspan> (ionized)</text><text x="365" y="1504.3" font-family='"Liberation Sans", sans-serif' font-size="31">Time (ns)</text><text x="733" y="1506.7" font-family='"Liberation Sans", sans-serif' font-size="31">δ (g cm</text><text x="835.3" y="1494.5" font-family='"Liberation Sans", sans-serif' font-size="23">−3</text><text x="865.6" y="1506.7" font-family='"Liberation Sans", sans-serif' font-size="31">)</text><defs><radialGradient id="gC" cx="0.38" cy="0.35" r="0.7"><stop offset="0" stop-color="#555555"/><stop offset="1" stop-color="#404040"/></radialGradient><radialGradient id="gc" cx="0.38" cy="0.35" r="0.7"><stop offset="0" stop-color="#6e6e6e"/><stop offset="1" stop-color="#5a5a5a"/></radialGradient><radialGradient id="gO" cx="0.38" cy="0.35" r="0.7"><stop offset="0" stop-color="#ff6a6a"/><stop offset="1" stop-color="#ee3a3a"/></radialGradient><radialGradient id="gN" cx="0.38" cy="0.35" r="0.7"><stop offset="0" stop-color="#5a5aff"/><stop offset="1" stop-color="#2626ee"/></radialGradient><radialGradient id="gH" cx="0.38" cy="0.35" r="0.7"><stop offset="0" stop-color="#ffffff"/><stop offset="1" stop-color="#e4e4e4"/></radialGradient><radialGradient id="gF" cx="0.38" cy="0.35" r="0.7"><stop offset="0" stop-color="#d8ffff"/><stop offset="1" stop-color="#a8f0f0"/></radialGradient><clipPath id="clip0"><rect x="906" y="29.7" width="259" height="260.6"/></clipPath><clipPath id="clip1"><rect x="906" y="324" width="259" height="261"/></clipPath><clipPath id="clip2"><rect x="906" y="611.8" width="259" height="263.2"/></clipPath><clipPath id="clip3"><rect x="906" y="906" width="261" height="262.8"/></clipPath><clipPath id="clip4"><rect x="906" y="1199" width="261" height="261"/></clipPath></defs><g clip-path="url(#clip0)"><rect x="906" y="29.7" width="259" height="260.6" fill="#fbfbfb"/><path d="M1023,135L1034,147L1025,158L1034,167L1027,180L1035,192L1025,201L1033,211L1039,222L1046,233L1035,243L1028,255L1022,263L1028,278L1020,289L1013,299L1005,314L1012,325M1038,178L1043,190L1031,200L1039,215L1032,227L1041,237L1035,246L1044,258L1034,270L1044,279L1033,289L1044,303L1037,312L1045,325L1037,335L1046,345M976,171L967,180L975,190L967,199L979,211L971,222L964,235L958,244L968,252L975,267L984,276L979,287M904,87L893,102L903,115L913,124L920,136L908,148L916,158L908,173L917,183L906,197M1058,111L1046,122L1056,137L1066,151L1057,164L1068,175L1061,187L1069,199L1063,213L1058,228M1073,117L1064,126L1072,138L1063,148L1072,162L1060,170L1069,182L1060,194L1069,205L1060,219M1143,177L1134,187L1126,196L1132,210L1125,219L1136,230L1128,243L1138,256L1130,270L1138,284L1128,298L1135,310L1129,319L1142,328L1137,337L1148,348L1141,358L1150,373M1014,83L1019,91L1026,105L1016,117L1006,130L998,144L1005,155L999,168L1007,178L996,188L989,202M1018,173L1008,183L1015,195L1007,208L1016,222L1007,235L1012,245L1001,255L995,268L988,279L993,291L986,302L994,311L985,325M1054,99L1062,113L1053,126L1063,140L1072,151L1078,163L1072,175L1081,186L1070,197L1060,210L1051,223L1043,233L1036,247L1048,259M921,139L912,150L920,164L913,176L922,188L933,200L942,212L935,221L942,234L934,247L943,256L935,271L940,282L947,291L956,304L966,317" fill="none" stroke="#f3f3f3" stroke-width="12" stroke-linecap="round" stroke-linejoin="round"/><path d="M936,128L944,141L936,154L944,167L953,182L959,192L966,204L975,216L968,226L975,234L967,248L976,261L969,272M1016,117L1022,125L1013,138L1004,148L993,161L1002,172L994,185L1002,199L995,210L1002,220M1007,118L1016,132L1006,141L1014,150L1004,165L992,177L1004,190L1012,199L1003,209L1011,220L1003,231M1147,121L1158,135L1150,149L1157,163L1144,176L1154,186L1161,195L1155,208L1164,220L1171,230L1164,242L1174,251L1167,265L1176,280L1184,291L1191,305M975,178L964,192L972,202L967,216L976,225L967,234L960,248L952,260L962,269L956,278L948,291L937,303L946,314L952,322L960,335M1021,166L1028,175L1018,190L1025,201L1017,211L1028,221L1019,233L1014,242L1008,255L1013,267L1022,276L1031,287L1023,301L1032,309L1022,323L1028,333M1003,130L998,143L1004,155L993,168L1000,182L995,191L1001,204L994,216L1003,230L993,240L999,252L993,267L983,276L972,286L981,296L990,308M1027,94L1035,104L1045,114L1056,123L1048,134L1057,148L1049,162L1058,176L1066,190L1076,205L1084,215L1091,226M1088,132L1100,145L1090,158L1096,170L1089,179L1097,193L1092,207L1084,218L1076,228L1083,238L1077,252M917,111L926,120L921,132L929,144L921,154L930,169L923,183L931,196L939,210L949,225L939,234L943,248L935,260L945,270L938,283L948,297" fill="none" stroke="#eeeeee" stroke-width="12" stroke-linecap="round" stroke-linejoin="round"/><path d="M902,168L893,180L902,194L893,207L899,220L890,232L898,241L893,253L903,265M906,129L894,142L886,152L892,164L883,178L892,190L884,200L892,211L903,224L910,236L904,251L914,260L906,275M1066,109L1059,120L1069,135L1058,147L1068,162L1057,176L1065,184L1057,198L1066,211M950,128L959,137L952,145L961,160L951,169L940,182L933,193L925,207L920,216L927,225L918,234L923,247L917,260L923,270L918,278M1119,177L1113,191L1123,206L1114,215L1121,226L1112,235L1105,248L1099,259L1090,271L1083,281L1091,293L1087,303M1053,106L1047,119L1055,127L1045,136L1055,144L1044,155L1036,167L1029,177L1018,191L1029,205L1038,220L1032,228L1037,239L1027,250L1034,261L1028,274" fill="none" stroke="#e9e9e9" stroke-width="11" stroke-linecap="round" stroke-linejoin="round"/><path d="M1099,167L1092,181L1098,194L1091,206L1097,218L1090,231L1097,243L1086,253L1095,262L1088,277L1094,291L1086,304L1096,313L1087,324L1096,339L1089,347L1097,357M1056,147L1061,161L1053,175L1057,186L1050,198L1042,209L1048,223L1061,235L1053,246L1062,255L1052,265M1020,163L1010,177L1014,187L1024,198L1032,212L1026,223L1035,237L1028,251L1035,259L1028,271L1022,282L1014,294L1019,303L1012,313L1003,322L991,337" fill="none" stroke="#e4e4e4" stroke-width="11" stroke-linecap="round" stroke-linejoin="round"/><path d="M922,37l-6,3M1152,34l4,0M1046,49l-4,3M1158,49l-2,3M1059,58l-1,-4M953,40l2,4M1001,42l-2,-3M1165,30l-4,3M1149,53l4,1M1117,63l1,4" fill="none" stroke="#72dcdc" stroke-width="8" stroke-linecap="round"/><path d="M1112,71l-3,2M1163,66l-2,-6M1161,93l3,4M1004,94l-4,-2M993,89l4,2M1020,76l-3,4M962,68l-2,-3M1055,83l0,4M1034,98l5,-0" fill="none" stroke="#a2e8e8" stroke-width="9" stroke-linecap="round"/><path d="M1112,131l-3,-3M1107,122l3,5M1148,149l0,-5M1159,124l-2,-5M1135,136l4,2" fill="none" stroke="#bdeeee" stroke-width="9" stroke-linecap="round"/><path d="M914,137l4,-5M1157,125l-3,2M959,133l-6,-3M909,140l-6,-3" fill="none" stroke="#d6f4f4" stroke-width="10" stroke-linecap="round"/><path d="M1028,66l-3,-2M950,37l2,-6M1017,47l5,0M944,93l-2,4M1093,94l1,5M1095,76l6,0M968,53l-1,4M1058,106l-3,4M1055,74l-4,-1M981,51l2,-3M923,94l-6,3" fill="none" stroke="#88e2e2" stroke-width="10" stroke-linecap="round"/><path d="M1150,32l-4,-3M1128,68l4,-1M921,59l5,1M979,46l-3,3M934,60l-1,-6" fill="none" stroke="#72dcdc" stroke-width="10" stroke-linecap="round"/><path d="M989,34l-0,-6M1025,37l4,4M1048,31l6,3M980,60l3,-2M1092,39l-4,4M1093,56l2,3M1154,28l-1,4M1145,60l-5,-1M941,64l6,-2M1085,38l-3,-5" fill="none" stroke="#72dcdc" stroke-width="9" stroke-linecap="round"/><path d="M971,42l-0,6M1114,36l1,-5M1085,45l-3,5M1128,48l2,4M971,43l6,-3" fill="none" stroke="#5fd6d6" stroke-width="9" stroke-linecap="round"/><path d="M1043,67l5,-1M1098,96l2,6M1014,88l3,3M934,78l-6,-3M1008,90l3,-4M916,112l0,-5M1126,86l6,0" fill="none" stroke="#a2e8e8" stroke-width="8" stroke-linecap="round"/><path d="M989,37l4,4M1122,60l-3,-5M920,91l-5,4M937,79l-3,4M1070,37l-5,3M939,51l5,3M969,74l-0,5M943,50l6,1M1103,74l-6,-1" fill="none" stroke="#88e2e2" stroke-width="8" stroke-linecap="round"/><path d="M907,86l6,3M1141,82l3,3" fill="none" stroke="#a2e8e8" stroke-width="10" stroke-linecap="round"/><path d="M1073,42l-6,-2M947,99l5,1M1103,57l-4,4M994,73l2,3" fill="none" stroke="#88e2e2" stroke-width="9" stroke-linecap="round"/><path d="M992,138l4,3" fill="none" stroke="#d6f4f4" stroke-width="8" stroke-linecap="round"/><path d="M978,125l1,5M1039,136l3,4M927,134l-0,6M932,124l4,-3M960,141l-2,4" fill="none" stroke="#d6f4f4" stroke-width="9" stroke-linecap="round"/><path d="M1012,42l-1,5M1000,35l-2,-5M1011,42l3,5M1116,32l-5,1M943,38l0,-4M1098,34l4,0" fill="none" stroke="#5fd6d6" stroke-width="8" stroke-linecap="round"/><path d="M1132,118l-5,2M960,123l-4,4M1083,111l-0,-4M1066,115l-2,3M1080,140l-3,-2" fill="none" stroke="#bdeeee" stroke-width="8" stroke-linecap="round"/><path d="M1091,95l-4,-5M1025,135l-3,-3M1065,127l0,-4M1109,138l1,-5M963,112l1,4M995,114l-6,-2" fill="none" stroke="#bdeeee" stroke-width="10" stroke-linecap="round"/><path d="M1114,41l3,5M1009,37l6,-1M986,31l-4,-1" fill="none" stroke="#5fd6d6" stroke-width="10" stroke-linecap="round"/><path d="M914,41l-5,2M1118,53l-3,-4M1125,121l-4,1M997,28l-1,-4M933,84l-2,3M1062,41l-4,3M1013,84l3,-4M1110,34l-4,1M1105,34l4,0M957,45l2,3M1134,86l5,0M1155,55l3,1" fill="none" stroke="#f2f2f2" stroke-width="7" stroke-linecap="round"/><path d="M1108,74l-2,2M988,25l-0,-5M1055,35l4,2M1098,62l-3,3M1043,141l2,3M927,142l-0,5M938,120l3,-2M1086,44l-3,3M998,78l2,3" fill="none" stroke="#efefef" stroke-width="8" stroke-linecap="round"/><path d="M1108,127l-2,-2M1160,58l-2,-4M1031,43l3,3M971,50l-0,5M1111,129l3,4M1164,98l2,3M1081,53l-2,4M1148,143l0,-4M999,92l3,1M1016,81l-2,3M1142,139l3,2M1153,34l-1,3M957,146l-2,3M1138,58l-4,-1M958,63l-2,-3M1056,89l0,3M1041,98l4,-0M949,62l5,-1" fill="none" stroke="#ececec" stroke-width="8" stroke-linecap="round"/><path d="M919,130l3,-4M1145,28l-3,-2M914,90l4,2M1025,48l4,0M1093,101l0,4M928,60l4,1M965,118l1,4M983,46l1,-3M915,98l-5,3M987,111l-5,-2" fill="none" stroke="#efefef" stroke-width="9" stroke-linecap="round"/><path d="M1024,62l-3,-2M1133,66l3,-1M1118,47l2,4M951,129l-5,-2M1104,76l5,0M966,59l-1,3M1055,112l-2,3M1146,86l3,2M975,49l-2,2M1065,121l0,-3M1018,35l5,-1M901,136l-5,-2" fill="none" stroke="#f2f2f2" stroke-width="9" stroke-linecap="round"/><path d="M953,29l1,-5M941,99l-2,4M1086,88l-3,-4M1152,127l-3,2M1021,132l-2,-2M1110,132l1,-4M1050,72l-3,-1M932,51l-1,-5M980,30l-3,-0" fill="none" stroke="#ececec" stroke-width="9" stroke-linecap="round"/><path d="M1050,65l4,-1M995,42l4,3M997,143l3,3M913,97l-4,3M1015,49l2,4M916,105l0,-4M1156,54l-1,3M1075,138l-3,-1M998,37l-1,-3M952,52l5,1M1095,72l-5,-1M1160,35l-3,3M1118,68l1,3" fill="none" stroke="#ececec" stroke-width="7" stroke-linecap="round"/><path d="M1065,39l-5,-2M954,101l4,1M979,133l1,4M1116,28l1,-4M985,57l3,-1M1157,117l-1,-4M999,91l-3,-2M1095,61l1,3M1131,54l2,3M979,39l5,-2M1081,31l-2,-4" fill="none" stroke="#f2f2f2" stroke-width="8" stroke-linecap="round"/><path d="M1158,35l4,0M1101,104l1,4M1018,93l2,3M1011,48l-1,4M926,74l-5,-2M1040,53l-3,2M955,128l-3,3M943,33l0,-3M1083,105l-0,-4M1057,52l-1,-3M946,56l4,3M1062,120l-2,2M969,82l-0,4" fill="none" stroke="#efefef" stroke-width="7" stroke-linecap="round"/><circle cx="913" cy="67" r="23.5" fill="#d4d4d4"/><circle cx="1016" cy="110.5" r="24.7" fill="#c8c8c8"/><circle cx="1126.5" cy="72.9" r="22.3" fill="#d0d0d0"/><circle cx="955" cy="114" r="21" fill="#dedede"/><circle cx="1080.7" cy="121" r="21" fill="#e0e0e0"/><path d="M945.3,193.2L952.1,211.2M952.1,211.2L938.5,229.1M952.1,211.2L970.9,218.9M970.9,218.9L988.9,208.6M988.9,208.6L992.3,192.4M988.9,208.6L1001.7,213.8M992.3,192.4L1009.4,181.3M1009.4,181.3L1022.2,186.4M1022.2,186.4L1019.7,203.5M1022.2,186.4L1036.8,171.9M1019.7,203.5L1001.7,213.8M1036.8,171.9L1036.8,154.8M1036.8,171.9L1049.6,177.0M1049.6,177.0L1068.4,169.3M1068.4,169.3L1070.1,150.5M1068.4,169.3L1082.9,182.1M1070.1,150.5L1088.9,143.6M1088.9,143.6L1104.2,155.1M1104.2,155.1L1101.8,175.1M1101.8,175.1L1082.9,182.1M1101.8,175.1L1117.1,186.9M1082.9,182.1L1080.3,200.1M1080.3,200.1L1094.9,212.2M1094.9,212.2L1091.3,231.6M1094.9,212.2L1114.8,205.7M1117.1,186.9L1114.8,205.7M1047.0,190.7L1049.6,177.0" stroke="#777" stroke-width="6.4" fill="none"/><path d="M945.3,193.2L952.1,211.2M952.1,211.2L938.5,229.1M952.1,211.2L970.9,218.9M970.9,218.9L988.9,208.6M988.9,208.6L992.3,192.4M988.9,208.6L1001.7,213.8M992.3,192.4L1009.4,181.3M1009.4,181.3L1022.2,186.4M1022.2,186.4L1019.7,203.5M1022.2,186.4L1036.8,171.9M1019.7,203.5L1001.7,213.8M1036.8,171.9L1036.8,154.8M1036.8,171.9L1049.6,177.0M1049.6,177.0L1068.4,169.3M1068.4,169.3L1070.1,150.5M1068.4,169.3L1082.9,182.1M1070.1,150.5L1088.9,143.6M1088.9,143.6L1104.2,155.1M1104.2,155.1L1101.8,175.1M1101.8,175.1L1082.9,182.1M1101.8,175.1L1117.1,186.9M1082.9,182.1L1080.3,200.1M1080.3,200.1L1094.9,212.2M1094.9,212.2L1091.3,231.6M1094.9,212.2L1114.8,205.7M1117.1,186.9L1114.8,205.7M1047.0,190.7L1049.6,177.0" stroke="#e6e6e6" stroke-width="4.6" fill="none"/><circle cx="945.3" cy="193.2" r="7.2" fill="url(#gC)" stroke="#2a2a2a" stroke-width="0.6" stroke-opacity="0.5"/><circle cx="952.1" cy="211.2" r="7.2" fill="url(#gC)" stroke="#2a2a2a" stroke-width="0.6" stroke-opacity="0.5"/><circle cx="938.5" cy="229.1" r="7.2" fill="url(#gC)" stroke="#2a2a2a" stroke-width="0.6" stroke-opacity="0.5"/><circle cx="970.9" cy="218.9" r="6.6" fill="url(#gO)" stroke="#2a2a2a" stroke-width="0.6" stroke-opacity="0.5"/><circle cx="988.9" cy="208.6" r="7.2" fill="url(#gC)" stroke="#2a2a2a" stroke-width="0.6" stroke-opacity="0.5"/><circle cx="992.3" cy="192.4" r="7.2" fill="url(#gC)" stroke="#2a2a2a" stroke-width="0.6" stroke-opacity="0.5"/><circle cx="1009.4" cy="181.3" r="7.2" fill="url(#gC)" stroke="#2a2a2a" stroke-width="0.6" stroke-opacity="0.5"/><circle cx="1022.2" cy="186.4" r="7.2" fill="url(#gC)" stroke="#2a2a2a" stroke-width="0.6" stroke-opacity="0.5"/><circle cx="1019.7" cy="203.5" r="7.2" fill="url(#gC)" stroke="#2a2a2a" stroke-width="0.6" stroke-opacity="0.5"/><circle cx="1001.7" cy="213.8" r="7.2" fill="url(#gC)" stroke="#2a2a2a" stroke-width="0.6" stroke-opacity="0.5"/><circle cx="1036.8" cy="171.9" r="7.2" fill="url(#gC)" stroke="#2a2a2a" stroke-width="0.6" stroke-opacity="0.5"/><circle cx="1036.8" cy="154.8" r="6.6" fill="url(#gO)" stroke="#2a2a2a" stroke-width="0.6" stroke-opacity="0.5"/><circle cx="1049.6" cy="177.0" r="6.6" fill="url(#gN)" stroke="#2a2a2a" stroke-width="0.6" stroke-opacity="0.5"/><circle cx="1047.0" cy="190.7" r="5.2" fill="url(#gH)" stroke="#2a2a2a" stroke-width="0.6" stroke-opacity="0.5"/><circle cx="1068.4" cy="169.3" r="7.2" fill="url(#gC)" stroke="#2a2a2a" stroke-width="0.6" stroke-opacity="0.5"/><circle cx="1070.1" cy="150.5" r="7.2" fill="url(#gC)" stroke="#2a2a2a" stroke-width="0.6" stroke-opacity="0.5"/><circle cx="1088.9" cy="143.6" r="7.2" fill="url(#gC)" stroke="#2a2a2a" stroke-width="0.6" stroke-opacity="0.5"/><circle cx="1104.2" cy="155.1" r="7.2" fill="url(#gC)" stroke="#2a2a2a" stroke-width="0.6" stroke-opacity="0.5"/><circle cx="1101.8" cy="175.1" r="7.2" fill="url(#gC)" stroke="#2a2a2a" stroke-width="0.6" stroke-opacity="0.5"/><circle cx="1082.9" cy="182.1" r="7.2" fill="url(#gC)" stroke="#2a2a2a" stroke-width="0.6" stroke-opacity="0.5"/><circle cx="1080.3" cy="200.1" r="6.6" fill="url(#gN)" stroke="#2a2a2a" stroke-width="0.6" stroke-opacity="0.5"/><circle cx="1094.9" cy="212.2" r="7.2" fill="url(#gC)" stroke="#2a2a2a" stroke-width="0.6" stroke-opacity="0.5"/><circle cx="1091.3" cy="231.6" r="7.2" fill="url(#gC)" stroke="#2a2a2a" stroke-width="0.6" stroke-opacity="0.5"/><circle cx="1117.1" cy="186.9" r="7.2" fill="url(#gC)" stroke="#2a2a2a" stroke-width="0.6" stroke-opacity="0.5"/><circle cx="1114.8" cy="205.7" r="7.2" fill="url(#gC)" stroke="#2a2a2a" stroke-width="0.6" stroke-opacity="0.5"/></g><g clip-path="url(#clip1)"><rect x="906" y="324" width="259" height="261" fill="#fbfbfb"/><path d="M1149,400L1141,410L1152,423L1146,437L1151,452L1145,461L1152,470L1141,482L1134,490L1127,503L1134,513L1125,524L1133,539L1128,553L1134,563L1127,575L1136,584M1035,394L1044,406L1052,420L1045,433L1038,445L1030,457L1022,470L1032,478L1024,491L1033,504L1025,513L1015,523L1011,536M1078,335L1069,350L1058,359L1069,368L1061,381L1072,395L1061,407L1053,418L1047,431L1055,444L1047,454L1057,464L1049,479L1056,489L1045,498M1101,306L1093,316L1085,327L1092,338L1087,353L1097,366L1092,380L1097,392L1089,401L1096,415L1087,428M1029,398L1024,410L1036,424L1027,434L1032,445L1025,457L1033,470L1023,483L1017,496L1009,509L1003,518L994,528L1000,538L990,547L1000,559L1010,574L1020,584M1023,302L1013,313L1020,322L1015,334L1004,344L994,358L1004,371L995,381L1001,395L990,409L998,420L990,435M1014,293L1021,304L1028,314L1033,326L1027,339L1035,351L1024,364L1033,372L1039,382L1046,394L1041,405L1032,419L1025,433L1034,445" fill="none" stroke="#f3f3f3" stroke-width="12" stroke-linecap="round" stroke-linejoin="round"/><path d="M1149,376L1137,390L1148,401L1140,415L1145,428L1135,442L1143,450L1147,464L1154,477L1146,490L1152,502L1159,513L1153,525L1146,536L1155,550L1148,561M1027,343L1020,353L1028,361L1019,376L1024,390L1014,403L1022,411L1016,423L1009,438L999,452L1010,467L1020,475L1029,485L1018,499M904,368L898,377L909,389L901,403L911,416L902,429L912,443L908,452L918,462L909,475L915,487L907,497L913,510L901,523L891,534L884,543L895,554M956,275L964,287L969,301L961,313L953,327L943,339L933,348L922,363L929,373L924,385L931,396L922,404L934,418L927,432M944,378L938,392L949,405L942,415L955,424L947,435L959,447L969,459L974,471L967,484L977,494L968,504L974,518L979,526L989,536L983,549L993,563M1008,315L1017,326L1012,341L1021,352L1014,365L1019,380L1012,390L1020,398L1009,410L1020,419L1011,430L1004,443L996,453L1004,463L998,477L992,488" fill="none" stroke="#eeeeee" stroke-width="12" stroke-linecap="round" stroke-linejoin="round"/><path d="M1097,284L1105,297L1098,308L1091,317L1085,326L1093,339L1100,354L1095,365L1089,378L1081,390L1074,400L1084,409L1091,422L1097,434L1093,446M1067,316L1061,329L1068,341L1058,355L1068,368L1059,377L1068,388L1061,397L1070,406L1060,419L1072,429L1066,438L1074,448L1069,461L1076,476L1066,489M1070,343L1081,353L1073,363L1079,376L1085,386L1076,400L1083,412L1095,423L1105,437L1095,446L1089,457L1100,471L1089,482L1098,494L1090,507L1083,516M1159,314L1168,324L1161,332L1171,343L1161,356L1169,366L1161,375L1171,387L1161,397L1170,409L1161,421L1149,432L1159,446L1169,460" fill="none" stroke="#e9e9e9" stroke-width="11" stroke-linecap="round" stroke-linejoin="round"/><path d="M908,375L918,390L908,402L914,414L906,424L914,437L905,448L916,461L909,473L904,484L898,499L904,511L898,525L906,534L915,545M1146,379L1156,391L1162,404L1154,413L1147,425L1138,435L1144,444L1154,452L1160,463L1150,472L1161,482L1151,496L1159,508L1170,521" fill="none" stroke="#e4e4e4" stroke-width="11" stroke-linecap="round" stroke-linejoin="round"/><path d="M1060,542l4,4M986,540l4,-1M918,548l6,2M1061,525l-1,-5M1068,530l-3,4M989,533l4,2M1133,518l3,-3M1117,540l3,-5M999,549l1,5" fill="none" stroke="#a2e8e8" stroke-width="8" stroke-linecap="round"/><path d="M945,510l0,-6M1032,508l-2,6M934,509l2,-5M964,517l-5,3" fill="none" stroke="#d6f4f4" stroke-width="8" stroke-linecap="round"/><path d="M982,533l4,-3M941,531l4,5" fill="none" stroke="#bdeeee" stroke-width="9" stroke-linecap="round"/><path d="M1112,514l-5,1M1088,515l-4,4M930,510l-5,1M1058,508l-0,-4" fill="none" stroke="#bdeeee" stroke-width="8" stroke-linecap="round"/><path d="M1091,545l-3,4M1150,579l4,3M905,566l-5,0M915,567l-4,-1M946,576l-6,-2M917,550l-5,4" fill="none" stroke="#88e2e2" stroke-width="8" stroke-linecap="round"/><path d="M1005,548l-4,-1M933,548l6,-2M1089,542l-1,4M1048,569l3,4M942,563l-4,-0M940,561l-4,1M924,562l4,0M996,573l6,-1" fill="none" stroke="#88e2e2" stroke-width="10" stroke-linecap="round"/><path d="M989,580l3,4M1045,584l-0,-4M1021,573l1,4M957,586l-5,-3" fill="none" stroke="#5fd6d6" stroke-width="9" stroke-linecap="round"/><path d="M1151,505l0,4M1057,516l-3,-2" fill="none" stroke="#d6f4f4" stroke-width="9" stroke-linecap="round"/><path d="M1143,523l-1,5M1119,532l-4,1M985,547l5,-4M909,533l4,4" fill="none" stroke="#a2e8e8" stroke-width="10" stroke-linecap="round"/><path d="M1158,578l3,-5M904,560l2,-3M1026,558l-1,5M919,563l2,3M1096,576l0,6M1106,575l4,-4M966,545l4,5" fill="none" stroke="#88e2e2" stroke-width="9" stroke-linecap="round"/><path d="M1106,553l-6,2M1044,569l-4,0M1126,583l-4,-2M953,572l-3,-2M934,581l6,-0M978,581l-6,-3M951,570l-1,-5" fill="none" stroke="#72dcdc" stroke-width="10" stroke-linecap="round"/><path d="M984,576l5,2M1143,584l-6,0M1014,579l-4,-0M911,581l-5,-1M953,570l5,-0" fill="none" stroke="#72dcdc" stroke-width="9" stroke-linecap="round"/><path d="M1048,521l2,-5M1128,521l4,1" fill="none" stroke="#a2e8e8" stroke-width="9" stroke-linecap="round"/><path d="M1111,520l-4,-5M936,499l3,3" fill="none" stroke="#d6f4f4" stroke-width="10" stroke-linecap="round"/><path d="M989,583l-1,5M1126,574l-6,1" fill="none" stroke="#5fd6d6" stroke-width="10" stroke-linecap="round"/><path d="M1089,587l2,-6M984,583l-3,-4M959,578l1,4" fill="none" stroke="#5fd6d6" stroke-width="8" stroke-linecap="round"/><path d="M968,522l-3,-1M1022,516l5,4" fill="none" stroke="#bdeeee" stroke-width="10" stroke-linecap="round"/><path d="M1115,584l5,-1M1107,572l-4,-1" fill="none" stroke="#72dcdc" stroke-width="8" stroke-linecap="round"/><path d="M1065,547l3,3M946,501l0,-5M1106,516l-4,1M1156,584l4,3M992,538l3,-1M1059,517l-1,-4M1083,521l-3,3M938,573l-5,-1M1121,532l2,-4" fill="none" stroke="#ececec" stroke-width="7" stroke-linecap="round"/><path d="M987,529l3,-2M991,579l4,2M947,538l3,4M1134,523l3,1M1097,585l0,5M971,551l3,4" fill="none" stroke="#ececec" stroke-width="8" stroke-linecap="round"/><path d="M1087,550l-2,3M1063,536l-3,4M994,537l3,2M1136,513l2,-3M911,556l-4,3M1121,582l4,-1M980,577l-3,-3M1001,556l1,4" fill="none" stroke="#efefef" stroke-width="7" stroke-linecap="round"/><path d="M1000,546l-3,-1M1105,514l-3,-4M1088,548l-1,4M939,503l2,2M915,539l3,3M949,569l-2,-2M964,521l-3,-1M930,563l3,0" fill="none" stroke="#efefef" stroke-width="9" stroke-linecap="round"/><path d="M994,585l3,3M1051,514l2,-4M1025,565l-0,4M921,568l1,3M1134,584l-5,0M905,579l-4,-1M1045,579l-0,-3M1023,579l1,3M960,569l4,-0M1112,569l3,-3" fill="none" stroke="#efefef" stroke-width="8" stroke-linecap="round"/><path d="M1152,511l0,3M1162,571l3,-4M907,555l2,-3M1053,513l-3,-2M1009,578l-3,-0M950,581l-4,-3" fill="none" stroke="#f2f2f2" stroke-width="8" stroke-linecap="round"/><path d="M1028,516l-2,5M926,550l5,1M898,567l-4,0M910,566l-3,-1M937,502l2,-4M924,511l-4,1M1092,579l2,-5M957,521l-4,2M961,583l1,3M1102,571l-3,-1M1057,503l-0,-3" fill="none" stroke="#f2f2f2" stroke-width="7" stroke-linecap="round"/><path d="M1142,530l-1,4M1114,534l-3,1M1028,522l4,4M937,563l-3,-0" fill="none" stroke="#ececec" stroke-width="9" stroke-linecap="round"/><path d="M940,546l4,-1M1098,556l-5,2M988,589l-1,4M1038,570l-3,0M1121,581l-3,-1M991,541l4,-3M1117,575l-5,1M943,581l5,-0M1052,574l2,3M935,563l-3,1M970,577l-5,-2M950,563l-1,-4M1004,572l5,-1" fill="none" stroke="#f2f2f2" stroke-width="9" stroke-linecap="round"/><circle cx="979.6" cy="580" r="22" fill="#cdcdcd"/><circle cx="1052.5" cy="575" r="22.3" fill="#cbcbcb"/><circle cx="1142" cy="580" r="22" fill="#e2e2e2"/><path d="M991.4,360.5L998.4,377.0M998.4,377.0L1010.2,379.3M998.4,377.0L996.1,389.9M1010.2,379.3L996.1,389.9M1010.2,379.3L1020.7,393.4M996.1,389.9L1005.5,404.0M1020.7,393.4L1034.9,395.8M1020.7,393.4L1005.5,404.0M1020.7,393.4L1017.2,406.4M1034.9,395.8L1017.2,406.4M1034.9,395.8L1041.9,414.6M1005.5,404.0L1017.2,406.4M1005.5,404.0L1003.1,414.6M1017.2,406.4L1003.1,414.6M1017.2,406.4L1029.0,418.1M1029.0,418.1L1041.9,414.6M1029.0,418.1L1025.5,433.4M1041.9,414.6L1047.8,429.9M1025.5,433.4L1014.9,442.8M1025.5,433.4L1038.4,441.6M1047.8,429.9L1059.5,432.2M1047.8,429.9L1038.4,441.6M1014.9,442.8L1017.2,458.1M1038.4,441.6L1039.6,458.1M1017.2,458.1L1007.8,468.7M1017.2,458.1L1029.0,467.5M1039.6,458.1L1029.0,467.5M1039.6,458.1L1053.7,467.5M1050.1,479.2L1053.7,467.5M1050.1,479.2L1066.6,468.7M1053.7,467.5L1066.6,468.7M1066.6,468.7L1080.7,459.3M1080.7,459.3L1096.0,460.4M1096.0,460.4L1101.8,476.9" stroke="#777" stroke-width="5.6" fill="none"/><path d="M991.4,360.5L998.4,377.0M998.4,377.0L1010.2,379.3M998.4,377.0L996.1,389.9M1010.2,379.3L996.1,389.9M1010.2,379.3L1020.7,393.4M996.1,389.9L1005.5,404.0M1020.7,393.4L1034.9,395.8M1020.7,393.4L1005.5,404.0M1020.7,393.4L1017.2,406.4M1034.9,395.8L1017.2,406.4M1034.9,395.8L1041.9,414.6M1005.5,404.0L1017.2,406.4M1005.5,404.0L1003.1,414.6M1017.2,406.4L1003.1,414.6M1017.2,406.4L1029.0,418.1M1029.0,418.1L1041.9,414.6M1029.0,418.1L1025.5,433.4M1041.9,414.6L1047.8,429.9M1025.5,433.4L1014.9,442.8M1025.5,433.4L1038.4,441.6M1047.8,429.9L1059.5,432.2M1047.8,429.9L1038.4,441.6M1014.9,442.8L1017.2,458.1M1038.4,441.6L1039.6,458.1M1017.2,458.1L1007.8,468.7M1017.2,458.1L1029.0,467.5M1039.6,458.1L1029.0,467.5M1039.6,458.1L1053.7,467.5M1050.1,479.2L1053.7,467.5M1050.1,479.2L1066.6,468.7M1053.7,467.5L1066.6,468.7M1066.6,468.7L1080.7,459.3M1080.7,459.3L1096.0,460.4M1096.0,460.4L1101.8,476.9" stroke="#e6e6e6" stroke-width="4.0" fill="none"/><circle cx="991.4" cy="360.5" r="6.3" fill="url(#gC)" stroke="#2a2a2a" stroke-width="0.6" stroke-opacity="0.5"/><circle cx="998.4" cy="377.0" r="6.3" fill="url(#gC)" stroke="#2a2a2a" stroke-width="0.6" stroke-opacity="0.5"/><circle cx="1010.2" cy="379.3" r="6.3" fill="url(#gC)" stroke="#2a2a2a" stroke-width="0.6" stroke-opacity="0.5"/><circle cx="996.1" cy="389.9" r="6.3" fill="url(#gC)" stroke="#2a2a2a" stroke-width="0.6" stroke-opacity="0.5"/><circle cx="1020.7" cy="393.4" r="6.3" fill="url(#gC)" stroke="#2a2a2a" stroke-width="0.6" stroke-opacity="0.5"/><circle cx="1034.9" cy="395.8" r="6.3" fill="url(#gC)" stroke="#2a2a2a" stroke-width="0.6" stroke-opacity="0.5"/><circle cx="1005.5" cy="404.0" r="6.3" fill="url(#gC)" stroke="#2a2a2a" stroke-width="0.6" stroke-opacity="0.5"/><circle cx="1017.2" cy="406.4" r="6.3" fill="url(#gC)" stroke="#2a2a2a" stroke-width="0.6" stroke-opacity="0.5"/><circle cx="1003.1" cy="414.6" r="5.9" fill="url(#gc)" stroke="#2a2a2a" stroke-width="0.6" stroke-opacity="0.5"/><circle cx="1029.0" cy="418.1" r="5.7" fill="url(#gN)" stroke="#2a2a2a" stroke-width="0.6" stroke-opacity="0.5"/><circle cx="1041.9" cy="414.6" r="6.3" fill="url(#gC)" stroke="#2a2a2a" stroke-width="0.6" stroke-opacity="0.5"/><circle cx="1025.5" cy="433.4" r="6.3" fill="url(#gC)" stroke="#2a2a2a" stroke-width="0.6" stroke-opacity="0.5"/><circle cx="1047.8" cy="429.9" r="6.3" fill="url(#gC)" stroke="#2a2a2a" stroke-width="0.6" stroke-opacity="0.5"/><circle cx="1059.5" cy="432.2" r="6.3" fill="url(#gC)" stroke="#2a2a2a" stroke-width="0.6" stroke-opacity="0.5"/><circle cx="1014.9" cy="442.8" r="5.7" fill="url(#gN)" stroke="#2a2a2a" stroke-width="0.6" stroke-opacity="0.5"/><circle cx="1038.4" cy="441.6" r="6.3" fill="url(#gC)" stroke="#2a2a2a" stroke-width="0.6" stroke-opacity="0.5"/><circle cx="1017.2" cy="458.1" r="6.3" fill="url(#gC)" stroke="#2a2a2a" stroke-width="0.6" stroke-opacity="0.5"/><circle cx="1039.6" cy="458.1" r="6.3" fill="url(#gC)" stroke="#2a2a2a" stroke-width="0.6" stroke-opacity="0.5"/><circle cx="1007.8" cy="468.7" r="6.3" fill="url(#gC)" stroke="#2a2a2a" stroke-width="0.6" stroke-opacity="0.5"/><circle cx="1029.0" cy="467.5" r="5.7" fill="url(#gN)" stroke="#2a2a2a" stroke-width="0.6" stroke-opacity="0.5"/><circle cx="1050.1" cy="479.2" r="5.9" fill="url(#gc)" stroke="#2a2a2a" stroke-width="0.6" stroke-opacity="0.5"/><circle cx="1053.7" cy="467.5" r="5.7" fill="url(#gN)" stroke="#2a2a2a" stroke-width="0.6" stroke-opacity="0.5"/><circle cx="1066.6" cy="468.7" r="6.3" fill="url(#gC)" stroke="#2a2a2a" stroke-width="0.6" stroke-opacity="0.5"/><circle cx="1080.7" cy="459.3" r="6.3" fill="url(#gC)" stroke="#2a2a2a" stroke-width="0.6" stroke-opacity="0.5"/><circle cx="1096.0" cy="460.4" r="6.3" fill="url(#gC)" stroke="#2a2a2a" stroke-width="0.6" stroke-opacity="0.5"/><circle cx="1101.8" cy="476.9" r="6.3" fill="url(#gC)" stroke="#2a2a2a" stroke-width="0.6" stroke-opacity="0.5"/></g><g clip-path="url(#clip2)"><rect x="906" y="611.8" width="259" height="263.2" fill="#fbfbfb"/><path d="M1057,711L1068,720L1062,731L1057,741L1045,751L1054,761L1063,773L1070,781L1062,796L1066,810L1058,823L1050,836M1042,736L1031,748L1038,762L1030,775L1038,790L1044,801L1053,814L1045,827L1036,840L1029,853L1036,862M1140,706L1134,718L1144,729L1135,738L1142,748L1152,763L1159,774L1152,785L1159,795L1154,805L1164,816L1156,825L1164,836L1155,851L1161,866L1152,880M953,721L943,735L951,750L941,760L949,774L944,783L953,794L947,804L951,813L957,824M1152,713L1140,724L1145,733L1138,742L1147,752L1136,764L1146,776L1155,786L1161,798L1154,812L1164,824L1155,833L1163,843L1158,857L1167,866L1159,876L1168,887L1162,899M1030,755L1019,766L1027,778L1020,789L1026,801L1020,812L1026,824L1018,837L1027,850L1035,860L1046,875M920,715L910,727L919,737L911,748L922,761L914,776L925,786L932,798L922,810L910,824L917,839L906,851L912,863L904,877M970,695L963,707L953,721L962,735L955,746L964,755L959,765L966,778L955,790L964,800L954,814L948,825L940,835L950,845M972,705L964,720L970,734L961,745L967,758L977,772L987,782L981,793L989,804L984,819L992,830L985,839L979,849L986,862L991,871L982,885L994,893M929,728L921,741L926,752L916,761L923,773L915,784L922,797L914,810L920,825L909,837L918,852L912,863L922,876M1108,719L1118,730L1107,739L1117,748L1106,757L1118,765L1107,777L1117,788L1111,802L1122,813L1116,822L1110,837L1102,851L1107,861" fill="none" stroke="#f3f3f3" stroke-width="12" stroke-linecap="round" stroke-linejoin="round"/><path d="M950,716L945,729L952,738L960,750L970,764L965,772L972,781L968,791L960,805L949,818M1164,731L1176,743L1183,757L1195,769L1189,783L1196,792L1204,804L1213,818L1206,828L1210,838L1201,846L1209,855L1203,864L1212,877M970,755L980,769L973,783L968,792L957,803L948,813L957,827L968,838L959,847L965,861L960,870M1147,737L1138,748L1131,758L1143,768L1148,777L1139,789L1149,798L1142,812L1151,827L1159,835L1167,847M985,752L991,761L985,773L991,786L984,800L991,809L985,818L995,831L984,842L991,851M940,715L933,726L926,740L915,750L923,765L930,774L936,788L946,799L952,808L943,820L950,831L940,840L949,851M1035,753L1041,768L1034,780L1043,795L1053,808L1062,818L1052,830L1043,844L1033,854L1045,864L1038,873L1030,886M971,740L962,749L966,763L961,776L951,788L944,800L952,814L945,823L953,832L947,841L943,853L932,865M952,756L944,771L950,783L960,791L967,803L976,812L983,821L972,833L980,843L972,853L980,866L989,877L995,887L989,899L1000,909L994,918L1003,932M908,720L917,730L923,741L914,751L920,760L911,775L916,786L923,799L935,807L930,820L937,833L925,842L932,854" fill="none" stroke="#eeeeee" stroke-width="12" stroke-linecap="round" stroke-linejoin="round"/><path d="M1098,759L1089,773L1096,786L1102,798L1093,812L1099,825L1088,834L1100,849L1091,862L1099,876L1088,888L1098,902L1109,913M1091,731L1084,745L1095,756L1085,770L1091,779L1083,794L1090,806L1097,817L1105,829L1100,843L1107,854L1102,867L1112,878L1105,887L1111,898L1104,908L1111,917M1109,742L1115,754L1106,765L1114,773L1123,783L1130,793L1142,806L1148,815L1144,828L1152,840L1146,852L1156,867L1148,881L1154,891L1144,904L1135,913L1130,921M1105,738L1101,747L1112,761L1102,776L1111,789L1120,804L1131,818L1125,831M903,772L895,781L906,793L900,802L911,815L902,829L910,843L901,856L908,869L901,882L891,895L880,907M964,764L959,778L967,787L959,799L952,810L961,821L967,830L958,841L968,853L955,864L946,875L937,889" fill="none" stroke="#e9e9e9" stroke-width="11" stroke-linecap="round" stroke-linejoin="round"/><path d="M1143,704L1136,718L1126,732L1121,747L1127,757L1136,768L1128,779L1120,792L1127,807L1117,816L1126,830L1120,840M1091,726L1081,740L1088,752L1077,764L1087,777L1082,787L1093,801L1087,811L1099,823M1060,727L1050,740L1058,750L1050,761L1041,770L1048,783L1055,797L1049,807L1037,818L1032,831L1042,842L1035,853L1043,867L1034,878L1024,888L1014,897L1022,912" fill="none" stroke="#e4e4e4" stroke-width="11" stroke-linecap="round" stroke-linejoin="round"/><path d="M1048,720l3,-2M1028,679l6,1M1019,670l-3,5M1115,737l0,-6M1028,672l-3,1M930,698l5,-1M951,659l-4,3" fill="none" stroke="#a2e8e8" stroke-width="9" stroke-linecap="round"/><path d="M914,634l-1,-4M999,615l3,-3M1102,624l-3,-5M1087,626l-5,0M947,635l-4,2" fill="none" stroke="#72dcdc" stroke-width="8" stroke-linecap="round"/><path d="M967,616l0,-5M994,624l-0,-4M968,612l4,5" fill="none" stroke="#5fd6d6" stroke-width="8" stroke-linecap="round"/><path d="M1007,661l-3,3M912,624l-5,3M991,629l-4,-1M1134,613l-2,5M1138,614l-2,-4M1110,655l3,-3M944,637l-2,-5M1060,633l4,-1M969,628l-5,-1M1049,611l5,1M1112,664l-0,-5M1037,644l2,6M1041,629l6,-1M1140,654l0,6M991,620l4,2" fill="none" stroke="#72dcdc" stroke-width="10" stroke-linecap="round"/><path d="M957,725l-2,3M1056,678l-2,-3M1094,699l5,-4M1087,684l-1,5M922,687l-3,1M1073,669l4,3M1044,680l0,-5M1091,706l1,-6M1102,685l-3,-1M1136,699l6,3M1014,680l2,4M1126,722l5,4M1125,704l6,2M1059,669l-3,-3" fill="none" stroke="#a2e8e8" stroke-width="8" stroke-linecap="round"/><path d="M1122,648l3,-3M1109,635l1,4M1051,644l1,5M972,691l5,-1" fill="none" stroke="#88e2e2" stroke-width="9" stroke-linecap="round"/><path d="M915,752l3,4M993,725l-1,4M1029,741l3,-3M1032,732l-4,3M1098,757l6,0M1147,743l4,3M948,737l3,-2M1096,746l-4,2M931,753l1,-4" fill="none" stroke="#d6f4f4" stroke-width="10" stroke-linecap="round"/><path d="M1156,645l-3,2M1077,635l-1,-6M913,653l-3,5M959,650l5,4M935,661l-4,1M1133,683l1,-5M1017,643l2,4M1142,634l-1,4M926,642l6,0M1020,672l4,4M1020,694l-4,1M1003,640l-3,-4M1035,660l1,-4M1054,650l-6,-2" fill="none" stroke="#88e2e2" stroke-width="10" stroke-linecap="round"/><path d="M1044,631l5,-3M983,633l-6,-2M1096,637l-0,-5M1060,650l0,-5M1027,661l3,-3M907,628l-2,-3M934,610l4,3M975,626l-6,-1M916,644l-5,3M1071,624l-1,6M964,623l5,-2M1082,611l5,2M1100,662l1,-6M1078,610l-3,3M1011,623l5,-2M1075,628l-1,3" fill="none" stroke="#72dcdc" stroke-width="9" stroke-linecap="round"/><path d="M1057,679l4,0M1036,688l3,-5M970,677l-2,5M951,678l-5,-0M988,635l-0,6M1059,613l4,-0" fill="none" stroke="#88e2e2" stroke-width="8" stroke-linecap="round"/><path d="M973,685l4,4M970,695l4,3M933,702l3,4M1099,710l2,-6M1090,669l-0,-6M1165,679l-1,5M910,691l2,3M961,681l1,6" fill="none" stroke="#a2e8e8" stroke-width="10" stroke-linecap="round"/><path d="M1122,614l4,-4M1001,632l4,-1M1126,615l-3,3M1135,613l-5,-2M1017,620l6,1M1110,627l4,-1" fill="none" stroke="#5fd6d6" stroke-width="10" stroke-linecap="round"/><path d="M1052,639l-3,4M1041,612l5,0M1039,613l4,-0M950,618l-4,1" fill="none" stroke="#5fd6d6" stroke-width="9" stroke-linecap="round"/><path d="M982,705l2,-4M1160,722l3,-5M1133,746l-6,-1M909,714l5,4M982,682l-3,2M1093,759l-3,-4M990,702l-3,-4M1000,743l-2,-3" fill="none" stroke="#bdeeee" stroke-width="8" stroke-linecap="round"/><path d="M1104,756l1,-4M993,715l-1,-6M994,735l-1,5" fill="none" stroke="#bdeeee" stroke-width="9" stroke-linecap="round"/><path d="M1009,731l4,1M904,725l4,4M1089,734l-1,-6M921,756l4,2M1170,759l-6,0" fill="none" stroke="#d6f4f4" stroke-width="9" stroke-linecap="round"/><path d="M952,712l1,-6M919,733l6,-2M1092,722l4,3" fill="none" stroke="#bdeeee" stroke-width="10" stroke-linecap="round"/><path d="M1163,739l2,-5M1106,727l6,-1" fill="none" stroke="#d6f4f4" stroke-width="8" stroke-linecap="round"/><path d="M1053,717l3,-2M1052,626l4,-3M1096,630l-0,-4M1061,642l0,-4M1106,750l1,-3M1048,613l4,0M903,624l-2,-2M993,706l-1,-5M967,624l-5,-1M909,649l-4,3M937,696l4,-1M926,759l3,2M1044,613l3,-0M1101,653l1,-5M993,742l-1,4" fill="none" stroke="#efefef" stroke-width="8" stroke-linecap="round"/><path d="M912,629l-1,-3M968,609l0,-4M954,729l-2,2M1053,674l-2,-2M1100,694l4,-3M917,689l-3,1M1079,673l4,2M1039,680l2,-4M1165,715l3,-4M1125,744l-5,-1M978,685l-3,2M1115,725l5,-1M987,644l-0,5M985,696l-3,-3M1065,613l3,-0M1133,707l4,1M1055,665l-3,-2" fill="none" stroke="#efefef" stroke-width="7" stroke-linecap="round"/><path d="M1003,665l-2,3M1152,648l-2,2M905,628l-4,2M1131,621l-2,4M1034,736l3,-3M975,700l3,3M937,708l2,3M1115,651l3,-2M1129,610l-4,-2M952,734l2,-2M1020,650l2,4M1040,652l2,5M1014,696l-3,1M1050,627l5,-1M1037,655l1,-3M963,689l1,5" fill="none" stroke="#efefef" stroke-width="9" stroke-linecap="round"/><path d="M1126,644l2,-3M1037,680l5,1M975,629l-5,-2M1115,729l0,-5M1031,657l2,-2M1024,674l-3,1M1110,641l1,3M1088,725l-0,-5M945,619l-3,1M1070,632l-1,5M971,620l4,-2M1073,615l-3,2M1017,620l4,-2M1074,633l-1,3M945,664l-3,3" fill="none" stroke="#ececec" stroke-width="8" stroke-linecap="round"/><path d="M920,757l3,3M1135,609l-2,-3M1106,757l5,0M908,661l-3,4M1122,619l-2,2M966,655l4,3M941,630l-2,-4M1026,621l5,1M1152,748l3,3M1134,676l1,-4M953,703l1,-5M1065,631l3,-1M962,627l-4,-1M1057,613l4,1M934,642l5,0M912,695l1,3M927,730l5,-1M1091,749l-3,2M1114,625l3,-1M1097,727l3,2" fill="none" stroke="#ececec" stroke-width="9" stroke-linecap="round"/><path d="M1015,677l-2,4M1048,644l-3,3M940,615l4,3M1014,732l3,1M910,730l3,3M1054,651l1,4M1089,614l4,2M1162,759l-5,0M980,690l4,-1" fill="none" stroke="#f2f2f2" stroke-width="8" stroke-linecap="round"/><path d="M985,628l-3,-1M978,691l3,3M1128,609l3,-3M991,731l-1,3M1027,735l-3,2M1006,630l3,-1M1075,626l-1,-5M1101,702l1,-4M930,663l-3,1M1089,660l-0,-5M1112,656l-0,-4M1141,640l-1,4M1163,686l-1,4M1026,678l3,3M933,747l1,-3M999,634l-3,-4M1141,663l0,5M996,622l3,1M1046,648l-5,-1" fill="none" stroke="#f2f2f2" stroke-width="9" stroke-linecap="round"/><path d="M1063,680l4,0M1004,611l3,-2M1086,691l-1,4M984,700l1,-3M1097,618l-3,-4M1144,703l5,2M1080,626l-4,0M1089,754l-2,-3M973,618l3,4M997,738l-2,-3" fill="none" stroke="#ececec" stroke-width="7" stroke-linecap="round"/><path d="M1044,673l0,-4M967,684l-2,4M1093,697l1,-5M1097,684l-3,-1M1165,732l1,-4M994,619l-0,-3M944,678l-4,-0M1017,685l1,3M916,719l4,3M1133,727l4,3M941,638l-4,2" fill="none" stroke="#f2f2f2" stroke-width="7" stroke-linecap="round"/><circle cx="934" cy="706" r="28" fill="#c4c4c4"/><circle cx="972.6" cy="722" r="20" fill="#d9d9d9"/><circle cx="1080.7" cy="724.6" r="24.7" fill="#d0d0d0"/><circle cx="1146.5" cy="727" r="23.5" fill="#d6d6d6"/><path d="M997.2,723.4L1011.3,736.3M1023.1,714.0L1025.5,734.0M1025.5,734.0L1044.3,741.0M1025.5,734.0L1011.3,736.3M1025.5,734.0L1013.7,754.0M1044.3,741.0L1046.6,756.3M1011.3,736.3L1002.0,750.4M1011.3,736.3L1013.7,754.0M1002.0,750.4L1013.7,754.0M1002.0,750.4L982.0,755.1M1013.7,754.0L1031.3,762.2M1046.6,756.3L1031.3,762.2M1046.6,756.3L1064.2,765.7M1046.6,756.3L1038.4,775.1M1031.3,762.2L1030.2,783.3M1031.3,762.2L1038.4,775.1M1064.2,765.7L1059.5,776.3M1064.2,765.7L1080.7,771.6M1030.2,783.3L1038.4,775.1M1038.4,775.1L1059.5,776.3M1059.5,776.3L1080.7,771.6M982.0,755.1L980.8,776.3M980.8,776.3L960.8,788.0M960.8,788.0L959.6,806.8M1094.8,739.9L1096.0,758.7M1096.0,758.7L1113.6,764.5M1096.0,758.7L1080.7,771.6M1113.6,764.5L1115.9,784.5M1080.7,771.6L1080.7,790.4M1115.9,784.5L1134.7,791.6M1115.9,784.5L1098.3,797.4M1080.7,790.4L1098.3,797.4M1080.7,790.4L1063.0,802.1M998.4,735.2L997.2,723.4" stroke="#777" stroke-width="6.7" fill="none"/><path d="M997.2,723.4L1011.3,736.3M1023.1,714.0L1025.5,734.0M1025.5,734.0L1044.3,741.0M1025.5,734.0L1011.3,736.3M1025.5,734.0L1013.7,754.0M1044.3,741.0L1046.6,756.3M1011.3,736.3L1002.0,750.4M1011.3,736.3L1013.7,754.0M1002.0,750.4L1013.7,754.0M1002.0,750.4L982.0,755.1M1013.7,754.0L1031.3,762.2M1046.6,756.3L1031.3,762.2M1046.6,756.3L1064.2,765.7M1046.6,756.3L1038.4,775.1M1031.3,762.2L1030.2,783.3M1031.3,762.2L1038.4,775.1M1064.2,765.7L1059.5,776.3M1064.2,765.7L1080.7,771.6M1030.2,783.3L1038.4,775.1M1038.4,775.1L1059.5,776.3M1059.5,776.3L1080.7,771.6M982.0,755.1L980.8,776.3M980.8,776.3L960.8,788.0M960.8,788.0L959.6,806.8M1094.8,739.9L1096.0,758.7M1096.0,758.7L1113.6,764.5M1096.0,758.7L1080.7,771.6M1113.6,764.5L1115.9,784.5M1080.7,771.6L1080.7,790.4M1115.9,784.5L1134.7,791.6M1115.9,784.5L1098.3,797.4M1080.7,790.4L1098.3,797.4M1080.7,790.4L1063.0,802.1M998.4,735.2L997.2,723.4" stroke="#e6e6e6" stroke-width="4.8" fill="none"/><circle cx="997.2" cy="723.4" r="7.5" fill="url(#gC)" stroke="#2a2a2a" stroke-width="0.6" stroke-opacity="0.5"/><circle cx="998.4" cy="735.2" r="5.4" fill="url(#gH)" stroke="#2a2a2a" stroke-width="0.6" stroke-opacity="0.5"/><circle cx="1023.1" cy="714.0" r="7.5" fill="url(#gC)" stroke="#2a2a2a" stroke-width="0.6" stroke-opacity="0.5"/><circle cx="1025.5" cy="734.0" r="7.5" fill="url(#gC)" stroke="#2a2a2a" stroke-width="0.6" stroke-opacity="0.5"/><circle cx="1044.3" cy="741.0" r="6.9" fill="url(#gN)" stroke="#2a2a2a" stroke-width="0.6" stroke-opacity="0.5"/><circle cx="1011.3" cy="736.3" r="6.9" fill="url(#gN)" stroke="#2a2a2a" stroke-width="0.6" stroke-opacity="0.5"/><circle cx="1002.0" cy="750.4" r="6.9" fill="url(#gN)" stroke="#2a2a2a" stroke-width="0.6" stroke-opacity="0.5"/><circle cx="1013.7" cy="754.0" r="7.5" fill="url(#gC)" stroke="#2a2a2a" stroke-width="0.6" stroke-opacity="0.5"/><circle cx="1046.6" cy="756.3" r="7.5" fill="url(#gC)" stroke="#2a2a2a" stroke-width="0.6" stroke-opacity="0.5"/><circle cx="1031.3" cy="762.2" r="7.5" fill="url(#gC)" stroke="#2a2a2a" stroke-width="0.6" stroke-opacity="0.5"/><circle cx="1064.2" cy="765.7" r="6.9" fill="url(#gN)" stroke="#2a2a2a" stroke-width="0.6" stroke-opacity="0.5"/><circle cx="1030.2" cy="783.3" r="7.1" fill="url(#gc)" stroke="#2a2a2a" stroke-width="0.6" stroke-opacity="0.5"/><circle cx="1038.4" cy="775.1" r="7.5" fill="url(#gC)" stroke="#2a2a2a" stroke-width="0.6" stroke-opacity="0.5"/><circle cx="1059.5" cy="776.3" r="7.5" fill="url(#gC)" stroke="#2a2a2a" stroke-width="0.6" stroke-opacity="0.5"/><circle cx="982.0" cy="755.1" r="7.5" fill="url(#gC)" stroke="#2a2a2a" stroke-width="0.6" stroke-opacity="0.5"/><circle cx="980.8" cy="776.3" r="7.5" fill="url(#gC)" stroke="#2a2a2a" stroke-width="0.6" stroke-opacity="0.5"/><circle cx="960.8" cy="788.0" r="7.5" fill="url(#gC)" stroke="#2a2a2a" stroke-width="0.6" stroke-opacity="0.5"/><circle cx="959.6" cy="806.8" r="7.5" fill="url(#gC)" stroke="#2a2a2a" stroke-width="0.6" stroke-opacity="0.5"/><circle cx="1094.8" cy="739.9" r="7.5" fill="url(#gC)" stroke="#2a2a2a" stroke-width="0.6" stroke-opacity="0.5"/><circle cx="1096.0" cy="758.7" r="7.5" fill="url(#gC)" stroke="#2a2a2a" stroke-width="0.6" stroke-opacity="0.5"/><circle cx="1113.6" cy="764.5" r="7.5" fill="url(#gC)" stroke="#2a2a2a" stroke-width="0.6" stroke-opacity="0.5"/><circle cx="1080.7" cy="771.6" r="7.5" fill="url(#gC)" stroke="#2a2a2a" stroke-width="0.6" stroke-opacity="0.5"/><circle cx="1115.9" cy="784.5" r="7.5" fill="url(#gC)" stroke="#2a2a2a" stroke-width="0.6" stroke-opacity="0.5"/><circle cx="1134.7" cy="791.6" r="7.5" fill="url(#gC)" stroke="#2a2a2a" stroke-width="0.6" stroke-opacity="0.5"/><circle cx="1080.7" cy="790.4" r="7.5" fill="url(#gC)" stroke="#2a2a2a" stroke-width="0.6" stroke-opacity="0.5"/><circle cx="1098.3" cy="797.4" r="7.5" fill="url(#gC)" stroke="#2a2a2a" stroke-width="0.6" stroke-opacity="0.5"/><circle cx="1063.0" cy="802.1" r="7.5" fill="url(#gC)" stroke="#2a2a2a" stroke-width="0.6" stroke-opacity="0.5"/></g><g clip-path="url(#clip3)"><rect x="906" y="906" width="261" height="262.8" fill="#fbfbfb"/><path d="M949,1014L940,1023L932,1037L919,1046L928,1055L940,1069L947,1080L940,1090L935,1100L944,1111L934,1119L926,1131L931,1144M1031,993L1023,1007L1030,1020L1023,1031L1032,1042L1025,1051L1037,1059L1042,1073L1052,1082L1041,1092L1050,1101M925,986L917,997L924,1011L913,1026L923,1036L932,1048L941,1061L931,1075L937,1085L931,1099M913,953L920,966L908,981L915,989L926,998L917,1008L910,1020L916,1032L907,1043L895,1057L885,1065L894,1074L889,1087L896,1100L902,1111L909,1122L902,1133L911,1143L902,1154M1120,1019L1125,1029L1118,1040L1127,1049L1121,1058L1131,1069L1118,1080L1127,1095L1120,1103L1130,1117L1120,1127L1127,1141M1124,1047L1132,1056L1124,1069L1132,1082L1125,1094L1135,1105L1124,1119L1128,1128L1119,1140L1126,1150M1058,963L1063,977L1051,989L1057,1000L1051,1015L1060,1024L1052,1034L1062,1043L1054,1052L1061,1062L1069,1075M1135,992L1144,1003L1136,1012L1144,1022L1153,1030L1163,1039L1155,1048L1161,1057L1152,1069L1146,1081L1139,1091L1149,1104L1138,1116M1127,1004L1116,1016L1127,1030L1117,1042L1125,1055L1116,1065L1123,1074L1118,1085L1126,1097L1116,1111M1168,1051L1156,1060L1167,1074L1160,1083L1170,1094L1161,1105L1168,1115L1162,1128L1169,1141L1161,1152L1167,1165L1176,1180L1186,1188L1194,1199L1188,1212L1178,1227M903,966L894,979L902,988L892,1001L903,1013L908,1028L920,1037L930,1050L937,1065L930,1075L939,1089L930,1101L939,1111L933,1125" fill="none" stroke="#f3f3f3" stroke-width="12" stroke-linecap="round" stroke-linejoin="round"/><path d="M1129,968L1136,978L1127,989L1134,1000L1129,1015L1118,1025L1110,1036L1115,1050L1121,1062L1134,1077L1127,1090L1137,1100L1128,1108M927,992L936,1002L943,1011L933,1026L944,1040L936,1050L943,1059L933,1068L940,1081L930,1094M970,1048L961,1058L968,1072L963,1083L970,1092L961,1105L968,1114L957,1126L964,1138L958,1151L968,1165L960,1177L967,1192L977,1203M930,1040L922,1048L931,1057L923,1070L933,1084L941,1094L952,1105L944,1118L954,1133L948,1142L957,1156L951,1165L959,1177L949,1188L941,1200L930,1209L941,1219M927,1006L937,1014L932,1026L941,1038L932,1050L939,1060L932,1069L944,1083L940,1098L948,1108L941,1121L949,1132L938,1147L943,1160L936,1171L942,1180M1130,992L1140,1006L1146,1017L1155,1026L1145,1040L1155,1049L1161,1063L1168,1074L1179,1084L1186,1095L1176,1109M991,1026L999,1040L990,1050L1000,1060L989,1073L999,1084L1003,1095L997,1107L991,1115L1003,1125L992,1136L1001,1148L994,1158M996,1049L989,1061L998,1075L989,1089L994,1100L985,1115L995,1124L988,1134L995,1148L1003,1158M1145,1035L1151,1045L1139,1055L1130,1063L1120,1075L1109,1088L1117,1102L1127,1117L1122,1125L1129,1139" fill="none" stroke="#eeeeee" stroke-width="12" stroke-linecap="round" stroke-linejoin="round"/><path d="M944,956L951,965L939,979L950,988L940,1000L947,1014L941,1027L948,1039L942,1049L953,1059L944,1069M986,975L995,984L990,999L996,1010L988,1019L984,1031L976,1043L984,1057L975,1067L987,1081L993,1095L1002,1104L1007,1117L1013,1132L1003,1145L1012,1156M1122,957L1128,971L1118,983L1128,994L1117,1007L1126,1019L1121,1031L1131,1041L1121,1055L1128,1067M1142,1050L1132,1063L1138,1075L1132,1087L1142,1097L1137,1110L1143,1123L1137,1131L1146,1143L1138,1156L1128,1170L1118,1182L1128,1196L1118,1209L1128,1224M1019,985L1009,994L1017,1008L1006,1021L1014,1031L1006,1042L1013,1056L1004,1071L1009,1085L1000,1098L1007,1111L996,1125L1003,1138L991,1147L984,1159L972,1174M1069,961L1063,975L1073,990L1064,1002L1069,1012L1057,1021L1066,1034L1058,1048L1066,1058" fill="none" stroke="#e9e9e9" stroke-width="11" stroke-linecap="round" stroke-linejoin="round"/><path d="M1006,997L1000,1010L1010,1019L1003,1027L1014,1036L1005,1047L1014,1062L1006,1072L1015,1085L1008,1099L1016,1109L1011,1118L1017,1130M1069,1027L1076,1037L1068,1052L1059,1065L1067,1079L1075,1092L1071,1102L1065,1113L1058,1128L1063,1141L1055,1153L1062,1165M1151,958L1142,973L1148,984L1141,995L1147,1007L1137,1022L1145,1030L1138,1042L1150,1057L1141,1066L1151,1080L1160,1091L1169,1103L1160,1114L1165,1124L1158,1138" fill="none" stroke="#e4e4e4" stroke-width="11" stroke-linecap="round" stroke-linejoin="round"/><path d="M1070,915l-2,6M1106,911l-3,-2M957,936l5,-1M1075,936l-2,5M961,916l2,-4" fill="none" stroke="#72dcdc" stroke-width="9" stroke-linecap="round"/><path d="M1068,936l-5,-1M1063,963l3,3M1064,964l4,3M987,935l-4,-2M1013,929l1,-6M963,946l4,-3M909,918l1,4M1055,967l3,3M915,929l0,4M943,964l-0,-4M1046,929l3,4" fill="none" stroke="#88e2e2" stroke-width="9" stroke-linecap="round"/><path d="M997,909l4,-4M1023,913l-4,-2M933,924l-5,3M961,921l-0,4M1164,930l2,6M958,922l1,5M1011,937l-1,-6M975,907l-2,5" fill="none" stroke="#72dcdc" stroke-width="8" stroke-linecap="round"/><path d="M995,1005l-3,3M1028,993l5,0M1011,1005l1,5M1166,983l2,-5M1097,979l2,6M912,983l4,4" fill="none" stroke="#bdeeee" stroke-width="9" stroke-linecap="round"/><path d="M1113,935l4,5M1036,944l-2,-4M940,924l5,2M1158,963l-6,-1M1158,916l-2,5M956,933l-4,-3M1044,927l-1,-5M1016,921l1,6" fill="none" stroke="#88e2e2" stroke-width="8" stroke-linecap="round"/><path d="M1001,951l-3,-3M1064,957l2,-3M1133,981l-4,-3M1132,950l-1,-4M1171,990l-3,3M1138,995l3,-3M924,992l5,0" fill="none" stroke="#a2e8e8" stroke-width="8" stroke-linecap="round"/><path d="M1074,944l-3,3M1035,951l4,3M1125,972l0,-5M1143,945l6,2M1163,952l-4,5M1125,929l5,2M1048,919l5,-1M1160,933l-6,-1M1159,963l-4,-0" fill="none" stroke="#88e2e2" stroke-width="10" stroke-linecap="round"/><path d="M999,1009l4,3M1018,1018l-5,-4M1103,1013l-1,-5M1069,1017l6,1" fill="none" stroke="#d6f4f4" stroke-width="8" stroke-linecap="round"/><path d="M1027,1014l-2,6M970,995l-3,5M957,1014l4,1" fill="none" stroke="#d6f4f4" stroke-width="9" stroke-linecap="round"/><path d="M1082,976l-0,-5M1013,952l5,4M1052,949l-6,-1M984,954l-5,1M1045,976l3,3M970,980l-5,2M1097,942l-0,6M1096,971l3,-4M979,964l1,-4M1076,949l-5,-3" fill="none" stroke="#a2e8e8" stroke-width="10" stroke-linecap="round"/><path d="M1033,931l-4,-2M1048,913l2,-4M932,912l-5,1M1111,916l1,5M1129,904l4,4" fill="none" stroke="#72dcdc" stroke-width="10" stroke-linecap="round"/><path d="M1137,983l-5,1M1082,1003l-6,-3M1163,1002l-3,2M1166,1005l2,4M1014,980l-5,-3M1146,1012l4,2" fill="none" stroke="#bdeeee" stroke-width="8" stroke-linecap="round"/><path d="M1115,955l-4,-4M934,955l2,-3M1135,980l-5,4M1139,970l1,4" fill="none" stroke="#a2e8e8" stroke-width="9" stroke-linecap="round"/><path d="M1157,910l0,-4M959,919l-4,4M1163,910l-5,1M1155,928l-0,-6M1159,907l5,-1" fill="none" stroke="#5fd6d6" stroke-width="8" stroke-linecap="round"/><path d="M1018,997l4,3M975,1004l3,-1M1056,1000l1,-5M1151,1006l-4,-5M1168,983l-1,5" fill="none" stroke="#bdeeee" stroke-width="10" stroke-linecap="round"/><path d="M940,921l3,-3M1112,919l-5,1M1046,910l-1,-4M1115,909l-3,4" fill="none" stroke="#5fd6d6" stroke-width="10" stroke-linecap="round"/><path d="M1147,913l-1,5" fill="none" stroke="#5fd6d6" stroke-width="9" stroke-linecap="round"/><path d="M971,1016l-5,3" fill="none" stroke="#d6f4f4" stroke-width="10" stroke-linecap="round"/><path d="M1067,923l-2,4M992,1010l-2,3M1102,908l-3,-2M1025,1022l-2,5M982,932l-3,-1M942,958l-0,-3M917,989l3,4M1050,934l2,3" fill="none" stroke="#efefef" stroke-width="8" stroke-linecap="round"/><path d="M1060,935l-4,-1M1067,968l3,3M1073,943l-1,4M969,941l3,-3M965,1002l-3,4M962,1015l3,1M964,910l1,-3M1128,986l-4,3M915,934l0,3M1140,976l1,3" fill="none" stroke="#ececec" stroke-width="8" stroke-linecap="round"/><path d="M1003,903l4,-4M1004,1014l3,3M961,926l-0,3M1033,938l-2,-3M1150,962l-5,-1M1010,928l-1,-5M1067,953l2,-3M1130,944l-1,-3M1155,919l-0,-5M1007,976l-4,-2M931,993l4,0" fill="none" stroke="#f2f2f2" stroke-width="7" stroke-linecap="round"/><path d="M1118,942l3,4M1018,911l-3,-1M997,947l-2,-3M1130,984l-4,0M926,928l-4,2M1158,1005l-2,2M1168,1011l1,3M1155,922l-2,4M952,926l-4,3M951,929l-3,-2M1017,929l1,5M1127,977l-3,-2M1078,1019l5,1M1166,994l-3,2M1152,1015l4,2M1165,905l4,-1" fill="none" stroke="#ececec" stroke-width="7" stroke-linecap="round"/><path d="M964,935l4,-1M1070,969l3,3M1035,993l4,0M1109,949l-3,-3M1014,920l1,-5M938,952l2,-2M1013,1012l1,4M910,924l1,3M1169,975l2,-4M1059,971l2,2M1099,987l1,5M1145,920l-1,4" fill="none" stroke="#f2f2f2" stroke-width="8" stroke-linecap="round"/><path d="M1070,948l-3,2M1158,958l-3,4M1052,906l2,-4M1054,917l4,-1M1049,980l2,3M963,983l-4,2M926,913l-4,1M1099,965l2,-3M1057,993l1,-4M1110,914l-2,3M1145,1000l-3,-4" fill="none" stroke="#ececec" stroke-width="9" stroke-linecap="round"/><path d="M1082,970l-0,-4M1028,928l-3,-2M1126,965l0,-4M1151,948l5,2M1132,931l4,1M1151,932l-5,-1M977,956l-4,1M1097,950l-0,5M1106,919l-4,0M980,1003l3,-1M1044,904l-1,-4M964,1020l-4,3M1112,922l1,4M1167,990l-1,4" fill="none" stroke="#efefef" stroke-width="9" stroke-linecap="round"/><path d="M1011,1013l-4,-3M1102,1006l-1,-4M1074,998l-4,-2M948,927l4,1M1167,938l2,4M1157,904l0,-3M960,929l1,4M1043,920l-1,-4M972,915l-1,4M1156,912l-4,1M1141,991l2,-3" fill="none" stroke="#efefef" stroke-width="7" stroke-linecap="round"/><path d="M1019,957l4,3M1041,955l3,3M1023,1001l3,2M944,918l3,-2M1043,948l-5,-0M981,959l1,-3M1153,963l-3,-0M1135,910l3,3M1069,945l-4,-3" fill="none" stroke="#f2f2f2" stroke-width="9" stroke-linecap="round"/><circle cx="977.3" cy="984.3" r="20" fill="#d8d8d8"/><circle cx="1064.2" cy="984.3" r="20" fill="#d8d8d8"/><circle cx="1099.5" cy="960.8" r="21" fill="#dcdcdc"/><circle cx="963.2" cy="972.6" r="25.9" fill="#c6c6c6"/><circle cx="1047.8" cy="967.9" r="25.9" fill="#c4c4c4"/><path d="M1067.8,1025.5L1061.9,1044.3M1061.9,1044.3L1049.0,1047.8M1061.9,1044.3L1070.1,1059.5M1049.0,1047.8L1040.7,1066.6M1084.2,1056.0L1070.1,1059.5M1018.4,1057.2L1027.8,1068.9M1070.1,1059.5L1061.9,1078.3M1040.7,1066.6L1027.8,1068.9M1040.7,1066.6L1049.0,1081.9M1027.8,1068.9L1024.3,1087.7M1061.9,1078.3L1049.0,1081.9M1061.9,1078.3L1053.7,1091.3M1061.9,1078.3L1070.1,1096.0M1049.0,1081.9L1053.7,1091.3M1049.0,1081.9L1037.2,1098.3M1024.3,1087.7L1005.5,1097.1M1024.3,1087.7L1037.2,1098.3M1053.7,1091.3L1070.1,1096.0M1053.7,1091.3L1037.2,1098.3M1053.7,1091.3L1058.4,1108.9M1070.1,1096.0L1087.7,1097.1M1070.1,1096.0L1058.4,1108.9M1005.5,1097.1L1003.1,1114.8M1037.2,1098.3L1034.9,1116.0M1003.1,1114.8L1018.4,1124.2M1034.9,1116.0L1018.4,1124.2M1076.0,1023.1L1067.8,1025.5M1084.2,1040.7L1084.2,1056.0" stroke="#777" stroke-width="7.0" fill="none"/><path d="M1067.8,1025.5L1061.9,1044.3M1061.9,1044.3L1049.0,1047.8M1061.9,1044.3L1070.1,1059.5M1049.0,1047.8L1040.7,1066.6M1084.2,1056.0L1070.1,1059.5M1018.4,1057.2L1027.8,1068.9M1070.1,1059.5L1061.9,1078.3M1040.7,1066.6L1027.8,1068.9M1040.7,1066.6L1049.0,1081.9M1027.8,1068.9L1024.3,1087.7M1061.9,1078.3L1049.0,1081.9M1061.9,1078.3L1053.7,1091.3M1061.9,1078.3L1070.1,1096.0M1049.0,1081.9L1053.7,1091.3M1049.0,1081.9L1037.2,1098.3M1024.3,1087.7L1005.5,1097.1M1024.3,1087.7L1037.2,1098.3M1053.7,1091.3L1070.1,1096.0M1053.7,1091.3L1037.2,1098.3M1053.7,1091.3L1058.4,1108.9M1070.1,1096.0L1087.7,1097.1M1070.1,1096.0L1058.4,1108.9M1005.5,1097.1L1003.1,1114.8M1037.2,1098.3L1034.9,1116.0M1003.1,1114.8L1018.4,1124.2M1034.9,1116.0L1018.4,1124.2M1076.0,1023.1L1067.8,1025.5M1084.2,1040.7L1084.2,1056.0" stroke="#e6e6e6" stroke-width="5.1" fill="none"/><circle cx="1076.0" cy="1023.1" r="5.7" fill="url(#gH)" stroke="#2a2a2a" stroke-width="0.6" stroke-opacity="0.5"/><circle cx="1067.8" cy="1025.5" r="7.3" fill="url(#gO)" stroke="#2a2a2a" stroke-width="0.6" stroke-opacity="0.5"/><circle cx="1084.2" cy="1040.7" r="5.7" fill="url(#gH)" stroke="#2a2a2a" stroke-width="0.6" stroke-opacity="0.5"/><circle cx="1061.9" cy="1044.3" r="7.9" fill="url(#gC)" stroke="#2a2a2a" stroke-width="0.6" stroke-opacity="0.5"/><circle cx="1049.0" cy="1047.8" r="7.9" fill="url(#gC)" stroke="#2a2a2a" stroke-width="0.6" stroke-opacity="0.5"/><circle cx="1084.2" cy="1056.0" r="7.3" fill="url(#gO)" stroke="#2a2a2a" stroke-width="0.6" stroke-opacity="0.5"/><circle cx="1018.4" cy="1057.2" r="7.3" fill="url(#gO)" stroke="#2a2a2a" stroke-width="0.6" stroke-opacity="0.5"/><circle cx="1070.1" cy="1059.5" r="7.9" fill="url(#gC)" stroke="#2a2a2a" stroke-width="0.6" stroke-opacity="0.5"/><circle cx="1040.7" cy="1066.6" r="7.9" fill="url(#gC)" stroke="#2a2a2a" stroke-width="0.6" stroke-opacity="0.5"/><circle cx="1027.8" cy="1068.9" r="7.9" fill="url(#gC)" stroke="#2a2a2a" stroke-width="0.6" stroke-opacity="0.5"/><circle cx="1061.9" cy="1078.3" r="7.9" fill="url(#gC)" stroke="#2a2a2a" stroke-width="0.6" stroke-opacity="0.5"/><circle cx="1049.0" cy="1081.9" r="7.9" fill="url(#gC)" stroke="#2a2a2a" stroke-width="0.6" stroke-opacity="0.5"/><circle cx="1024.3" cy="1087.7" r="7.9" fill="url(#gC)" stroke="#2a2a2a" stroke-width="0.6" stroke-opacity="0.5"/><circle cx="1053.7" cy="1091.3" r="6.8" fill="url(#gF)" stroke="#2a2a2a" stroke-width="0.6" stroke-opacity="0.5"/><circle cx="1070.1" cy="1096.0" r="7.3" fill="url(#gN)" stroke="#2a2a2a" stroke-width="0.6" stroke-opacity="0.5"/><circle cx="1087.7" cy="1097.1" r="7.3" fill="url(#gO)" stroke="#2a2a2a" stroke-width="0.6" stroke-opacity="0.5"/><circle cx="1005.5" cy="1097.1" r="7.9" fill="url(#gC)" stroke="#2a2a2a" stroke-width="0.6" stroke-opacity="0.5"/><circle cx="1037.2" cy="1098.3" r="7.9" fill="url(#gC)" stroke="#2a2a2a" stroke-width="0.6" stroke-opacity="0.5"/><circle cx="1058.4" cy="1108.9" r="7.3" fill="url(#gO)" stroke="#2a2a2a" stroke-width="0.6" stroke-opacity="0.5"/><circle cx="1003.1" cy="1114.8" r="7.9" fill="url(#gC)" stroke="#2a2a2a" stroke-width="0.6" stroke-opacity="0.5"/><circle cx="1034.9" cy="1116.0" r="7.9" fill="url(#gC)" stroke="#2a2a2a" stroke-width="0.6" stroke-opacity="0.5"/><circle cx="1018.4" cy="1124.2" r="7.9" fill="url(#gC)" stroke="#2a2a2a" stroke-width="0.6" stroke-opacity="0.5"/></g><g clip-path="url(#clip4)"><rect x="906" y="1199" width="261" height="261" fill="#fbfbfb"/><path d="M928,1326L918,1340L929,1354L920,1367L925,1376L915,1387L922,1398L913,1409L922,1420L917,1430L910,1443L900,1453L911,1464L923,1474L930,1487L925,1502L935,1515M924,1353L916,1368L921,1380L915,1391L922,1401L916,1413L910,1427L915,1437L921,1448L914,1458L922,1469M964,1317L969,1327L961,1336L973,1350L967,1362L978,1376L971,1384L977,1393L989,1404L995,1413L988,1427L999,1437L1007,1445L1016,1456L1010,1469L1001,1482L995,1493L1006,1508M1142,1320L1136,1333L1128,1346L1121,1358L1129,1367L1124,1380L1133,1389L1127,1397L1131,1406L1124,1418L1134,1429L1144,1441L1153,1450M1016,1330L1008,1338L1016,1352L1009,1365L1002,1379L994,1392L1002,1405L1013,1416L1021,1428L1010,1443L1002,1458L993,1471L1002,1480M1025,1319L1015,1331L1024,1345L1014,1356L1020,1368L1013,1381L1021,1390L1014,1402L1020,1412L1008,1425L997,1437L986,1447L996,1456L985,1466L991,1477L983,1491L973,1501L964,1511M979,1324L986,1339L978,1349L987,1361L975,1371L982,1383L977,1395L985,1407L978,1418L971,1432L961,1446L966,1459L958,1473L963,1481L955,1490L966,1500L972,1512L980,1523M928,1298L920,1313L927,1323L935,1336L942,1347L951,1358L960,1368L949,1381L938,1391L930,1403L924,1416L915,1429L922,1442L916,1451L925,1460L918,1469M1028,1309L1035,1319L1030,1333L1020,1346L1011,1360L1002,1373L996,1382L1001,1392L993,1400L998,1412L989,1421L998,1434L989,1444L996,1455M1033,1294L1023,1303L1035,1314L1027,1322L1037,1335L1029,1345L1034,1355L1026,1363L1036,1378L1028,1393M1026,1297L1032,1310L1027,1322L1035,1336L1025,1348L1016,1357L1027,1371L1033,1385L1025,1398L1031,1412L1024,1422L1031,1432L1024,1441L1020,1455L1011,1464" fill="none" stroke="#f3f3f3" stroke-width="12" stroke-linecap="round" stroke-linejoin="round"/><path d="M1110,1276L1116,1286L1108,1298L1116,1313L1105,1323L1115,1331L1107,1343L1114,1353L1104,1366L1096,1376L1087,1389L1096,1404L1090,1414L1102,1428L1095,1440L1103,1449M1023,1323L1016,1334L1024,1343L1014,1353L1019,1365L1027,1376L1035,1385L1029,1395L1020,1409L1016,1424L1027,1438L1018,1451L1025,1464L1015,1473L1025,1487M1039,1310L1044,1321L1034,1332L1041,1345L1035,1356L1043,1366L1050,1376L1059,1386L1054,1397L1060,1410L1055,1423L1061,1434L1051,1448L1062,1458L1070,1470L1079,1479L1085,1490M1040,1283L1049,1297L1041,1308L1030,1322L1038,1331L1048,1343L1053,1357L1063,1369L1057,1379L1066,1389L1057,1397L1045,1412L1036,1424L1047,1434L1038,1447L1045,1457L1055,1467M1005,1291L1013,1302L1003,1314L1011,1328L1002,1338L1008,1347L1013,1355L1005,1369L997,1382L1008,1393L1016,1407M1030,1333L1020,1346L1027,1356L1022,1370L1013,1383L1003,1392L1015,1406L1022,1419L1029,1434L1019,1443L1023,1454L1012,1469M1169,1279L1179,1292L1171,1302L1179,1313L1171,1323L1181,1332L1170,1347L1179,1359L1172,1372L1178,1382L1172,1396L1178,1409M967,1286L976,1300L967,1311L975,1324L968,1334L973,1348L966,1357L976,1367L970,1376L958,1387L952,1400M949,1299L941,1310L950,1324L938,1333L943,1346L952,1355L959,1369L948,1381L937,1389L928,1400L938,1412L946,1422M1119,1287L1128,1296L1119,1307L1128,1319L1117,1328L1125,1342L1118,1353L1127,1365L1115,1379L1124,1388L1116,1401L1126,1412L1133,1426L1143,1439L1137,1447L1146,1460L1138,1471" fill="none" stroke="#eeeeee" stroke-width="12" stroke-linecap="round" stroke-linejoin="round"/><path d="M1165,1312L1172,1321L1176,1334L1166,1343L1175,1356L1179,1365L1185,1379L1193,1391L1201,1401L1196,1410L1207,1423L1198,1438L1209,1450M1135,1357L1143,1368L1153,1382L1160,1393L1165,1401L1170,1415L1162,1430L1167,1443L1158,1457L1169,1470M1084,1335L1090,1350L1096,1364L1089,1373L1099,1384L1090,1392L1096,1402L1086,1416L1093,1428L1089,1437L1084,1449L1073,1459L1083,1473L1074,1485L1086,1496L1078,1511L1082,1525M1034,1349L1041,1364L1049,1375L1058,1386L1069,1394L1062,1404L1055,1413L1063,1427L1056,1441L1065,1452L1058,1463L1049,1478L1041,1486L1046,1497L1056,1509L1064,1518M1029,1363L1020,1372L1027,1385L1022,1398L1012,1412L1003,1424L995,1434L990,1447L999,1457M1163,1288L1151,1302L1146,1314L1138,1323L1149,1335L1140,1349L1149,1358L1142,1369L1134,1378L1128,1387L1118,1402L1107,1411L1117,1421L1112,1436" fill="none" stroke="#e9e9e9" stroke-width="11" stroke-linecap="round" stroke-linejoin="round"/><path d="M1076,1362L1069,1371L1079,1382L1067,1392L1058,1403L1051,1417L1041,1431L1033,1441L1041,1456L1031,1469L1019,1480L1024,1489L1015,1501L1006,1510L1016,1520L1009,1534L1016,1543L1010,1551M1133,1351L1123,1361L1135,1371L1127,1382L1137,1395L1128,1404L1136,1417L1146,1426L1157,1437L1147,1450L1141,1462M1149,1307L1160,1317L1172,1331L1181,1340L1172,1353L1178,1364L1171,1372L1180,1387L1170,1400L1179,1413L1172,1428L1162,1440L1153,1454L1161,1464L1153,1473" fill="none" stroke="#e4e4e4" stroke-width="11" stroke-linecap="round" stroke-linejoin="round"/><path d="M1128,1262l2,5M1078,1276l-1,-4M1109,1306l2,-4M1161,1299l1,-5M1167,1294l3,-4M1018,1256l1,4M1048,1251l-5,-1M1024,1266l1,3" fill="none" stroke="#a2e8e8" stroke-width="10" stroke-linecap="round"/><path d="M932,1212l4,1M1098,1231l-6,3M1114,1234l-3,3M1013,1220l-5,2M926,1218l3,4M1157,1240l3,3M932,1205l-6,1M920,1217l4,-2M1003,1222l4,-3M981,1209l-3,-6M1163,1213l4,4M1049,1229l-4,1M1068,1205l-5,0" fill="none" stroke="#72dcdc" stroke-width="10" stroke-linecap="round"/><path d="M995,1271l5,0M912,1261l-1,4M949,1285l-1,6M1053,1265l0,5M982,1286l1,-5M1111,1248l5,-2M900,1290l4,2M938,1316l0,-4" fill="none" stroke="#a2e8e8" stroke-width="8" stroke-linecap="round"/><path d="M912,1246l-2,-3M1010,1232l-4,-2M1119,1223l0,-4M986,1219l-4,-1M1036,1263l4,3M955,1231l4,-2M1162,1253l2,-3" fill="none" stroke="#88e2e2" stroke-width="10" stroke-linecap="round"/><path d="M1051,1207l2,5M1028,1262l5,1M1054,1264l2,-4M975,1263l-2,-4M996,1225l-4,-4M1001,1215l-2,3M1039,1255l-6,2M986,1257l4,-1M1025,1244l-3,3M1020,1268l-2,-3M1136,1234l-2,4M1057,1256l5,-2" fill="none" stroke="#88e2e2" stroke-width="9" stroke-linecap="round"/><path d="M1126,1285l3,-2M965,1236l3,4M1052,1227l-2,4M978,1229l-5,-3M990,1278l5,-1" fill="none" stroke="#88e2e2" stroke-width="8" stroke-linecap="round"/><path d="M929,1201l-5,2M967,1216l3,3M1004,1197l-1,5M1094,1223l-4,-0M937,1233l5,2M913,1221l-6,2M1117,1223l2,-5M1059,1200l4,1M1060,1235l1,-4M1010,1218l3,5M1048,1204l-2,-5M973,1198l1,5" fill="none" stroke="#72dcdc" stroke-width="8" stroke-linecap="round"/><path d="M1115,1331l-3,5M912,1292l2,3M1033,1316l3,-3M941,1331l5,-3M912,1328l-3,-4M969,1319l-3,-6M943,1336l-4,-5" fill="none" stroke="#bdeeee" stroke-width="10" stroke-linecap="round"/><path d="M1072,1260l-3,-2M1132,1280l3,5M1049,1304l-2,4M1003,1238l6,-3M970,1301l5,2M1123,1270l-4,-1M1024,1260l-3,-4M997,1273l-4,-3" fill="none" stroke="#a2e8e8" stroke-width="9" stroke-linecap="round"/><path d="M991,1201l3,-3M1117,1200l4,-1M1126,1205l-4,-3M1091,1210l0,-4M1057,1201l5,1M924,1206l-4,1" fill="none" stroke="#5fd6d6" stroke-width="8" stroke-linecap="round"/><path d="M1024,1329l-4,2M1144,1312l-1,6M1026,1322l-2,-5M1081,1341l-3,-5" fill="none" stroke="#d6f4f4" stroke-width="8" stroke-linecap="round"/><path d="M909,1331l5,1M1024,1323l0,-4M971,1341l-2,4" fill="none" stroke="#d6f4f4" stroke-width="9" stroke-linecap="round"/><path d="M1139,1236l3,4M1151,1199l-5,-0M1144,1229l6,0M975,1209l-3,-4M1038,1201l-5,-4M907,1219l-3,3M1075,1245l-4,-2M1147,1202l-3,3M1051,1226l3,3M1040,1211l-0,-5M1069,1243l-6,2" fill="none" stroke="#72dcdc" stroke-width="9" stroke-linecap="round"/><path d="M1026,1317l5,2M1083,1335l-4,4M1131,1333l1,-4" fill="none" stroke="#d6f4f4" stroke-width="10" stroke-linecap="round"/><path d="M1015,1328l3,3M923,1326l4,2M1149,1282l-1,-5M1093,1294l-0,-6M935,1306l-2,3M941,1317l-3,3M1122,1301l5,-2M990,1268l-6,-1M1073,1306l-3,-4M961,1296l4,-0M913,1311l-3,3M1133,1325l0,5M1148,1325l-3,2" fill="none" stroke="#bdeeee" stroke-width="9" stroke-linecap="round"/><path d="M1171,1204l-5,0M1140,1207l6,1M976,1202l-1,-6" fill="none" stroke="#5fd6d6" stroke-width="9" stroke-linecap="round"/><path d="M1099,1284l4,1M937,1279l3,-5M1037,1312l3,2M951,1278l-2,6" fill="none" stroke="#bdeeee" stroke-width="8" stroke-linecap="round"/><path d="M912,1211l5,-2M989,1200l6,-2M1016,1208l2,-5M1054,1200l5,-1" fill="none" stroke="#5fd6d6" stroke-width="10" stroke-linecap="round"/><path d="M1131,1269l2,4M1111,1339l-3,4M1077,1271l-1,-3M1005,1223l-4,2M1004,1229l-3,-2M924,1206l-5,1M1162,1292l0,-4M925,1215l3,-1M1042,1267l3,2M1019,1201l2,-4M1165,1249l2,-2M1044,1230l-3,1M1061,1205l-4,0M937,1329l-3,-4" fill="none" stroke="#f2f2f2" stroke-width="9" stroke-linecap="round"/><path d="M938,1213l3,1M909,1242l-1,-3M1090,1234l-5,2M1110,1238l-3,2M1111,1300l1,-3M1038,1312l3,-2M949,1327l4,-2M981,1217l-3,-1M1171,1289l2,-3M1020,1263l1,3M919,1208l4,-2M961,1228l4,-1M1132,1327l1,-3M1025,1270l1,3" fill="none" stroke="#ececec" stroke-width="9" stroke-linecap="round"/><path d="M1002,1272l4,0M947,1293l-1,5M1123,1198l3,-1M905,1224l-4,2M1120,1216l1,-4M1092,1205l0,-3M984,1279l1,-4M1118,1245l4,-1M938,1310l0,-3" fill="none" stroke="#ececec" stroke-width="7" stroke-linecap="round"/><path d="M1053,1215l1,4M916,1331l4,0M1143,1241l2,3M1152,1230l5,0M1148,1208l5,1M1031,1196l-4,-3M990,1219l-3,-3M937,1320l-2,2M1031,1258l-5,2M991,1255l3,-1M1069,1301l-2,-3M1011,1235l4,-2M975,1193l-1,-5M968,1346l-1,3M1019,1254l-2,-3" fill="none" stroke="#efefef" stroke-width="8" stroke-linecap="round"/><path d="M1131,1282l2,-2M971,1220l2,2M995,1196l2,-3M1019,1333l-3,2M1002,1204l-1,4M1105,1284l3,0M944,1235l4,1M1042,1315l3,2M1062,1229l1,-3M905,1293l3,2M1013,1225l2,4M974,1206l1,4M948,1286l-1,5M1076,1333l-3,-4" fill="none" stroke="#efefef" stroke-width="7" stroke-linecap="round"/><path d="M922,1204l-4,1M912,1266l-0,3M970,1242l3,3M1143,1321l-1,5M1089,1222l-3,-0M1054,1272l0,4M1050,1233l-1,3M1121,1200l-3,-3M941,1272l2,-4M1065,1202l4,1M971,1225l-4,-3M1023,1315l-2,-4M997,1277l4,-1M1065,1203l4,1M919,1208l-3,1M1044,1197l-2,-4" fill="none" stroke="#f2f2f2" stroke-width="7" stroke-linecap="round"/><path d="M1034,1263l4,1M1067,1257l-3,-2M1056,1259l2,-3M972,1258l-1,-3M1164,1205l-4,0M929,1329l3,2M1147,1275l-1,-4M1093,1285l-0,-5M903,1223l-2,2M1129,1298l4,-2M1068,1242l-4,-1M1137,1288l3,4M1020,1248l-3,2M1055,1230l2,2M966,1296l3,-0M1046,1310l-2,3M908,1315l-2,2M1133,1239l-2,3M1133,1333l0,4M977,1303l4,2M1064,1253l4,-2M1118,1269l-3,-1M1061,1247l-5,2" fill="none" stroke="#f2f2f2" stroke-width="8" stroke-linecap="round"/><path d="M915,1296l2,2M1033,1320l4,1M929,1224l2,3M1162,1244l3,2M1120,1217l0,-3M1078,1340l-3,3M909,1323l-2,-3M997,1197l5,-2M1008,1218l3,-3M977,1202l-2,-4M1169,1219l3,4M1062,1198l4,-1M1042,1250l-4,-1M965,1311l-2,-5" fill="none" stroke="#efefef" stroke-width="9" stroke-linecap="round"/><path d="M1019,1332l2,2M1144,1199l-4,-0M971,1204l-2,-3M933,1310l-2,3M997,1218l-2,2M982,1267l-5,-1M1017,1263l-2,-3M1143,1207l-2,2M1040,1204l-0,-4M1144,1329l-2,2M1025,1317l0,-3M990,1269l-4,-2" fill="none" stroke="#ececec" stroke-width="8" stroke-linecap="round"/><circle cx="1094.8" cy="1319" r="22" fill="#dedede"/><circle cx="947.9" cy="1290.8" r="28" fill="#cacaca"/><circle cx="1027.8" cy="1270.8" r="28" fill="#c8c8c8"/><circle cx="1146.5" cy="1288.4" r="28" fill="#cbcbcb"/><path d="M996.1,1309.6L996.1,1293.1M996.1,1309.6L1000.8,1307.2M996.1,1309.6L1012.5,1324.9M996.1,1309.6L984.3,1331.9M996.1,1293.1L1000.8,1307.2M1000.8,1307.2L1012.5,1324.9M1012.5,1324.9L1033.7,1331.9M1012.5,1324.9L999.6,1337.8M1033.7,1331.9L1046.6,1349.5M984.3,1331.9L999.6,1337.8M999.6,1337.8L1014.9,1354.2M999.6,1337.8L1005.5,1362.5M1046.6,1349.5L1065.4,1355.4M1046.6,1349.5L1033.7,1360.1M1081.9,1344.8L1065.4,1355.4M1014.9,1354.2L1005.5,1362.5M1014.9,1354.2L1033.7,1360.1M1065.4,1355.4L1068.9,1378.9M1068.9,1378.9L1090.1,1386.0M1068.9,1378.9L1050.1,1393.0M1108.9,1374.2L1090.1,1386.0M1090.1,1386.0L1092.4,1407.1M1050.1,1393.0L1050.1,1411.8M1092.4,1407.1L1072.5,1422.4M1050.1,1411.8L1072.5,1422.4M993.7,1353.0L1005.5,1362.5" stroke="#777" stroke-width="7.7" fill="none"/><path d="M996.1,1309.6L996.1,1293.1M996.1,1309.6L1000.8,1307.2M996.1,1309.6L1012.5,1324.9M996.1,1309.6L984.3,1331.9M996.1,1293.1L1000.8,1307.2M1000.8,1307.2L1012.5,1324.9M1012.5,1324.9L1033.7,1331.9M1012.5,1324.9L999.6,1337.8M1033.7,1331.9L1046.6,1349.5M984.3,1331.9L999.6,1337.8M999.6,1337.8L1014.9,1354.2M999.6,1337.8L1005.5,1362.5M1046.6,1349.5L1065.4,1355.4M1046.6,1349.5L1033.7,1360.1M1081.9,1344.8L1065.4,1355.4M1014.9,1354.2L1005.5,1362.5M1014.9,1354.2L1033.7,1360.1M1065.4,1355.4L1068.9,1378.9M1068.9,1378.9L1090.1,1386.0M1068.9,1378.9L1050.1,1393.0M1108.9,1374.2L1090.1,1386.0M1090.1,1386.0L1092.4,1407.1M1050.1,1393.0L1050.1,1411.8M1092.4,1407.1L1072.5,1422.4M1050.1,1411.8L1072.5,1422.4M993.7,1353.0L1005.5,1362.5" stroke="#e6e6e6" stroke-width="5.5" fill="none"/><circle cx="996.1" cy="1309.6" r="7.9" fill="url(#gN)" stroke="#2a2a2a" stroke-width="0.6" stroke-opacity="0.5"/><circle cx="996.1" cy="1293.1" r="7.9" fill="url(#gO)" stroke="#2a2a2a" stroke-width="0.6" stroke-opacity="0.5"/><circle cx="1000.8" cy="1307.2" r="7.9" fill="url(#gO)" stroke="#2a2a2a" stroke-width="0.6" stroke-opacity="0.5"/><circle cx="1012.5" cy="1324.9" r="8.6" fill="url(#gC)" stroke="#2a2a2a" stroke-width="0.6" stroke-opacity="0.5"/><circle cx="1033.7" cy="1331.9" r="8.6" fill="url(#gC)" stroke="#2a2a2a" stroke-width="0.6" stroke-opacity="0.5"/><circle cx="984.3" cy="1331.9" r="7.9" fill="url(#gO)" stroke="#2a2a2a" stroke-width="0.6" stroke-opacity="0.5"/><circle cx="999.6" cy="1337.8" r="8.6" fill="url(#gC)" stroke="#2a2a2a" stroke-width="0.6" stroke-opacity="0.5"/><circle cx="1046.6" cy="1349.5" r="8.6" fill="url(#gC)" stroke="#2a2a2a" stroke-width="0.6" stroke-opacity="0.5"/><circle cx="1081.9" cy="1344.8" r="7.9" fill="url(#gO)" stroke="#2a2a2a" stroke-width="0.6" stroke-opacity="0.5"/><circle cx="993.7" cy="1353.0" r="6.2" fill="url(#gH)" stroke="#2a2a2a" stroke-width="0.6" stroke-opacity="0.5"/><circle cx="1014.9" cy="1354.2" r="8.6" fill="url(#gC)" stroke="#2a2a2a" stroke-width="0.6" stroke-opacity="0.5"/><circle cx="1065.4" cy="1355.4" r="8.6" fill="url(#gC)" stroke="#2a2a2a" stroke-width="0.6" stroke-opacity="0.5"/><circle cx="1005.5" cy="1362.5" r="7.9" fill="url(#gO)" stroke="#2a2a2a" stroke-width="0.6" stroke-opacity="0.5"/><circle cx="1033.7" cy="1360.1" r="8.6" fill="url(#gC)" stroke="#2a2a2a" stroke-width="0.6" stroke-opacity="0.5"/><circle cx="1068.9" cy="1378.9" r="8.6" fill="url(#gC)" stroke="#2a2a2a" stroke-width="0.6" stroke-opacity="0.5"/><circle cx="1108.9" cy="1374.2" r="7.4" fill="url(#gF)" stroke="#2a2a2a" stroke-width="0.6" stroke-opacity="0.5"/><circle cx="1090.1" cy="1386.0" r="8.6" fill="url(#gC)" stroke="#2a2a2a" stroke-width="0.6" stroke-opacity="0.5"/><circle cx="1050.1" cy="1393.0" r="8.6" fill="url(#gC)" stroke="#2a2a2a" stroke-width="0.6" stroke-opacity="0.5"/><circle cx="1092.4" cy="1407.1" r="8.6" fill="url(#gC)" stroke="#2a2a2a" stroke-width="0.6" stroke-opacity="0.5"/><circle cx="1050.1" cy="1411.8" r="8.6" fill="url(#gC)" stroke="#2a2a2a" stroke-width="0.6" stroke-opacity="0.5"/><circle cx="1072.5" cy="1422.4" r="8.6" fill="url(#gC)" stroke="#2a2a2a" stroke-width="0.6" stroke-opacity="0.5"/></g></svg>
</body></html>
